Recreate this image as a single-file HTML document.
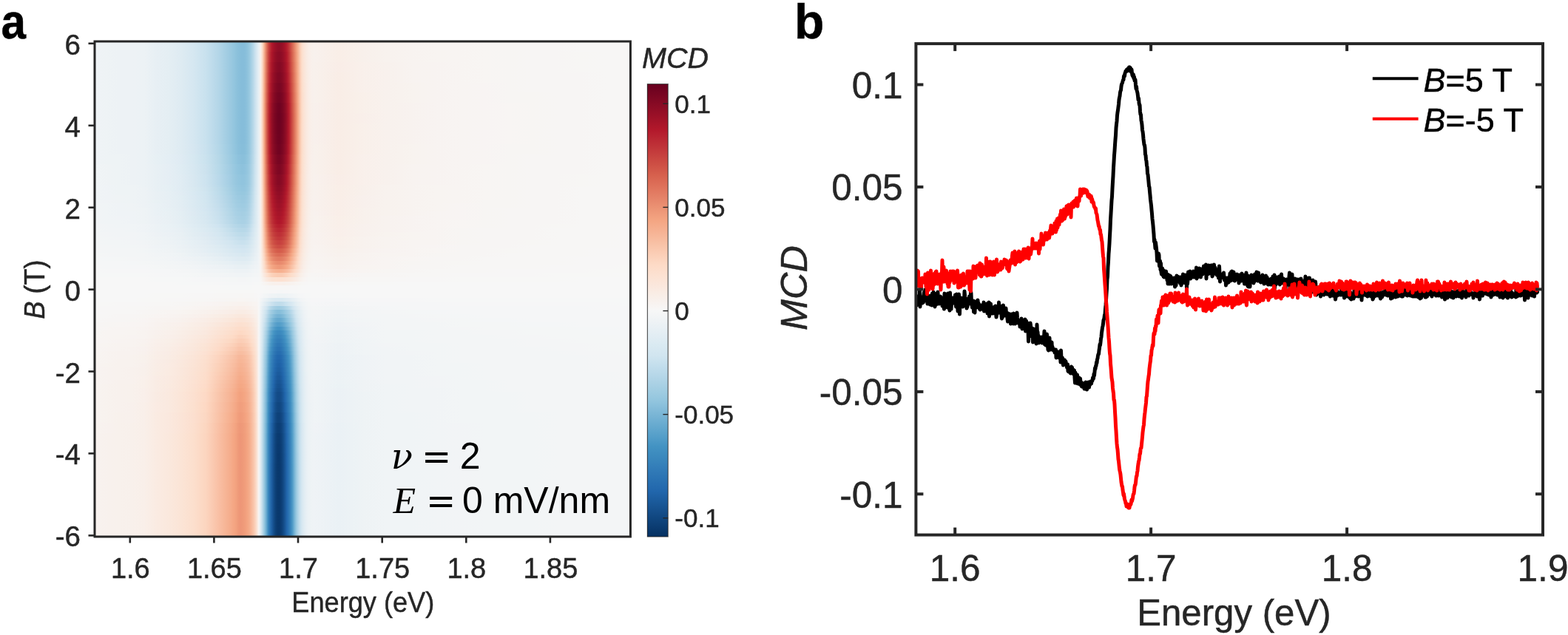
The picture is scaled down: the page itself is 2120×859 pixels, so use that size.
<!DOCTYPE html>
<html><head><meta charset="utf-8"><title>MCD figure</title>
<style>
html,body{margin:0;padding:0;background:#fff;}
#fig{position:relative;width:2120px;height:859px;overflow:hidden;background:#fff;font-family:"Liberation Sans",Arial,Helvetica,sans-serif;}
#heat{position:absolute;left:128.0px;top:56.0px;width:724.4px;height:670.0px;overflow:hidden;background:#f7f7f7;}
#heat div{position:absolute;left:0;width:100%;}
#cbar{position:absolute;left:875.4px;top:113.6px;width:27.8px;height:612.4px;background:linear-gradient(180deg,#67001f 0.0%,#7a0622 2.5%,#8c0c25 5.0%,#9f1228 7.5%,#b2182b 10.0%,#bb2a34 12.5%,#c43c3c 15.0%,#cd4e44 17.5%,#d6604d 20.0%,#de715a 22.5%,#e58268 25.0%,#ec9475 27.5%,#f4a582 30.0%,#f6b293 32.5%,#f8c0a4 35.0%,#fbceb6 37.5%,#fddbc7 40.0%,#fce2d3 42.5%,#fae9df 45.0%,#f8f0eb 47.5%,#f7f7f7 50.0%,#eef2f5 52.5%,#e4eef4 55.0%,#daeaf2 57.5%,#d1e5f0 60.0%,#c1ddec 62.5%,#b2d5e7 65.0%,#a2cde2 67.5%,#92c5de 70.0%,#7eb8d7 72.5%,#6aacd0 75.0%,#57a0ca 77.5%,#4393c3 80.0%,#3a88bd 82.5%,#327cb8 85.0%,#2971b2 87.5%,#2166ac 90.0%,#1a5999 92.5%,#134b86 95.0%,#0c3e74 97.5%,#053061 100.0%);}
svg{position:absolute;left:0;top:0;}
svg text{font-family:"Liberation Sans",Arial,Helvetica,sans-serif;}
</style></head><body>
<div id="fig">
<div id="heat">
<div style="top:0.07px;height:14.47px;background:linear-gradient(90deg,#eff3f6 0.00%,#eef3f5 2.31%,#edf2f5 4.62%,#edf2f5 6.93%,#ecf2f5 9.24%,#e7eff4 11.55%,#e4eef3 13.87%,#deebf2 16.18%,#d5e7f1 18.49%,#c8e1ee 20.80%,#b4d6e8 23.11%,#9ac9e0 25.42%,#96c7df 25.77%,#92c5de 26.12%,#8dc2dc 26.47%,#8ac0db 26.81%,#87beda 27.16%,#86bdda 27.51%,#86bdda 27.86%,#89bfdb 28.21%,#8fc3dd 28.56%,#99c9e0 28.91%,#a7d0e4 29.25%,#b7d8e9 29.60%,#cae1ee 29.95%,#dae9f2 30.30%,#e9f0f4 30.65%,#f9f0eb 31.00%,#fddac5 31.35%,#f6af8f 31.69%,#e37e64 32.04%,#ce5046 32.39%,#bd2f36 32.74%,#b2182b 33.09%,#a31329 33.44%,#991027 33.79%,#910e26 34.13%,#8f0d25 34.48%,#930e26 34.83%,#9b1127 35.18%,#a71529 35.53%,#b51d2e 35.88%,#bf3237 36.23%,#cc4b43 36.57%,#d96652 36.92%,#e48065 37.27%,#ef9b7a 37.62%,#f6b394 37.97%,#faccb3 38.32%,#fcddcb 38.67%,#fbe4d6 39.01%,#fae8de 39.36%,#f9ece4 39.71%,#f9efe9 40.06%,#f8f0eb 40.41%,#f8f1ec 40.76%,#f8f1ed 41.10%,#f9eee7 45.63%,#f8f0eb 50.16%,#f8f2ee 54.69%,#f8f3f0 59.22%,#f8f4f1 63.75%,#f8f4f2 68.28%,#f8f5f3 72.81%,#f7f5f3 77.34%,#f7f5f4 81.87%,#f7f5f4 86.40%,#f7f6f5 90.93%,#f7f6f5 95.46%,#f7f6f5 99.99%)"></div>
<div style="top:13.93px;height:14.47px;background:linear-gradient(90deg,#eff3f6 0.00%,#eef3f5 2.31%,#edf2f5 4.62%,#edf2f5 6.93%,#ecf2f5 9.24%,#e7eff4 11.55%,#e4eef3 13.87%,#deebf2 16.18%,#d5e7f1 18.49%,#c8e1ee 20.80%,#b4d6e8 23.11%,#9ac9e0 25.42%,#96c7df 25.77%,#92c5de 26.12%,#8dc2dc 26.47%,#8ac0db 26.81%,#87beda 27.16%,#86bdda 27.51%,#86bdda 27.86%,#89bfdb 28.21%,#8fc3dd 28.56%,#99c9e0 28.91%,#a7d0e4 29.25%,#b7d8e9 29.60%,#cae1ee 29.95%,#dae9f2 30.30%,#e9f0f4 30.65%,#f9f0eb 31.00%,#fdd9c4 31.35%,#f5ad8d 31.69%,#e27b62 32.04%,#cc4d44 32.39%,#bb2a34 32.74%,#ad162a 33.09%,#9e1228 33.44%,#930e26 33.79%,#8c0c25 34.13%,#8a0b25 34.48%,#8e0c25 34.83%,#960f27 35.18%,#a21328 35.53%,#b2192b 35.88%,#bd2e35 36.23%,#ca4741 36.57%,#d7634f 36.92%,#e37d63 37.27%,#ee9878 37.62%,#f6b292 37.97%,#facbb2 38.32%,#fdddca 38.67%,#fbe4d6 39.01%,#fae8de 39.36%,#f9ece4 39.71%,#f9eee8 40.06%,#f9f0eb 40.41%,#f8f1ec 40.76%,#f8f1ed 41.10%,#f9eee7 45.63%,#f8f0eb 50.16%,#f8f2ee 54.69%,#f8f3f0 59.22%,#f8f4f1 63.75%,#f8f4f2 68.28%,#f8f5f3 72.81%,#f7f5f3 77.34%,#f7f5f4 81.87%,#f7f5f4 86.40%,#f7f6f4 90.93%,#f7f6f5 95.46%,#f7f6f5 99.99%)"></div>
<div style="top:27.80px;height:14.47px;background:linear-gradient(90deg,#eff3f6 0.00%,#eef3f5 2.31%,#edf2f5 4.62%,#edf2f5 6.93%,#ecf2f5 9.24%,#e7eff4 11.55%,#e4eef3 13.87%,#deebf2 16.18%,#d5e7f1 18.49%,#c8e1ee 20.80%,#b4d6e8 23.11%,#9ac9e0 25.42%,#96c7df 25.77%,#92c5de 26.12%,#8dc2dc 26.47%,#8ac0db 26.81%,#87beda 27.16%,#86bdda 27.51%,#86bdda 27.86%,#89bfdb 28.21%,#8fc3dd 28.56%,#99c9e0 28.91%,#a7d0e4 29.25%,#b7d8e9 29.60%,#cae1ee 29.95%,#dae9f2 30.30%,#e8f0f4 30.65%,#f9f0eb 31.00%,#fcd8c3 31.35%,#f5ac8b 31.69%,#e0785f 32.04%,#ca4942 32.39%,#b92632 32.74%,#a81529 33.09%,#991027 33.44%,#8e0c25 33.79%,#870a24 34.13%,#840924 34.48%,#880b24 34.83%,#910d26 35.18%,#9d1128 35.53%,#ae172a 35.88%,#bb2933 36.23%,#c84440 36.57%,#d65f4d 36.92%,#e17a61 37.27%,#ed9676 37.62%,#f6b090 37.97%,#fac9b1 38.32%,#fdddca 38.67%,#fbe3d5 39.01%,#fae8dd 39.36%,#f9ece4 39.71%,#f9eee8 40.06%,#f9f0eb 40.41%,#f8f1ec 40.76%,#f8f1ec 41.10%,#f9ede7 45.63%,#f9f0eb 50.16%,#f8f1ed 54.69%,#f8f3f0 59.22%,#f8f3f1 63.75%,#f8f4f2 68.28%,#f8f5f3 72.81%,#f7f5f3 77.34%,#f7f5f4 81.87%,#f7f5f4 86.40%,#f7f6f4 90.93%,#f7f6f5 95.46%,#f7f6f5 99.99%)"></div>
<div style="top:41.66px;height:14.47px;background:linear-gradient(90deg,#eff3f6 0.00%,#eef3f5 2.31%,#edf2f5 4.62%,#edf2f5 6.93%,#ecf2f5 9.24%,#e7eff4 11.55%,#e4eef3 13.87%,#deebf2 16.18%,#d5e7f1 18.49%,#c8e1ee 20.80%,#b4d6e8 23.11%,#9ac9e0 25.42%,#96c7df 25.77%,#92c5de 26.12%,#8dc2dc 26.47%,#8ac0db 26.81%,#87beda 27.16%,#86bdda 27.51%,#86bdda 27.86%,#89bfdb 28.21%,#8fc3dd 28.56%,#99c9e0 28.91%,#a7d0e4 29.25%,#b7d8e9 29.60%,#cae1ee 29.95%,#dae9f2 30.30%,#e8f0f4 30.65%,#f9f0ea 31.00%,#fcd7c2 31.35%,#f5aa89 31.69%,#df755d 32.04%,#c94540 32.39%,#b72230 32.74%,#a31329 33.09%,#930e26 33.44%,#890b24 33.79%,#810823 34.13%,#7f0823 34.48%,#830923 34.83%,#8c0c25 35.18%,#981027 35.53%,#a9152a 35.88%,#b92531 36.23%,#c6403e 36.57%,#d45c4b 36.92%,#e0775f 37.27%,#ec9374 37.62%,#f6af8e 37.97%,#fac8af 38.32%,#fddcc9 38.67%,#fbe3d5 39.01%,#fae8dd 39.36%,#f9ece3 39.71%,#f9eee8 40.06%,#f9f0eb 40.41%,#f8f1ec 40.76%,#f8f1ec 41.10%,#f9ede6 45.63%,#f9f0eb 50.16%,#f8f1ed 54.69%,#f8f3f0 59.22%,#f8f3f1 63.75%,#f8f4f2 68.28%,#f8f5f3 72.81%,#f7f5f3 77.34%,#f7f5f4 81.87%,#f7f5f4 86.40%,#f7f5f4 90.93%,#f7f6f5 95.46%,#f7f6f5 99.99%)"></div>
<div style="top:55.53px;height:14.47px;background:linear-gradient(90deg,#eff3f6 0.00%,#eef3f5 2.31%,#edf2f5 4.62%,#edf2f5 6.93%,#ecf2f5 9.24%,#e7eff4 11.55%,#e4eef3 13.87%,#deebf2 16.18%,#d5e7f1 18.49%,#c8e1ee 20.80%,#b4d6e8 23.11%,#9ac9e0 25.42%,#96c7df 25.77%,#92c5de 26.12%,#8dc2dc 26.47%,#8ac0db 26.81%,#87beda 27.16%,#86bdda 27.51%,#86bdda 27.86%,#89bfdb 28.21%,#8fc3dd 28.56%,#99c9e0 28.91%,#a7d0e4 29.25%,#b7d8e9 29.60%,#cae1ee 29.95%,#d9e9f2 30.30%,#e8f0f4 30.65%,#f9f0ea 31.00%,#fcd6c1 31.35%,#f5a987 31.69%,#de725b 32.04%,#c7413e 32.39%,#b51d2e 32.74%,#9f1228 33.09%,#8e0d25 33.44%,#830924 33.79%,#7c0722 34.13%,#790622 34.48%,#7d0723 34.83%,#870a24 35.18%,#930e26 35.53%,#a41429 35.88%,#b6212f 36.23%,#c43c3c 36.57%,#d25849 36.92%,#df745d 37.27%,#eb9173 37.62%,#f5ad8d 37.97%,#fac7ae 38.32%,#fddcc8 38.67%,#fbe3d4 39.01%,#fae7dc 39.36%,#faebe3 39.71%,#f9eee8 40.06%,#f9f0ea 40.41%,#f8f0ec 40.76%,#f8f1ec 41.10%,#f9ede6 45.63%,#f9f0eb 50.16%,#f8f1ed 54.69%,#f8f3ef 59.22%,#f8f3f1 63.75%,#f8f4f2 68.28%,#f8f4f3 72.81%,#f7f5f3 77.34%,#f7f5f4 81.87%,#f7f5f4 86.40%,#f7f5f4 90.93%,#f7f6f5 95.46%,#f7f6f5 99.99%)"></div>
<div style="top:69.39px;height:14.46px;background:linear-gradient(90deg,#eff3f6 0.00%,#eef3f5 2.31%,#edf2f5 4.62%,#edf2f5 6.93%,#ecf2f5 9.24%,#e7eff4 11.55%,#e4eef3 13.87%,#deebf2 16.18%,#d5e7f1 18.49%,#c8e1ee 20.80%,#b4d6e8 23.11%,#9ac9e0 25.42%,#96c7df 25.77%,#92c5de 26.12%,#8dc2dc 26.47%,#8ac0db 26.81%,#87beda 27.16%,#86bdda 27.51%,#86bdda 27.86%,#89bfdb 28.21%,#8fc3dd 28.56%,#99c9e0 28.91%,#a7d0e4 29.25%,#b7d8e9 29.60%,#cae1ee 29.95%,#d9e9f2 30.30%,#e8f0f4 30.65%,#f9efea 31.00%,#fcd5c0 31.35%,#f4a785 31.69%,#dd6f59 32.04%,#c53e3d 32.39%,#b2192b 32.74%,#9a1027 33.09%,#890b24 33.44%,#7e0723 33.79%,#760521 34.13%,#740421 34.48%,#780522 34.83%,#810823 35.18%,#8e0c25 35.53%,#a01228 35.88%,#b41d2d 36.23%,#c2383a 36.57%,#d15548 36.92%,#de725a 37.27%,#ea8e71 37.62%,#f5ac8b 37.97%,#fac6ac 38.32%,#fddbc8 38.67%,#fbe2d3 39.01%,#fae7dc 39.36%,#faebe3 39.71%,#f9eee7 40.06%,#f9f0ea 40.41%,#f8f0ec 40.76%,#f8f1ec 41.10%,#f9ede6 45.63%,#f9f0ea 50.16%,#f8f1ed 54.69%,#f8f3ef 59.22%,#f8f3f1 63.75%,#f8f4f2 68.28%,#f8f4f3 72.81%,#f7f5f3 77.34%,#f7f5f3 81.87%,#f7f5f4 86.40%,#f7f5f4 90.93%,#f7f6f5 95.46%,#f7f6f5 99.99%)"></div>
<div style="top:83.26px;height:14.47px;background:linear-gradient(90deg,#eff3f6 0.00%,#eef3f5 2.31%,#edf2f5 4.62%,#edf2f5 6.93%,#ecf2f5 9.24%,#e7eff4 11.55%,#e4eef3 13.87%,#deebf2 16.18%,#d5e7f1 18.49%,#c8e1ee 20.80%,#b4d6e8 23.11%,#9ac9e0 25.42%,#96c7df 25.77%,#92c5de 26.12%,#8dc2dc 26.47%,#8ac0db 26.81%,#87beda 27.16%,#86bdda 27.51%,#86bdda 27.86%,#89bfdb 28.21%,#8fc3dd 28.56%,#99c9e0 28.91%,#a7d0e4 29.25%,#b7d8e9 29.60%,#cae1ee 29.95%,#d9e9f1 30.30%,#e8f0f4 30.65%,#f9efea 31.00%,#fcd4be 31.35%,#f4a583 31.69%,#db6c56 32.04%,#c33a3b 32.39%,#af172a 32.74%,#950f26 33.09%,#840924 33.44%,#790622 33.79%,#710321 34.13%,#6e0220 34.48%,#730421 34.83%,#7c0722 35.18%,#890b24 35.53%,#9b1127 35.88%,#b2182b 36.23%,#c03438 36.57%,#cf5246 36.92%,#dc6f58 37.27%,#e98c6f 37.62%,#f5aa89 37.97%,#f9c5ab 38.32%,#fddbc7 38.67%,#fce2d3 39.01%,#fae7dc 39.36%,#faebe2 39.71%,#f9eee7 40.06%,#f9efea 40.41%,#f8f0eb 40.76%,#f8f0ec 41.10%,#f9ede6 45.63%,#f9f0ea 50.16%,#f8f1ed 54.69%,#f8f2ef 59.22%,#f8f3f1 63.75%,#f8f4f2 68.28%,#f8f4f3 72.81%,#f8f5f3 77.34%,#f7f5f3 81.87%,#f7f5f4 86.40%,#f7f5f4 90.93%,#f7f6f5 95.46%,#f7f6f5 99.99%)"></div>
<div style="top:97.12px;height:14.46px;background:linear-gradient(90deg,#eff3f6 0.00%,#eef3f5 2.31%,#edf2f5 4.62%,#edf2f5 6.93%,#ecf2f5 9.24%,#e7eff4 11.55%,#e4eef3 13.87%,#deebf2 16.18%,#d5e7f1 18.49%,#c8e1ee 20.80%,#b4d6e8 23.11%,#9ac9e0 25.42%,#96c7df 25.77%,#92c5de 26.12%,#8dc2dc 26.47%,#8ac0db 26.81%,#87beda 27.16%,#86bdda 27.51%,#86bdda 27.86%,#89bfdb 28.21%,#8fc3dd 28.56%,#99c9e0 28.91%,#a7d0e4 29.25%,#b7d8e9 29.60%,#cae1ee 29.95%,#d9e9f1 30.30%,#e8f0f4 30.65%,#f9efea 31.00%,#fcd4be 31.35%,#f4a582 31.69%,#db6b56 32.04%,#c2383a 32.39%,#ad162a 32.74%,#930e26 33.09%,#820923 33.44%,#770522 33.79%,#6f0320 34.13%,#6c0220 34.48%,#710321 34.83%,#7a0622 35.18%,#870a24 35.53%,#991027 35.88%,#b1182b 36.23%,#bf3338 36.57%,#ce5046 36.92%,#dc6e57 37.27%,#e98b6e 37.62%,#f5aa88 37.97%,#f9c5aa 38.32%,#fddac6 38.67%,#fce2d3 39.01%,#fae7db 39.36%,#faebe2 39.71%,#f9eee7 40.06%,#f9efea 40.41%,#f8f0eb 40.76%,#f8f0ec 41.10%,#f9ede6 45.63%,#f9efea 50.16%,#f8f1ed 54.69%,#f8f2ef 59.22%,#f8f3f1 63.75%,#f8f4f2 68.28%,#f8f4f3 72.81%,#f8f5f3 77.34%,#f7f5f3 81.87%,#f7f5f4 86.40%,#f7f5f4 90.93%,#f7f6f5 95.46%,#f7f6f5 99.99%)"></div>
<div style="top:110.99px;height:14.47px;background:linear-gradient(90deg,#eff3f6 0.00%,#eef3f5 2.31%,#edf2f5 4.62%,#edf2f5 6.93%,#ecf2f5 9.24%,#e7eff4 11.55%,#e4eef3 13.87%,#deebf2 16.18%,#d5e7f1 18.49%,#c8e1ee 20.80%,#b4d6e8 23.11%,#9ac9e0 25.42%,#96c7df 25.77%,#92c5de 26.12%,#8dc2dc 26.47%,#8ac0db 26.81%,#87beda 27.16%,#86bdda 27.51%,#86bdda 27.86%,#89bfdb 28.21%,#8fc3dd 28.56%,#99c9e0 28.91%,#a7d0e4 29.25%,#b7d8e9 29.60%,#cae1ee 29.95%,#d9e9f1 30.30%,#e8f0f4 30.65%,#f9efea 31.00%,#fcd4be 31.35%,#f4a582 31.69%,#db6c56 32.04%,#c3393b 32.39%,#ae172a 32.74%,#940e26 33.09%,#830924 33.44%,#780522 33.79%,#700320 34.13%,#6d0220 34.48%,#720321 34.83%,#7b0622 35.18%,#880b24 35.53%,#9a1027 35.88%,#b2182b 36.23%,#c03338 36.57%,#cf5146 36.92%,#dc6e58 37.27%,#e98c6f 37.62%,#f5aa88 37.97%,#f9c5ab 38.32%,#fddbc7 38.67%,#fce2d3 39.01%,#fae7dc 39.36%,#faebe2 39.71%,#f9eee7 40.06%,#f9efea 40.41%,#f8f0eb 40.76%,#f8f0ec 41.10%,#f9ede6 45.63%,#f9f0ea 50.16%,#f8f1ed 54.69%,#f8f2ef 59.22%,#f8f3f1 63.75%,#f8f4f2 68.28%,#f8f4f3 72.81%,#f8f5f3 77.34%,#f7f5f3 81.87%,#f7f5f4 86.40%,#f7f5f4 90.93%,#f7f6f5 95.46%,#f7f6f5 99.99%)"></div>
<div style="top:124.85px;height:14.47px;background:linear-gradient(90deg,#eff3f6 0.00%,#eef3f5 2.31%,#edf2f5 4.62%,#edf2f5 6.93%,#ecf2f5 9.24%,#e7eff4 11.55%,#e4eef3 13.87%,#deebf2 16.18%,#d5e7f1 18.49%,#c8e1ee 20.80%,#b4d6e8 23.11%,#9ac9e0 25.42%,#96c7df 25.77%,#92c5de 26.12%,#8dc2dc 26.47%,#8ac0db 26.81%,#87beda 27.16%,#86bdda 27.51%,#86bdda 27.86%,#89bfdb 28.21%,#8fc3dd 28.56%,#99c9e0 28.91%,#a7d0e4 29.25%,#b7d8e9 29.60%,#cae1ee 29.95%,#d9e9f2 30.30%,#e8f0f4 30.65%,#f9efea 31.00%,#fcd4be 31.35%,#f4a683 31.69%,#db6c56 32.04%,#c33a3b 32.39%,#af172a 32.74%,#950f26 33.09%,#840924 33.44%,#790622 33.79%,#710321 34.13%,#6f0220 34.48%,#730421 34.83%,#7c0722 35.18%,#890b24 35.53%,#9b1127 35.88%,#b2182b 36.23%,#c03438 36.57%,#cf5246 36.92%,#dc6f58 37.27%,#e98c6f 37.62%,#f5aa89 37.97%,#f9c5ab 38.32%,#fddbc7 38.67%,#fce2d3 39.01%,#fae7dc 39.36%,#faebe2 39.71%,#f9eee7 40.06%,#f9efea 40.41%,#f8f0eb 40.76%,#f8f0ec 41.10%,#f9ede6 45.63%,#f9f0ea 50.16%,#f8f1ed 54.69%,#f8f2ef 59.22%,#f8f3f1 63.75%,#f8f4f2 68.28%,#f8f4f3 72.81%,#f8f5f3 77.34%,#f7f5f3 81.87%,#f7f5f4 86.40%,#f7f5f4 90.93%,#f7f6f5 95.46%,#f7f6f5 99.99%)"></div>
<div style="top:138.72px;height:14.46px;background:linear-gradient(90deg,#eff3f6 0.00%,#eef3f5 2.31%,#edf2f5 4.62%,#edf2f5 6.93%,#ecf2f5 9.24%,#e7eff4 11.55%,#e4eef3 13.87%,#deebf2 16.18%,#d6e7f1 18.49%,#c9e1ee 20.80%,#b5d7e8 23.11%,#9bcae1 25.42%,#97c7df 25.77%,#93c5de 26.12%,#8ec3dd 26.47%,#8bc0db 26.81%,#88bfdb 27.16%,#87beda 27.51%,#87beda 27.86%,#8ac0db 28.21%,#90c4dd 28.56%,#9ac9e0 28.91%,#a8d0e4 29.25%,#b8d8e9 29.60%,#cae1ee 29.95%,#d9e9f2 30.30%,#e8f0f4 30.65%,#f9efea 31.00%,#fcd5bf 31.35%,#f4a684 31.69%,#dc6e58 32.04%,#c43c3c 32.39%,#b1182b 32.74%,#970f27 33.09%,#870a24 33.44%,#7c0722 33.79%,#740421 34.13%,#710321 34.48%,#760521 34.83%,#7f0823 35.18%,#8c0c25 35.53%,#9d1128 35.88%,#b31b2c 36.23%,#c13639 36.57%,#d05347 36.92%,#dd7059 37.27%,#ea8d70 37.62%,#f5ab8a 37.97%,#f9c6ac 38.32%,#fddbc7 38.67%,#fbe2d3 39.01%,#fae7dc 39.36%,#faebe3 39.71%,#f9eee7 40.06%,#f9efea 40.41%,#f8f0eb 40.76%,#f8f1ec 41.10%,#f9ede6 45.63%,#f9f0ea 50.16%,#f8f1ed 54.69%,#f8f3ef 59.22%,#f8f3f1 63.75%,#f8f4f2 68.28%,#f8f4f3 72.81%,#f7f5f3 77.34%,#f7f5f3 81.87%,#f7f5f4 86.40%,#f7f5f4 90.93%,#f7f6f5 95.46%,#f7f6f5 99.99%)"></div>
<div style="top:152.58px;height:14.47px;background:linear-gradient(90deg,#eff3f6 0.00%,#eef3f5 2.31%,#eef3f5 4.62%,#edf2f5 6.93%,#ecf2f5 9.24%,#e7f0f4 11.55%,#e4eef4 13.87%,#dfebf3 16.18%,#d6e8f1 18.49%,#cae2ee 20.80%,#b7d8e8 23.11%,#9dcbe1 25.42%,#99c9e0 25.77%,#95c7df 26.12%,#91c5de 26.47%,#8ec2dd 26.81%,#8cc1dc 27.16%,#8ac0db 27.51%,#8ac0db 27.86%,#8dc2dc 28.21%,#93c6de 28.56%,#9ccae1 28.91%,#aad1e5 29.25%,#b9d9e9 29.60%,#cbe2ee 29.95%,#dae9f2 30.30%,#e8f0f4 30.65%,#f9efea 31.00%,#fcd6c0 31.35%,#f5a886 31.69%,#de715a 32.04%,#c6403e 32.39%,#b41c2d 32.74%,#9d1128 33.09%,#8d0c25 33.44%,#820923 33.79%,#7a0622 34.13%,#780522 34.48%,#7c0722 34.83%,#850a24 35.18%,#920e26 35.53%,#a31329 35.88%,#b6202f 36.23%,#c33b3b 36.57%,#d25849 36.92%,#df745c 37.27%,#eb9072 37.62%,#f5ad8c 37.97%,#fac7ad 38.32%,#fddcc8 38.67%,#fbe3d4 39.01%,#fae7dc 39.36%,#faebe3 39.71%,#f9eee8 40.06%,#f9f0ea 40.41%,#f8f0ec 40.76%,#f8f1ec 41.10%,#f9ede6 45.63%,#f9f0eb 50.16%,#f8f1ed 54.69%,#f8f3ef 59.22%,#f8f3f1 63.75%,#f8f4f2 68.28%,#f8f4f3 72.81%,#f7f5f3 77.34%,#f7f5f4 81.87%,#f7f5f4 86.40%,#f7f5f4 90.93%,#f7f6f5 95.46%,#f7f6f5 99.99%)"></div>
<div style="top:166.45px;height:14.47px;background:linear-gradient(90deg,#f0f4f6 0.00%,#eff3f5 2.31%,#eef3f5 4.62%,#edf2f5 6.93%,#ecf2f5 9.24%,#e8f0f4 11.55%,#e5eef4 13.87%,#dfecf3 16.18%,#d7e8f1 18.49%,#cce2ee 20.80%,#b8d9e9 23.11%,#a0cce2 25.42%,#9ccae1 25.77%,#98c8e0 26.12%,#94c6df 26.47%,#91c5de 26.81%,#8fc3dd 27.16%,#8dc2dc 27.51%,#8ec2dd 27.86%,#91c4de 28.21%,#96c7df 28.56%,#9fcce2 28.91%,#acd2e5 29.25%,#bbdaea 29.60%,#cde3ef 29.95%,#dae9f2 30.30%,#e8f0f4 30.65%,#f9f0ea 31.00%,#fcd7c2 31.35%,#f5aa89 31.69%,#df755d 32.04%,#c84540 32.39%,#b7212f 32.74%,#a31329 33.09%,#930e26 33.44%,#880b24 33.79%,#810823 34.13%,#7e0723 34.48%,#820923 34.83%,#8b0c25 35.18%,#981027 35.53%,#a9152a 35.88%,#b82531 36.23%,#c63f3e 36.57%,#d45c4b 36.92%,#e0775f 37.27%,#ec9374 37.62%,#f6af8e 37.97%,#fac8af 38.32%,#fddcc9 38.67%,#fbe3d4 39.01%,#fae8dd 39.36%,#f9ebe3 39.71%,#f9eee8 40.06%,#f9f0eb 40.41%,#f8f1ec 40.76%,#f8f1ec 41.10%,#f9ede6 45.63%,#f9f0eb 50.16%,#f8f1ed 54.69%,#f8f3f0 59.22%,#f8f3f1 63.75%,#f8f4f2 68.28%,#f8f5f3 72.81%,#f7f5f3 77.34%,#f7f5f4 81.87%,#f7f5f4 86.40%,#f7f5f4 90.93%,#f7f6f5 95.46%,#f7f6f5 99.99%)"></div>
<div style="top:180.31px;height:14.46px;background:linear-gradient(90deg,#f0f4f6 0.00%,#eff3f5 2.31%,#eef3f5 4.62%,#edf2f5 6.93%,#ecf2f5 9.24%,#e8f0f4 11.55%,#e5eef4 13.87%,#e0ecf3 16.18%,#d8e8f1 18.49%,#cde3ef 20.80%,#bad9ea 23.11%,#a2cde3 25.42%,#9ecbe1 25.77%,#9ac9e0 26.12%,#97c7df 26.47%,#94c6df 26.81%,#92c5de 27.16%,#91c4de 27.51%,#91c4de 27.86%,#94c6de 28.21%,#98c8e0 28.56%,#a1cde2 28.91%,#aed3e6 29.25%,#bddbea 29.60%,#cee4ef 29.95%,#dbeaf2 30.30%,#e9f0f4 30.65%,#f9f0eb 31.00%,#fcd8c3 31.35%,#f5ac8b 31.69%,#e07860 32.04%,#cb4942 32.39%,#b92632 32.74%,#a9152a 33.09%,#991027 33.44%,#8f0d25 33.79%,#870a24 34.13%,#850a24 34.48%,#890b24 34.83%,#920e26 35.18%,#9e1128 35.53%,#af172a 35.88%,#bb2a33 36.23%,#c84440 36.57%,#d6604d 36.92%,#e17a61 37.27%,#ed9676 37.62%,#f6b091 37.97%,#facab1 38.32%,#fdddca 38.67%,#fbe3d5 39.01%,#fae8dd 39.36%,#f9ece4 39.71%,#f9eee8 40.06%,#f9f0eb 40.41%,#f8f1ec 40.76%,#f8f1ed 41.10%,#f9ede7 45.63%,#f9f0eb 50.16%,#f8f1ed 54.69%,#f8f3f0 59.22%,#f8f3f1 63.75%,#f8f4f2 68.28%,#f8f5f3 72.81%,#f7f5f3 77.34%,#f7f5f4 81.87%,#f7f5f4 86.40%,#f7f6f4 90.93%,#f7f6f5 95.46%,#f7f6f5 99.99%)"></div>
<div style="top:194.18px;height:3.37px;background:linear-gradient(90deg,#f0f4f6 0.00%,#eff3f6 2.31%,#eef3f5 4.62%,#eef3f5 6.93%,#ecf2f5 9.24%,#e8f0f4 11.55%,#e5eff4 13.87%,#e0ecf3 16.18%,#d8e8f1 18.49%,#cee3ef 20.80%,#bbdaea 23.11%,#a3cee3 25.42%,#a0cce2 25.77%,#9ccae1 26.12%,#98c8e0 26.47%,#96c7df 26.81%,#94c6df 27.16%,#93c5de 27.51%,#93c5de 27.86%,#95c7df 28.21%,#9ac9e0 28.56%,#a3cde3 28.91%,#afd4e6 29.25%,#bedbeb 29.60%,#cfe4ef 29.95%,#dbeaf2 30.30%,#e9f0f4 30.65%,#f9f0eb 31.00%,#fdd9c4 31.35%,#f5ad8c 31.69%,#e17a61 32.04%,#cc4c44 32.39%,#bb2933 32.74%,#ac162a 33.09%,#9d1128 33.44%,#920e26 33.79%,#8b0c25 34.13%,#890b24 34.48%,#8d0c25 34.83%,#950f26 35.18%,#a11328 35.53%,#b2182b 35.88%,#bc2d35 36.23%,#c94741 36.57%,#d7624f 36.92%,#e27c63 37.27%,#ee9878 37.62%,#f6b292 37.97%,#facab2 38.32%,#fdddca 38.67%,#fbe3d6 39.01%,#fae8de 39.36%,#f9ece4 39.71%,#f9eee8 40.06%,#f9f0eb 40.41%,#f8f1ec 40.76%,#f8f1ed 41.10%,#f9eee7 45.63%,#f8f0eb 50.16%,#f8f2ee 54.69%,#f8f3f0 59.22%,#f8f4f1 63.75%,#f8f4f2 68.28%,#f8f5f3 72.81%,#f7f5f3 77.34%,#f7f5f4 81.87%,#f7f5f4 86.40%,#f7f6f4 90.93%,#f7f6f5 95.46%,#f7f6f5 99.99%)"></div>
<div style="top:196.95px;height:6.15px;background:linear-gradient(90deg,#f0f4f6 0.00%,#eff3f6 2.31%,#eef3f5 4.62%,#eef3f5 6.93%,#edf2f5 9.24%,#e8f0f4 11.55%,#e5eff4 13.87%,#e0ecf3 16.18%,#d9e9f1 18.49%,#cfe4ef 20.80%,#bddbea 23.11%,#a5cfe3 25.42%,#a1cde2 25.77%,#9dcbe1 26.12%,#9ac9e0 26.47%,#97c8df 26.81%,#95c7df 27.16%,#94c6df 27.51%,#94c6df 27.86%,#97c7df 28.21%,#9bcae1 28.56%,#a4cee3 28.91%,#b1d5e7 29.25%,#bfdceb 29.60%,#d0e4f0 29.95%,#dceaf2 30.30%,#e9f0f4 30.65%,#f9f0eb 31.00%,#fdd9c5 31.35%,#f5ae8d 31.69%,#e27c62 32.04%,#cd4e44 32.39%,#bc2c34 32.74%,#af172a 33.09%,#9f1228 33.44%,#950f26 33.79%,#8e0c25 34.13%,#8c0c25 34.48%,#8f0d25 34.83%,#981027 35.18%,#a41329 35.53%,#b31a2c 35.88%,#be2f36 36.23%,#ca4942 36.57%,#d86450 36.92%,#e37e64 37.27%,#ef9979 37.62%,#f6b293 37.97%,#facbb3 38.32%,#fdddcb 38.67%,#fbe4d6 39.01%,#fae8de 39.36%,#f9ece4 39.71%,#f9eee8 40.06%,#f8f0eb 40.41%,#f8f1ec 40.76%,#f8f1ed 41.10%,#f9eee7 45.63%,#f8f0eb 50.16%,#f8f2ee 54.69%,#f8f3f0 59.22%,#f8f4f1 63.75%,#f8f4f2 68.28%,#f8f5f3 72.81%,#f7f5f3 77.34%,#f7f5f4 81.87%,#f7f5f4 86.40%,#f7f6f5 90.93%,#f7f6f5 95.46%,#f7f6f5 99.99%)"></div>
<div style="top:202.50px;height:6.15px;background:linear-gradient(90deg,#f0f4f6 0.00%,#eff3f6 2.31%,#eef3f5 4.62%,#eef3f5 6.93%,#edf2f5 9.24%,#e9f0f4 11.55%,#e6eff4 13.87%,#e1ecf3 16.18%,#d9e9f2 18.49%,#d0e5f0 20.80%,#bedceb 23.11%,#a7d0e4 25.42%,#a3cee3 25.77%,#a0cce2 26.12%,#9ccae1 26.47%,#9ac9e0 26.81%,#98c8e0 27.16%,#97c8df 27.51%,#97c8df 27.86%,#99c9e0 28.21%,#9ecbe1 28.56%,#a6cfe4 28.91%,#b3d6e7 29.25%,#c1ddeb 29.60%,#d1e5f0 29.95%,#dceaf2 30.30%,#e9f0f4 30.65%,#f9f0eb 31.00%,#fddac5 31.35%,#f6af8f 31.69%,#e37e64 32.04%,#ce5146 32.39%,#be2f36 32.74%,#b2192b 33.09%,#a41329 33.44%,#991027 33.79%,#920e26 34.13%,#900d26 34.48%,#940e26 34.83%,#9c1128 35.18%,#a81529 35.53%,#b51e2e 35.88%,#bf3338 36.23%,#cc4c43 36.57%,#d96652 36.92%,#e48066 37.27%,#f09b7a 37.62%,#f6b495 37.97%,#faccb4 38.32%,#fcddcb 38.67%,#fbe4d6 39.01%,#fae8de 39.36%,#f9ece4 39.71%,#f9efe9 40.06%,#f8f0eb 40.41%,#f8f1ec 40.76%,#f8f1ed 41.10%,#f9eee7 45.63%,#f8f0eb 50.16%,#f8f2ee 54.69%,#f8f3f0 59.22%,#f8f4f1 63.75%,#f8f4f2 68.28%,#f8f5f3 72.81%,#f7f5f3 77.34%,#f7f5f4 81.87%,#f7f5f4 86.40%,#f7f6f5 90.93%,#f7f6f5 95.46%,#f7f6f5 99.99%)"></div>
<div style="top:208.04px;height:6.15px;background:linear-gradient(90deg,#f0f4f6 0.00%,#eff3f6 2.31%,#eff3f5 4.62%,#eef3f5 6.93%,#edf2f5 9.24%,#e9f0f4 11.55%,#e6eff4 13.87%,#e1edf3 16.18%,#dae9f2 18.49%,#d1e5f0 20.80%,#c0dceb 23.11%,#aad1e5 25.42%,#a6cfe4 25.77%,#a2cde3 26.12%,#9fcce2 26.47%,#9dcae1 26.81%,#9bcae1 27.16%,#9ac9e0 27.51%,#9ac9e0 27.86%,#9ccae1 28.21%,#a1cce2 28.56%,#a9d1e5 28.91%,#b5d7e8 29.25%,#c3deec 29.60%,#d2e5f0 29.95%,#ddebf2 30.30%,#e9f1f4 30.65%,#f8f0eb 31.00%,#fddbc6 31.35%,#f6b191 31.69%,#e48066 32.04%,#d05447 32.39%,#bf3338 32.74%,#b41c2d 33.09%,#a81529 33.44%,#9e1128 33.79%,#970f27 34.13%,#940e26 34.48%,#981027 34.83%,#a01228 35.18%,#ac162a 35.53%,#b72230 35.88%,#c13639 36.23%,#cd4f45 36.57%,#da6954 36.92%,#e58267 37.27%,#f09d7c 37.62%,#f7b596 37.97%,#fbcdb5 38.32%,#fcdecc 38.67%,#fbe4d7 39.01%,#fae9de 39.36%,#f9ece4 39.71%,#f9efe9 40.06%,#f8f0eb 40.41%,#f8f1ed 40.76%,#f8f1ed 41.10%,#f9eee7 45.63%,#f8f0ec 50.16%,#f8f2ee 54.69%,#f8f3f0 59.22%,#f8f4f1 63.75%,#f8f4f2 68.28%,#f8f5f3 72.81%,#f7f5f3 77.34%,#f7f5f4 81.87%,#f7f5f4 86.40%,#f7f6f5 90.93%,#f7f6f5 95.46%,#f7f6f5 99.99%)"></div>
<div style="top:213.59px;height:6.15px;background:linear-gradient(90deg,#f0f4f6 0.00%,#f0f3f6 2.31%,#eff3f5 4.62%,#eef3f5 6.93%,#edf2f5 9.24%,#e9f1f4 11.55%,#e7eff4 13.87%,#e2edf3 16.18%,#dbeaf2 18.49%,#d2e6f0 20.80%,#c2ddec 23.11%,#acd2e5 25.42%,#a8d0e4 25.77%,#a5cfe3 26.12%,#a2cde2 26.47%,#9fcce2 26.81%,#9ecbe1 27.16%,#9ccae1 27.51%,#9dcae1 27.86%,#9fcbe2 28.21%,#a3cee3 28.56%,#abd2e5 28.91%,#b7d8e9 29.25%,#c4dfec 29.60%,#d3e6f0 29.95%,#ddebf2 30.30%,#eaf1f5 30.65%,#f8f0eb 31.00%,#fddbc7 31.35%,#f6b292 31.69%,#e58368 32.04%,#d15749 32.39%,#c13639 32.74%,#b6202f 33.09%,#ac162a 33.44%,#a21328 33.79%,#9b1127 34.13%,#991027 34.48%,#9c1128 34.83%,#a51429 35.18%,#b0172b 35.53%,#b92531 35.88%,#c3393b 36.23%,#cf5246 36.57%,#db6c56 36.92%,#e68569 37.27%,#f19f7d 37.62%,#f7b698 37.97%,#fbceb6 38.32%,#fcdecc 38.67%,#fbe4d7 39.01%,#fae9df 39.36%,#f9ece5 39.71%,#f9efe9 40.06%,#f8f0eb 40.41%,#f8f1ed 40.76%,#f8f1ed 41.10%,#f9eee8 45.63%,#f8f0ec 50.16%,#f8f2ee 54.69%,#f8f3f0 59.22%,#f8f4f1 63.75%,#f8f4f2 68.28%,#f7f5f3 72.81%,#f7f5f3 77.34%,#f7f5f4 81.87%,#f7f5f4 86.40%,#f7f6f5 90.93%,#f7f6f5 95.46%,#f7f6f5 99.99%)"></div>
<div style="top:219.13px;height:6.15px;background:linear-gradient(90deg,#f1f4f6 0.00%,#f0f4f6 2.31%,#eff3f6 4.62%,#eff3f5 6.93%,#edf2f5 9.24%,#eaf1f5 11.55%,#e7eff4 13.87%,#e2edf3 16.18%,#dbeaf2 18.49%,#d3e6f0 20.80%,#c4deec 23.11%,#aed3e6 25.42%,#abd2e5 25.77%,#a7d0e4 26.12%,#a4cee3 26.47%,#a2cde3 26.81%,#a0cce2 27.16%,#9fcce2 27.51%,#9fcce2 27.86%,#a1cde2 28.21%,#a6cfe4 28.56%,#aed3e6 28.91%,#b9d9e9 29.25%,#c6e0ed 29.60%,#d4e6f1 29.95%,#deebf2 30.30%,#eaf1f5 30.65%,#f8f0eb 31.00%,#fddbc8 31.35%,#f6b394 31.69%,#e68569 32.04%,#d35a4a 32.39%,#c33a3b 32.74%,#b82431 33.09%,#b0172b 33.44%,#a61429 33.79%,#9f1228 34.13%,#9d1128 34.48%,#a11228 34.83%,#a9152a 35.18%,#b31a2c 35.53%,#bb2933 35.88%,#c43d3c 36.23%,#d05548 36.57%,#dc6e58 36.92%,#e7876b 37.27%,#f2a17f 37.62%,#f7b799 37.97%,#fbcfb7 38.32%,#fcdecd 38.67%,#fbe5d7 39.01%,#fae9df 39.36%,#f9ece5 39.71%,#f9efe9 40.06%,#f8f0ec 40.41%,#f8f1ed 40.76%,#f8f1ed 41.10%,#f9eee8 45.63%,#f8f0ec 50.16%,#f8f2ee 54.69%,#f8f3f0 59.22%,#f8f4f1 63.75%,#f8f4f3 68.28%,#f7f5f3 72.81%,#f7f5f3 77.34%,#f7f5f4 81.87%,#f7f5f4 86.40%,#f7f6f5 90.93%,#f7f6f5 95.46%,#f7f6f5 99.99%)"></div>
<div style="top:224.68px;height:6.15px;background:linear-gradient(90deg,#f1f4f6 0.00%,#f0f4f6 2.31%,#eff3f6 4.62%,#eff3f5 6.93%,#eef3f5 9.24%,#eaf1f5 11.55%,#e7f0f4 13.87%,#e3edf3 16.18%,#dceaf2 18.49%,#d4e6f1 20.80%,#c6dfed 23.11%,#b1d5e7 25.42%,#add3e6 25.77%,#aad1e5 26.12%,#a7d0e4 26.47%,#a5cee3 26.81%,#a3cee3 27.16%,#a2cde3 27.51%,#a2cde3 27.86%,#a4cee3 28.21%,#a8d0e4 28.56%,#b0d4e7 28.91%,#bbdaea 29.25%,#c8e0ed 29.60%,#d5e7f1 29.95%,#deebf2 30.30%,#eaf1f5 30.65%,#f8f0ec 31.00%,#fddcc8 31.35%,#f7b496 31.69%,#e7876b 32.04%,#d45d4c 32.39%,#c43d3c 32.74%,#ba2832 33.09%,#b31a2c 33.44%,#aa162a 33.79%,#a41329 34.13%,#a11328 34.48%,#a51429 34.83%,#ad162a 35.18%,#b51e2e 35.53%,#bc2d35 35.88%,#c6403e 36.23%,#d25849 36.57%,#dd715a 36.92%,#e8896d 37.27%,#f3a380 37.62%,#f7b89b 37.97%,#fbcfb8 38.32%,#fcdfcd 38.67%,#fbe5d8 39.01%,#fae9df 39.36%,#f9ede5 39.71%,#f9efe9 40.06%,#f8f0ec 40.41%,#f8f1ed 40.76%,#f8f1ed 41.10%,#f9eee8 45.63%,#f8f1ec 50.16%,#f8f2ee 54.69%,#f8f3f0 59.22%,#f8f4f1 63.75%,#f8f4f3 68.28%,#f7f5f3 72.81%,#f7f5f4 77.34%,#f7f5f4 81.87%,#f7f5f4 86.40%,#f7f6f5 90.93%,#f7f6f5 95.46%,#f7f6f5 99.99%)"></div>
<div style="top:230.23px;height:6.15px;background:linear-gradient(90deg,#f1f4f6 0.00%,#f0f4f6 2.31%,#eff3f6 4.62%,#eff3f6 6.93%,#eef3f5 9.24%,#eaf1f5 11.55%,#e8f0f4 13.87%,#e3eef3 16.18%,#ddeaf2 18.49%,#d5e7f1 20.80%,#c8e0ed 23.11%,#b3d6e7 25.42%,#b0d4e6 25.77%,#acd2e6 26.12%,#a9d1e5 26.47%,#a7d0e4 26.81%,#a6cfe4 27.16%,#a5cee3 27.51%,#a5cfe3 27.86%,#a7d0e4 28.21%,#abd2e5 28.56%,#b2d5e7 28.91%,#bddbea 29.25%,#cae1ee 29.60%,#d5e7f1 29.95%,#dfecf3 30.30%,#eaf1f5 30.65%,#f8f0ec 31.00%,#fddcc9 31.35%,#f7b697 31.69%,#e88a6d 32.04%,#d6604d 32.39%,#c6403e 32.74%,#bc2b34 33.09%,#b51e2e 33.44%,#ae172a 33.79%,#a81529 34.13%,#a61429 34.48%,#a9152a 34.83%,#b1182b 35.18%,#b72230 35.53%,#be3037 35.88%,#c84440 36.23%,#d45b4b 36.57%,#de735c 36.92%,#e98c6e 37.27%,#f4a582 37.62%,#f7ba9c 37.97%,#fbd0b9 38.32%,#fcdfce 38.67%,#fbe5d8 39.01%,#fae9e0 39.36%,#f9ede5 39.71%,#f9efe9 40.06%,#f8f1ec 40.41%,#f8f1ed 40.76%,#f8f1ee 41.10%,#f9eee8 45.63%,#f8f1ec 50.16%,#f8f2ee 54.69%,#f8f3f0 59.22%,#f8f4f2 63.75%,#f8f4f3 68.28%,#f7f5f3 72.81%,#f7f5f4 77.34%,#f7f5f4 81.87%,#f7f5f4 86.40%,#f7f6f5 90.93%,#f7f6f5 95.46%,#f7f6f5 99.99%)"></div>
<div style="top:235.77px;height:6.15px;background:linear-gradient(90deg,#f1f4f6 0.00%,#f0f4f6 2.31%,#f0f3f6 4.62%,#eff3f6 6.93%,#eef3f5 9.24%,#ebf1f5 11.55%,#e8f0f4 13.87%,#e4eef3 16.18%,#ddebf2 18.49%,#d6e7f1 20.80%,#c9e1ee 23.11%,#b5d7e8 25.42%,#b2d5e7 25.77%,#afd4e6 26.12%,#acd2e5 26.47%,#aad1e5 26.81%,#a8d0e4 27.16%,#a7d0e4 27.51%,#a7d0e4 27.86%,#a9d1e5 28.21%,#add3e6 28.56%,#b5d7e8 28.91%,#bfdceb 29.25%,#cce2ee 29.60%,#d6e8f1 29.95%,#dfecf3 30.30%,#eaf1f5 30.65%,#f8f1ec 31.00%,#fdddca 31.35%,#f7b799 31.69%,#e98c6f 32.04%,#d7634f 32.39%,#c84440 32.74%,#be2f36 33.09%,#b72230 33.44%,#b2192b 33.79%,#ac162a 34.13%,#aa152a 34.48%,#ae172a 34.83%,#b41b2d 35.18%,#b92631 35.53%,#c03438 35.88%,#c94741 36.23%,#d55e4c 36.57%,#e0765e 36.92%,#ea8e70 37.27%,#f4a683 37.62%,#f8bb9e 37.97%,#fbd1bb 38.32%,#fcdfcf 38.67%,#fbe5d9 39.01%,#faeae0 39.36%,#f9ede6 39.71%,#f9efea 40.06%,#f8f1ec 40.41%,#f8f1ed 40.76%,#f8f2ee 41.10%,#f9efe8 45.63%,#f8f1ec 50.16%,#f8f2ef 54.69%,#f8f3f1 59.22%,#f8f4f2 63.75%,#f8f4f3 68.28%,#f7f5f3 72.81%,#f7f5f4 77.34%,#f7f5f4 81.87%,#f7f5f4 86.40%,#f7f6f5 90.93%,#f7f6f5 95.46%,#f7f6f5 99.99%)"></div>
<div style="top:241.32px;height:6.15px;background:linear-gradient(90deg,#f1f4f6 0.00%,#f0f4f6 2.31%,#f0f4f6 4.62%,#eff3f6 6.93%,#eef3f5 9.24%,#ebf1f5 11.55%,#e9f0f4 13.87%,#e4eef4 16.18%,#deebf2 18.49%,#d7e8f1 20.80%,#cbe2ee 23.11%,#b8d8e9 25.42%,#b5d7e8 25.77%,#b1d5e7 26.12%,#afd4e6 26.47%,#acd2e6 26.81%,#abd2e5 27.16%,#aad1e5 27.51%,#aad1e5 27.86%,#acd2e5 28.21%,#b0d4e7 28.56%,#b7d8e9 28.91%,#c1ddec 29.25%,#cde3ef 29.60%,#d7e8f1 29.95%,#e0ecf3 30.30%,#ebf1f5 30.65%,#f8f1ec 31.00%,#fdddca 31.35%,#f7b89b 31.69%,#ea8e70 32.04%,#d86651 32.39%,#ca4741 32.74%,#bf3338 33.09%,#b92631 33.44%,#b41d2d 33.79%,#b0182b 34.13%,#ae172a 34.48%,#b2182b 34.83%,#b61f2e 35.18%,#bb2933 35.53%,#c2383a 35.88%,#cb4a43 36.23%,#d7614e 36.57%,#e17960 36.92%,#eb9072 37.27%,#f4a885 37.62%,#f8bc9f 37.97%,#fcd2bc 38.32%,#fce0cf 38.67%,#fbe6d9 39.01%,#faeae0 39.36%,#f9ede6 39.71%,#f9efea 40.06%,#f8f1ec 40.41%,#f8f1ed 40.76%,#f8f2ee 41.10%,#f9efe9 45.63%,#f8f1ec 50.16%,#f8f2ef 54.69%,#f8f3f1 59.22%,#f8f4f2 63.75%,#f8f5f3 68.28%,#f7f5f3 72.81%,#f7f5f4 77.34%,#f7f5f4 81.87%,#f7f5f4 86.40%,#f7f6f5 90.93%,#f7f6f5 95.46%,#f7f6f5 99.99%)"></div>
<div style="top:246.86px;height:6.15px;background:linear-gradient(90deg,#f2f4f6 0.00%,#f1f4f6 2.31%,#f0f4f6 4.62%,#f0f4f6 6.93%,#eff3f6 9.24%,#ecf2f5 11.55%,#e9f1f5 13.87%,#e5eff4 16.18%,#dfecf3 18.49%,#d9e9f1 20.80%,#cfe4f0 23.11%,#bddbea 25.42%,#bad9e9 25.77%,#b7d8e9 26.12%,#b5d7e8 26.47%,#b3d6e7 26.81%,#b1d5e7 27.16%,#b0d4e7 27.51%,#b0d4e7 27.86%,#b2d5e7 28.21%,#b6d7e8 28.56%,#bcdbea 28.91%,#c6e0ed 29.25%,#d1e5f0 29.60%,#d9e9f1 29.95%,#e1edf3 30.30%,#ebf1f5 30.65%,#f8f1ec 31.00%,#fcdecc 31.35%,#f8bb9e 31.69%,#ec9374 32.04%,#db6c56 32.39%,#cd4f45 32.74%,#c33b3b 33.09%,#bd2e35 33.44%,#b92531 33.79%,#b61f2e 34.13%,#b51d2d 34.48%,#b6212f 34.83%,#ba2832 35.18%,#bf3237 35.53%,#c63f3e 35.88%,#cf5146 36.23%,#d96753 36.57%,#e37e64 36.92%,#ed9576 37.27%,#f5ab89 37.62%,#f8bfa3 37.97%,#fcd4be 38.32%,#fce0d0 38.67%,#fbe6da 39.01%,#faeae1 39.36%,#f9ede6 39.71%,#f9f0ea 40.06%,#f8f1ed 40.41%,#f8f2ee 40.76%,#f8f2ee 41.10%,#f9efe9 45.63%,#f8f1ed 50.16%,#f8f2ef 54.69%,#f8f3f1 59.22%,#f8f4f2 63.75%,#f8f5f3 68.28%,#f7f5f3 72.81%,#f7f5f4 77.34%,#f7f5f4 81.87%,#f7f6f4 86.40%,#f7f6f5 90.93%,#f7f6f5 95.46%,#f7f6f6 99.99%)"></div>
<div style="top:252.41px;height:6.15px;background:linear-gradient(90deg,#f2f5f6 0.00%,#f1f4f6 2.31%,#f1f4f6 4.62%,#f0f4f6 6.93%,#eff3f6 9.24%,#ecf2f5 11.55%,#eaf1f5 13.87%,#e7eff4 16.18%,#e1edf3 18.49%,#dbeaf2 20.80%,#d3e6f0 23.11%,#c3deec 25.42%,#c0dceb 25.77%,#bddbea 26.12%,#bbdaea 26.47%,#b9d9e9 26.81%,#b7d8e9 27.16%,#b7d8e8 27.51%,#b7d8e8 27.86%,#b8d8e9 28.21%,#bcdaea 28.56%,#c2ddec 28.91%,#cbe2ee 29.25%,#d4e6f1 29.60%,#dbeaf2 29.95%,#e2edf3 30.30%,#ecf2f5 30.65%,#f8f1ed 31.00%,#fcdfcd 31.35%,#f8bea1 31.69%,#ee9878 32.04%,#de725b 32.39%,#d15648 32.74%,#c7433f 33.09%,#c13639 33.44%,#bd2e35 33.79%,#ba2833 34.13%,#b92632 34.48%,#bb2933 34.83%,#be3036 35.18%,#c33a3b 35.53%,#ca4741 35.88%,#d2594a 36.23%,#dc6e57 36.57%,#e58468 36.92%,#ef9a79 37.27%,#f5ae8d 37.62%,#f9c1a6 37.97%,#fcd6c1 38.32%,#fce1d2 38.67%,#fbe7db 39.01%,#faebe2 39.36%,#f9eee7 39.71%,#f9f0eb 40.06%,#f8f1ed 40.41%,#f8f2ee 40.76%,#f8f2ee 41.10%,#f9efea 45.63%,#f8f1ed 50.16%,#f8f2ef 54.69%,#f8f3f1 59.22%,#f8f4f2 63.75%,#f7f5f3 68.28%,#f7f5f4 72.81%,#f7f5f4 77.34%,#f7f5f4 81.87%,#f7f6f5 86.40%,#f7f6f5 90.93%,#f7f6f5 95.46%,#f7f6f6 99.99%)"></div>
<div style="top:257.96px;height:6.15px;background:linear-gradient(90deg,#f2f5f6 0.00%,#f2f4f6 2.31%,#f1f4f6 4.62%,#f1f4f6 6.93%,#f0f4f6 9.24%,#edf2f5 11.55%,#ebf1f5 13.87%,#e8f0f4 16.18%,#e2edf3 18.49%,#ddeaf2 20.80%,#d5e7f1 23.11%,#c8e0ed 25.42%,#c5dfed 25.77%,#c3deec 26.12%,#c1ddeb 26.47%,#bfdceb 26.81%,#bedbea 27.16%,#bddbea 27.51%,#bddbea 27.86%,#bfdceb 28.21%,#c2ddec 28.56%,#c7e0ed 28.91%,#d0e4f0 29.25%,#d6e7f1 29.60%,#ddebf2 29.95%,#e3eef3 30.30%,#ecf2f5 30.65%,#f8f1ed 31.00%,#fcdfce 31.35%,#f9c0a5 31.69%,#f09d7c 32.04%,#e0785f 32.39%,#d45d4c 32.74%,#cb4a43 33.09%,#c53e3d 33.44%,#c13639 33.79%,#be3137 34.13%,#bd2f36 34.48%,#bf3237 34.83%,#c2393a 35.18%,#c7423f 35.53%,#cd4f45 35.88%,#d6604d 36.23%,#df745c 36.57%,#e8896d 36.92%,#f19e7d 37.27%,#f6b191 37.62%,#f9c4a9 37.97%,#fcd8c3 38.32%,#fce2d3 38.67%,#fae7dc 39.01%,#faebe2 39.36%,#f9eee7 39.71%,#f8f0eb 40.06%,#f8f1ed 40.41%,#f8f2ee 40.76%,#f8f2ef 41.10%,#f9efea 45.63%,#f8f1ed 50.16%,#f8f3ef 54.69%,#f8f4f1 59.22%,#f8f4f2 63.75%,#f7f5f3 68.28%,#f7f5f4 72.81%,#f7f5f4 77.34%,#f7f5f4 81.87%,#f7f6f5 86.40%,#f7f6f5 90.93%,#f7f6f5 95.46%,#f7f6f6 99.99%)"></div>
<div style="top:263.50px;height:6.15px;background:linear-gradient(90deg,#f3f5f6 0.00%,#f2f5f6 2.31%,#f2f4f6 4.62%,#f1f4f6 6.93%,#f0f4f6 9.24%,#eef3f5 11.55%,#ecf2f5 13.87%,#e9f0f4 16.18%,#e4eef4 18.49%,#dfebf2 20.80%,#d8e8f1 23.11%,#cde3ef 25.42%,#cbe2ee 25.77%,#c9e1ee 26.12%,#c7e0ed 26.47%,#c5dfed 26.81%,#c4deec 27.16%,#c3deec 27.51%,#c3deec 27.86%,#c5dfec 28.21%,#c8e0ed 28.56%,#cde3ef 28.91%,#d3e6f0 29.25%,#d9e9f1 29.60%,#dfecf3 29.95%,#e4eef4 30.30%,#edf2f5 30.65%,#f8f1ed 31.00%,#fce0d0 31.35%,#f9c3a8 31.69%,#f2a17f 32.04%,#e37e64 32.39%,#d86450 32.74%,#cf5246 33.09%,#c94741 33.44%,#c53f3d 33.79%,#c3393b 34.13%,#c2373a 34.48%,#c33a3b 34.83%,#c6413e 35.18%,#cb4a43 35.53%,#d15648 35.88%,#d96752 36.23%,#e17a61 36.57%,#ea8f71 36.92%,#f3a381 37.27%,#f7b496 37.62%,#fac6ac 37.97%,#fddac5 38.32%,#fbe3d4 38.67%,#fae8dd 39.01%,#f9ebe3 39.36%,#f9eee8 39.71%,#f8f0eb 40.06%,#f8f1ee 40.41%,#f8f2ef 40.76%,#f8f2ef 41.10%,#f9f0ea 45.63%,#f8f2ee 50.16%,#f8f3f0 54.69%,#f8f4f1 59.22%,#f8f4f2 63.75%,#f7f5f3 68.28%,#f7f5f4 72.81%,#f7f5f4 77.34%,#f7f5f4 81.87%,#f7f6f5 86.40%,#f7f6f5 90.93%,#f7f6f5 95.46%,#f7f6f6 99.99%)"></div>
<div style="top:269.05px;height:6.15px;background:linear-gradient(90deg,#f3f5f6 0.00%,#f2f5f6 2.31%,#f2f5f6 4.62%,#f2f4f6 6.93%,#f1f4f6 9.24%,#eff3f5 11.55%,#edf2f5 13.87%,#eaf1f5 16.18%,#e6eff4 18.49%,#e1ecf3 20.80%,#dae9f2 23.11%,#d2e6f0 25.42%,#d1e5f0 25.77%,#cee4ef 26.12%,#cde3ef 26.47%,#cbe2ee 26.81%,#cae1ee 27.16%,#c9e1ee 27.51%,#c9e1ee 27.86%,#cbe2ee 28.21%,#cde3ef 28.56%,#d2e5f0 28.91%,#d6e7f1 29.25%,#dbeaf2 29.60%,#e1edf3 29.95%,#e6eff4 30.30%,#edf2f5 30.65%,#f8f2ee 31.00%,#fce1d1 31.35%,#f9c5ac 31.69%,#f4a683 32.04%,#e68469 32.39%,#db6b55 32.74%,#d35a4a 33.09%,#cd4f45 33.44%,#ca4741 33.79%,#c7423f 34.13%,#c6403e 34.48%,#c8433f 34.83%,#cb4942 35.18%,#cf5246 35.53%,#d55e4c 35.88%,#dc6d57 36.23%,#e48066 36.57%,#ed9475 36.92%,#f4a785 37.27%,#f7b79a 37.62%,#fac9b0 37.97%,#fddbc8 38.32%,#fbe3d5 38.67%,#fae8de 39.01%,#f9ece4 39.36%,#f9efe9 39.71%,#f8f0ec 40.06%,#f8f2ee 40.41%,#f8f2ef 40.76%,#f8f2ef 41.10%,#f9f0eb 45.63%,#f8f2ee 50.16%,#f8f3f0 54.69%,#f8f4f2 59.22%,#f8f4f2 63.75%,#f7f5f3 68.28%,#f7f5f4 72.81%,#f7f5f4 77.34%,#f7f6f4 81.87%,#f7f6f5 86.40%,#f7f6f5 90.93%,#f7f6f5 95.46%,#f7f6f6 99.99%)"></div>
<div style="top:274.59px;height:6.15px;background:linear-gradient(90deg,#f3f5f6 0.00%,#f3f5f6 2.31%,#f2f5f6 4.62%,#f2f5f6 6.93%,#f2f4f6 9.24%,#eff3f6 11.55%,#eef3f5 13.87%,#ebf1f5 16.18%,#e7eff4 18.49%,#e3edf3 20.80%,#ddebf2 23.11%,#d5e7f1 25.42%,#d4e6f1 25.77%,#d3e6f0 26.12%,#d2e5f0 26.47%,#d1e5f0 26.81%,#d0e5f0 27.16%,#d0e4f0 27.51%,#d0e4f0 27.86%,#d1e5f0 28.21%,#d2e6f0 28.56%,#d5e7f1 28.91%,#d9e9f1 29.25%,#deebf2 29.60%,#e3edf3 29.95%,#e7eff4 30.30%,#eef3f5 30.65%,#f8f2ee 31.00%,#fce2d3 31.35%,#fac9b0 31.69%,#f5ab89 32.04%,#e98b6e 32.39%,#de745c 32.74%,#d86450 33.09%,#d3594a 33.44%,#cf5246 33.79%,#cc4d44 34.13%,#cc4b43 34.48%,#cd4e44 34.83%,#d05447 35.18%,#d45c4b 35.53%,#d96753 35.88%,#e0765e 36.23%,#e7886c 36.57%,#f09b7a 36.92%,#f5ac8b 37.27%,#f8bb9f 37.62%,#faccb4 37.97%,#fdddca 38.32%,#fbe4d7 38.67%,#fae9df 39.01%,#f9ece5 39.36%,#f9efe9 39.71%,#f8f1ec 40.06%,#f8f2ee 40.41%,#f8f2ef 40.76%,#f8f3f0 41.10%,#f8f0eb 45.63%,#f8f2ee 50.16%,#f8f3f0 54.69%,#f8f4f2 59.22%,#f8f4f3 63.75%,#f7f5f4 68.28%,#f7f5f4 72.81%,#f7f5f4 77.34%,#f7f6f5 81.87%,#f7f6f5 86.40%,#f7f6f5 90.93%,#f7f6f5 95.46%,#f7f6f6 99.99%)"></div>
<div style="top:280.14px;height:6.15px;background:linear-gradient(90deg,#f4f5f6 0.00%,#f3f5f6 2.31%,#f3f5f6 4.62%,#f3f5f6 6.93%,#f2f5f6 9.24%,#f0f4f6 11.55%,#eff3f5 13.87%,#ecf2f5 16.18%,#e9f0f4 18.49%,#e4eef4 20.80%,#dfecf3 23.11%,#d9e9f1 25.42%,#d8e8f1 25.77%,#d6e8f1 26.12%,#d6e7f1 26.47%,#d5e7f1 26.81%,#d4e7f1 27.16%,#d4e6f1 27.51%,#d4e6f1 27.86%,#d5e7f1 28.21%,#d6e7f1 28.56%,#d8e9f1 28.91%,#dceaf2 29.25%,#e0ecf3 29.60%,#e5eef4 29.95%,#e8f0f4 30.30%,#eef3f5 30.65%,#f8f2ef 31.00%,#fbe3d5 31.35%,#fbceb6 31.69%,#f6b292 32.04%,#ee9677 32.39%,#e48066 32.74%,#de715a 33.09%,#d96853 33.44%,#d7614e 33.79%,#d45d4b 34.13%,#d45b4b 34.48%,#d55e4c 34.83%,#d7634f 35.18%,#db6a55 35.53%,#df755d 35.88%,#e58267 36.23%,#ec9374 36.57%,#f4a582 36.92%,#f6b394 37.27%,#f9c1a6 37.62%,#fbd1ba 37.97%,#fcdecd 38.32%,#fbe5d9 38.67%,#faeae0 39.01%,#f9ede6 39.36%,#f9efea 39.71%,#f8f1ed 40.06%,#f8f2ef 40.41%,#f8f3f0 40.76%,#f8f3f0 41.10%,#f8f1ec 45.63%,#f8f2ef 50.16%,#f8f3f1 54.69%,#f8f4f2 59.22%,#f8f5f3 63.75%,#f7f5f4 68.28%,#f7f5f4 72.81%,#f7f6f4 77.34%,#f7f6f5 81.87%,#f7f6f5 86.40%,#f7f6f5 90.93%,#f7f6f6 95.46%,#f7f6f6 99.99%)"></div>
<div style="top:285.69px;height:6.15px;background:linear-gradient(90deg,#f4f6f6 0.00%,#f4f5f6 2.31%,#f3f5f6 4.62%,#f3f5f6 6.93%,#f3f5f6 9.24%,#f1f4f6 11.55%,#f0f4f6 13.87%,#eef3f5 16.18%,#eaf1f5 18.49%,#e7eff4 20.80%,#e2edf3 23.11%,#dceaf2 25.42%,#dbeaf2 25.77%,#dbeaf2 26.12%,#dae9f2 26.47%,#d9e9f1 26.81%,#d9e9f1 27.16%,#d8e8f1 27.51%,#d8e8f1 27.86%,#d9e9f1 28.21%,#dae9f2 28.56%,#dceaf2 28.91%,#dfecf3 29.25%,#e3edf3 29.60%,#e7eff4 29.95%,#eaf1f5 30.30%,#eff3f6 30.65%,#f8f3ef 31.00%,#fbe5d8 31.35%,#fcd3bc 31.69%,#f7b89b 32.04%,#f2a17f 32.39%,#e98d6f 32.74%,#e37f65 33.09%,#e0765e 33.44%,#dd7059 33.79%,#db6c56 34.13%,#db6a55 34.48%,#dc6d57 34.83%,#de725b 35.18%,#e17960 35.53%,#e58267 35.88%,#ea8f71 36.23%,#f19e7d 36.57%,#f5ad8c 36.92%,#f7ba9c 37.27%,#fac7ad 37.62%,#fcd5c0 37.97%,#fce0d0 38.32%,#fbe7db 38.67%,#faebe2 39.01%,#f9eee7 39.36%,#f8f0eb 39.71%,#f8f2ee 40.06%,#f8f3ef 40.41%,#f8f3f0 40.76%,#f8f3f1 41.10%,#f8f1ed 45.63%,#f8f3f0 50.16%,#f8f4f1 54.69%,#f8f4f2 59.22%,#f7f5f3 63.75%,#f7f5f4 68.28%,#f7f5f4 72.81%,#f7f6f5 77.34%,#f7f6f5 81.87%,#f7f6f5 86.40%,#f7f6f5 90.93%,#f7f6f6 95.46%,#f7f6f6 99.99%)"></div>
<div style="top:291.23px;height:6.15px;background:linear-gradient(90deg,#f5f6f7 0.00%,#f4f6f7 2.31%,#f4f6f6 4.62%,#f4f5f6 6.93%,#f3f5f6 9.24%,#f2f5f6 11.55%,#f1f4f6 13.87%,#eff3f6 16.18%,#edf2f5 18.49%,#eaf1f5 20.80%,#e6eff4 23.11%,#e1edf3 25.42%,#e0ecf3 25.77%,#dfecf3 26.12%,#dfebf3 26.47%,#deebf2 26.81%,#deebf2 27.16%,#deebf2 27.51%,#deebf2 27.86%,#deebf2 28.21%,#dfecf3 28.56%,#e1ecf3 28.91%,#e3eef3 29.25%,#e6eff4 29.60%,#eaf1f5 29.95%,#ebf1f5 30.30%,#f0f4f6 30.65%,#f8f3f0 31.00%,#fbe6da 31.35%,#fcd7c2 31.69%,#f8bfa4 32.04%,#f5ab89 32.39%,#ef9979 32.74%,#e98d6f 33.09%,#e68469 33.44%,#e37f65 33.79%,#e27b62 34.13%,#e17a61 34.48%,#e27c62 34.83%,#e48066 35.18%,#e7876b 35.53%,#eb9072 35.88%,#f09b7a 36.23%,#f5a987 36.57%,#f7b496 36.92%,#f9c0a5 37.27%,#fbcdb5 37.62%,#fddac6 37.97%,#fce2d3 38.32%,#fae8dd 38.67%,#f9ece4 39.01%,#f9eee8 39.36%,#f8f1ec 39.71%,#f8f2ee 40.06%,#f8f3f0 40.41%,#f8f3f1 40.76%,#f8f4f1 41.10%,#f8f2ee 45.63%,#f8f3f0 50.16%,#f8f4f2 54.69%,#f8f5f3 59.22%,#f7f5f4 63.75%,#f7f5f4 68.28%,#f7f6f5 72.81%,#f7f6f5 77.34%,#f7f6f5 81.87%,#f7f6f5 86.40%,#f7f6f6 90.93%,#f7f6f6 95.46%,#f7f6f6 99.99%)"></div>
<div style="top:296.78px;height:6.15px;background:linear-gradient(90deg,#f5f6f7 0.00%,#f5f6f7 2.31%,#f5f6f7 4.62%,#f4f6f7 6.93%,#f4f6f6 9.24%,#f3f5f6 11.55%,#f2f5f6 13.87%,#f1f4f6 16.18%,#eff3f5 18.49%,#ecf2f5 20.80%,#e9f1f4 23.11%,#e6eff4 25.42%,#e5eef4 25.77%,#e4eef4 26.12%,#e4eef3 26.47%,#e3eef3 26.81%,#e3eef3 27.16%,#e3edf3 27.51%,#e3edf3 27.86%,#e3eef3 28.21%,#e4eef3 28.56%,#e5eff4 28.91%,#e7f0f4 29.25%,#eaf1f5 29.60%,#edf2f5 29.95%,#edf2f5 30.30%,#f1f4f6 30.65%,#f8f3f1 31.00%,#fae8dc 31.35%,#fddcc8 31.69%,#fac6ac 32.04%,#f6b394 32.39%,#f4a683 32.74%,#ef9a7a 33.09%,#ec9374 33.44%,#ea8e70 33.79%,#e88a6d 34.13%,#e8896d 34.48%,#e98b6e 34.83%,#eb8f71 35.18%,#ed9576 35.53%,#f19d7c 35.88%,#f4a785 36.23%,#f6b192 36.57%,#f8bca0 36.92%,#fac7ae 37.27%,#fcd2bc 37.62%,#fdddca 37.97%,#fbe4d6 38.32%,#fae9df 38.67%,#f9ede5 39.01%,#f9efea 39.36%,#f8f1ed 39.71%,#f8f2ef 40.06%,#f8f3f1 40.41%,#f8f4f1 40.76%,#f8f4f2 41.10%,#f8f2ee 45.63%,#f8f3f1 50.16%,#f8f4f2 54.69%,#f7f5f3 59.22%,#f7f5f4 63.75%,#f7f6f4 68.28%,#f7f6f5 72.81%,#f7f6f5 77.34%,#f7f6f5 81.87%,#f7f6f5 86.40%,#f7f6f6 90.93%,#f7f6f6 95.46%,#f7f6f6 99.99%)"></div>
<div style="top:302.32px;height:6.15px;background:linear-gradient(90deg,#f6f6f7 0.00%,#f5f6f7 2.31%,#f5f6f7 4.62%,#f5f6f7 6.93%,#f5f6f7 9.24%,#f4f6f6 11.55%,#f3f5f6 13.87%,#f2f5f6 16.18%,#f1f4f6 18.49%,#eff3f6 20.80%,#edf2f5 23.11%,#eaf1f5 25.42%,#eaf1f5 25.77%,#e9f0f4 26.12%,#e9f0f4 26.47%,#e8f0f4 26.81%,#e8f0f4 27.16%,#e8f0f4 27.51%,#e8f0f4 27.86%,#e8f0f4 28.21%,#e9f0f4 28.56%,#eaf1f5 28.91%,#ecf2f5 29.25%,#edf2f5 29.60%,#eff3f6 29.95%,#eff3f5 30.30%,#f1f4f6 30.65%,#f8f4f1 31.00%,#fae9df 31.35%,#fcdecc 31.69%,#fbcdb5 32.04%,#f8bc9f 32.39%,#f6b090 32.74%,#f4a785 33.09%,#f2a17f 33.44%,#f09d7c 33.79%,#ef9979 34.13%,#ee9878 34.48%,#ef9a7a 34.83%,#f19e7d 35.18%,#f3a381 35.53%,#f5a988 35.88%,#f6b191 36.23%,#f8ba9d 36.57%,#f9c4aa 36.92%,#fbceb6 37.27%,#fdd8c3 37.62%,#fcdfce 37.97%,#fbe5d9 38.32%,#faeae2 38.67%,#f9eee7 39.01%,#f9f0eb 39.36%,#f8f2ee 39.71%,#f8f3f0 40.06%,#f8f4f1 40.41%,#f8f4f2 40.76%,#f8f4f2 41.10%,#f8f2ef 45.63%,#f8f4f1 50.16%,#f8f4f2 54.69%,#f7f5f4 59.22%,#f7f5f4 63.75%,#f7f6f5 68.28%,#f7f6f5 72.81%,#f7f6f5 77.34%,#f7f6f5 81.87%,#f7f6f6 86.40%,#f7f6f6 90.93%,#f7f6f6 95.46%,#f7f7f6 99.99%)"></div>
<div style="top:307.87px;height:6.15px;background:linear-gradient(90deg,#f6f7f7 0.00%,#f6f6f7 2.31%,#f6f6f7 4.62%,#f6f6f7 6.93%,#f6f6f7 9.24%,#f5f6f7 11.55%,#f5f6f7 13.87%,#f4f5f6 16.18%,#f3f5f6 18.49%,#f1f4f6 20.80%,#f0f4f6 23.11%,#eef3f5 25.42%,#eef3f5 25.77%,#edf2f5 26.12%,#edf2f5 26.47%,#edf2f5 26.81%,#edf2f5 27.16%,#edf2f5 27.51%,#edf2f5 27.86%,#edf2f5 28.21%,#edf2f5 28.56%,#eef3f5 28.91%,#eff3f6 29.25%,#f0f4f6 29.60%,#f2f4f6 29.95%,#f1f4f6 30.30%,#f2f5f6 30.65%,#f8f4f2 31.00%,#faebe3 31.35%,#fbe2d4 31.69%,#fdd9c4 32.04%,#facab2 32.39%,#f9c0a5 32.74%,#f7b99c 33.09%,#f7b596 33.44%,#f6b292 33.79%,#f6b090 34.13%,#f6af8f 34.48%,#f6b090 34.83%,#f6b393 35.18%,#f7b698 35.53%,#f8bb9e 35.88%,#f9c1a6 36.23%,#fac9b0 36.57%,#fbd1ba 36.92%,#fdd9c5 37.27%,#fcdecd 37.62%,#fbe3d5 37.97%,#fae8de 38.32%,#f9ede5 38.67%,#f9efea 39.01%,#f8f1ed 39.36%,#f8f3ef 39.71%,#f8f4f1 40.06%,#f8f4f2 40.41%,#f8f4f3 40.76%,#f8f5f3 41.10%,#f8f3f1 45.63%,#f8f4f2 50.16%,#f7f5f3 54.69%,#f7f5f4 59.22%,#f7f6f5 63.75%,#f7f6f5 68.28%,#f7f6f5 72.81%,#f7f6f6 77.34%,#f7f6f6 81.87%,#f7f6f6 86.40%,#f7f6f6 90.93%,#f7f7f6 95.46%,#f7f7f6 99.99%)"></div>
<div style="top:313.42px;height:6.15px;background:linear-gradient(90deg,#f6f7f7 0.00%,#f6f7f7 2.31%,#f6f7f7 4.62%,#f6f7f7 6.93%,#f6f7f7 9.24%,#f6f6f7 11.55%,#f5f6f7 13.87%,#f5f6f7 16.18%,#f4f6f6 18.49%,#f3f5f6 20.80%,#f2f5f6 23.11%,#f1f4f6 25.42%,#f1f4f6 25.77%,#f1f4f6 26.12%,#f0f4f6 26.47%,#f0f4f6 26.81%,#f0f4f6 27.16%,#f0f4f6 27.51%,#f0f4f6 27.86%,#f0f4f6 28.21%,#f1f4f6 28.56%,#f1f4f6 28.91%,#f2f4f6 29.25%,#f2f5f6 29.60%,#f3f5f6 29.95%,#f3f5f6 30.30%,#f4f5f6 30.65%,#f7f5f3 31.00%,#f9efe9 31.35%,#fae8de 31.69%,#fce2d3 32.04%,#fdddca 32.39%,#fcd7c2 32.74%,#fbd2bb 33.09%,#fbcfb7 33.44%,#fbcdb5 33.79%,#facbb3 34.13%,#facbb2 34.48%,#facbb3 34.83%,#fbcdb5 35.18%,#fbd0b9 35.53%,#fcd3bd 35.88%,#fcd8c3 36.23%,#fddcc9 36.57%,#fcdfce 36.92%,#fbe2d3 37.27%,#fbe5d9 37.62%,#fae9df 37.97%,#f9ede5 38.32%,#f9f0ea 38.67%,#f8f1ed 39.01%,#f8f3f0 39.36%,#f8f4f2 39.71%,#f8f5f3 40.06%,#f7f5f4 40.41%,#f7f5f4 40.76%,#f7f5f4 41.10%,#f8f4f2 45.63%,#f7f5f4 50.16%,#f7f5f4 54.69%,#f7f6f5 59.22%,#f7f6f5 63.75%,#f7f6f6 68.28%,#f7f6f6 72.81%,#f7f6f6 77.34%,#f7f6f6 81.87%,#f7f7f6 86.40%,#f7f7f6 90.93%,#f7f7f6 95.46%,#f7f7f7 99.99%)"></div>
<div style="top:318.96px;height:6.15px;background:linear-gradient(90deg,#f7f7f7 0.00%,#f7f7f7 2.31%,#f7f7f7 4.62%,#f7f7f7 6.93%,#f7f7f7 9.24%,#f6f7f7 11.55%,#f6f7f7 13.87%,#f6f7f7 16.18%,#f6f6f7 18.49%,#f5f6f7 20.80%,#f5f6f7 23.11%,#f4f6f6 25.42%,#f4f6f6 25.77%,#f4f6f6 26.12%,#f4f6f6 26.47%,#f4f5f6 26.81%,#f4f5f6 27.16%,#f4f5f6 27.51%,#f4f5f6 27.86%,#f4f5f6 28.21%,#f4f6f6 28.56%,#f4f6f6 28.91%,#f4f6f7 29.25%,#f5f6f7 29.60%,#f5f6f7 29.95%,#f5f6f7 30.30%,#f5f6f7 30.65%,#f7f6f5 31.00%,#f8f2ee 31.35%,#f9eee8 31.69%,#faeae1 32.04%,#fae7dc 32.39%,#fbe5d8 32.74%,#fbe3d5 33.09%,#fbe2d3 33.44%,#fce2d2 33.79%,#fce1d1 34.13%,#fce1d1 34.48%,#fce1d2 34.83%,#fce2d2 35.18%,#fbe2d4 35.53%,#fbe4d6 35.88%,#fbe5d8 36.23%,#fae7db 36.57%,#fae9de 36.92%,#faeae1 37.27%,#f9ece5 37.62%,#f9eee8 37.97%,#f8f1ec 38.32%,#f8f2ef 38.67%,#f8f4f1 39.01%,#f8f4f3 39.36%,#f7f5f4 39.71%,#f7f6f4 40.06%,#f7f6f5 40.41%,#f7f6f5 40.76%,#f7f6f5 41.10%,#f7f5f4 45.63%,#f7f6f5 50.16%,#f7f6f5 54.69%,#f7f6f6 59.22%,#f7f6f6 63.75%,#f7f7f6 68.28%,#f7f7f6 72.81%,#f7f7f6 77.34%,#f7f7f6 81.87%,#f7f7f6 86.40%,#f7f7f7 90.93%,#f7f7f7 95.46%,#f7f7f7 99.99%)"></div>
<div style="top:324.51px;height:6.15px;background:linear-gradient(90deg,#f7f7f7 0.00%,#f7f7f7 2.31%,#f7f7f7 4.62%,#f7f7f7 6.93%,#f7f7f7 9.24%,#f7f7f7 11.55%,#f7f7f7 13.87%,#f6f7f7 16.18%,#f6f7f7 18.49%,#f6f7f7 20.80%,#f6f6f7 23.11%,#f5f6f7 25.42%,#f5f6f7 25.77%,#f5f6f7 26.12%,#f5f6f7 26.47%,#f5f6f7 26.81%,#f5f6f7 27.16%,#f5f6f7 27.51%,#f5f6f7 27.86%,#f5f6f7 28.21%,#f5f6f7 28.56%,#f5f6f7 28.91%,#f5f6f7 29.25%,#f6f6f7 29.60%,#f6f7f7 29.95%,#f6f7f7 30.30%,#f6f7f7 30.65%,#f7f7f6 31.00%,#f7f5f4 31.35%,#f8f4f2 31.69%,#f8f3f0 32.04%,#f8f2ee 32.39%,#f8f1ed 32.74%,#f8f1ec 33.09%,#f8f0eb 33.44%,#f9f0eb 33.79%,#f9f0eb 34.13%,#f9f0eb 34.48%,#f9f0eb 34.83%,#f8f0eb 35.18%,#f8f0eb 35.53%,#f8f1ec 35.88%,#f8f1ed 36.23%,#f8f2ee 36.57%,#f8f2ef 36.92%,#f8f3f0 37.27%,#f8f4f1 37.62%,#f8f4f2 37.97%,#f7f5f3 38.32%,#f7f6f4 38.67%,#f7f6f5 39.01%,#f7f6f6 39.36%,#f7f6f6 39.71%,#f7f7f6 40.06%,#f7f7f6 40.41%,#f7f7f6 40.76%,#f7f7f6 41.10%,#f7f6f6 45.63%,#f7f7f6 50.16%,#f7f7f6 54.69%,#f7f7f7 59.22%,#f7f7f7 63.75%,#f7f7f7 68.28%,#f7f7f7 72.81%,#f7f7f7 77.34%,#f7f7f7 81.87%,#f7f7f7 86.40%,#f7f7f7 90.93%,#f7f7f7 95.46%,#f7f7f7 99.99%)"></div>
<div style="top:330.05px;height:6.15px;background:linear-gradient(90deg,#f7f7f7 0.00%,#f7f7f7 2.31%,#f7f7f7 4.62%,#f7f7f7 6.93%,#f7f7f7 9.24%,#f7f7f7 11.55%,#f7f7f7 13.87%,#f7f7f7 16.18%,#f7f7f7 18.49%,#f7f7f7 20.80%,#f7f7f7 23.11%,#f6f7f7 25.42%,#f6f7f7 25.77%,#f6f7f7 26.12%,#f6f7f7 26.47%,#f6f7f7 26.81%,#f6f7f7 27.16%,#f6f7f7 27.51%,#f6f7f7 27.86%,#f6f7f7 28.21%,#f6f7f7 28.56%,#f6f7f7 28.91%,#f6f7f7 29.25%,#f7f7f7 29.60%,#f7f7f7 29.95%,#f7f7f7 30.30%,#f7f7f7 30.65%,#f7f7f7 31.00%,#f7f7f7 31.35%,#f7f7f6 31.69%,#f7f6f6 32.04%,#f7f6f6 32.39%,#f7f6f5 32.74%,#f7f6f5 33.09%,#f7f6f5 33.44%,#f7f6f5 33.79%,#f7f6f5 34.13%,#f7f6f5 34.48%,#f7f6f5 34.83%,#f7f6f5 35.18%,#f7f6f5 35.53%,#f7f6f5 35.88%,#f7f6f5 36.23%,#f7f6f6 36.57%,#f7f6f6 36.92%,#f7f6f6 37.27%,#f7f6f6 37.62%,#f7f7f6 37.97%,#f7f7f6 38.32%,#f7f7f7 38.67%,#f7f7f7 39.01%,#f7f7f7 39.36%,#f7f7f7 39.71%,#f7f7f7 40.06%,#f7f7f7 40.41%,#f7f7f7 40.76%,#f7f7f7 41.10%,#f7f7f7 45.63%,#f7f7f7 50.16%,#f7f7f7 54.69%,#f7f7f7 59.22%,#f7f7f7 63.75%,#f7f7f7 68.28%,#f7f7f7 72.81%,#f7f7f7 77.34%,#f7f7f7 81.87%,#f7f7f7 86.40%,#f7f7f7 90.93%,#f7f7f7 95.46%,#f7f7f7 99.99%)"></div>
<div style="top:335.60px;height:6.15px;background:linear-gradient(90deg,#f7f7f7 0.00%,#f7f7f7 2.31%,#f7f7f7 4.62%,#f7f7f7 6.93%,#f7f7f7 9.24%,#f7f7f7 11.55%,#f7f7f7 13.87%,#f7f7f7 16.18%,#f7f7f7 18.49%,#f7f7f7 20.80%,#f7f7f6 23.11%,#f7f7f6 25.42%,#f7f7f6 25.77%,#f7f7f6 26.12%,#f7f7f6 26.47%,#f7f7f6 26.81%,#f7f7f6 27.16%,#f7f7f6 27.51%,#f7f7f6 27.86%,#f7f7f6 28.21%,#f7f7f6 28.56%,#f7f7f6 28.91%,#f7f7f6 29.25%,#f7f7f6 29.60%,#f7f7f7 29.95%,#f7f7f7 30.30%,#f7f7f7 30.65%,#f7f7f7 31.00%,#f7f7f7 31.35%,#f6f7f7 31.69%,#f6f7f7 32.04%,#f6f7f7 32.39%,#f6f6f7 32.74%,#f6f6f7 33.09%,#f6f6f7 33.44%,#f6f6f7 33.79%,#f5f6f7 34.13%,#f5f6f7 34.48%,#f5f6f7 34.83%,#f6f6f7 35.18%,#f6f6f7 35.53%,#f6f6f7 35.88%,#f6f6f7 36.23%,#f6f7f7 36.57%,#f6f7f7 36.92%,#f6f7f7 37.27%,#f6f7f7 37.62%,#f7f7f7 37.97%,#f7f7f7 38.32%,#f7f7f7 38.67%,#f7f7f7 39.01%,#f7f7f7 39.36%,#f7f7f7 39.71%,#f7f7f7 40.06%,#f7f7f7 40.41%,#f7f7f7 40.76%,#f7f7f7 41.10%,#f7f7f7 45.63%,#f7f7f7 50.16%,#f7f7f7 54.69%,#f7f7f7 59.22%,#f7f7f7 63.75%,#f7f7f7 68.28%,#f7f7f7 72.81%,#f7f7f7 77.34%,#f7f7f7 81.87%,#f7f7f7 86.40%,#f7f7f7 90.93%,#f7f7f7 95.46%,#f7f7f7 99.99%)"></div>
<div style="top:341.15px;height:6.15px;background:linear-gradient(90deg,#f7f7f7 0.00%,#f7f7f7 2.31%,#f7f7f7 4.62%,#f7f7f7 6.93%,#f7f7f7 9.24%,#f7f7f6 11.55%,#f7f7f6 13.87%,#f7f7f6 16.18%,#f7f6f6 18.49%,#f7f6f6 20.80%,#f7f6f5 23.11%,#f7f6f5 25.42%,#f7f6f5 25.77%,#f7f6f5 26.12%,#f7f6f5 26.47%,#f7f6f5 26.81%,#f7f6f4 27.16%,#f7f6f4 27.51%,#f7f6f5 27.86%,#f7f6f5 28.21%,#f7f6f5 28.56%,#f7f6f5 28.91%,#f7f6f5 29.25%,#f7f6f5 29.60%,#f7f6f6 29.95%,#f7f6f6 30.30%,#f7f7f7 30.65%,#f6f6f7 31.00%,#f4f6f7 31.35%,#f3f5f6 31.69%,#f2f5f6 32.04%,#f1f4f6 32.39%,#f0f3f6 32.74%,#eff3f5 33.09%,#eef3f5 33.44%,#eef3f5 33.79%,#edf2f5 34.13%,#edf2f5 34.48%,#eef3f5 34.83%,#eef3f5 35.18%,#eef3f5 35.53%,#eff3f6 35.88%,#f0f4f6 36.23%,#f0f4f6 36.57%,#f1f4f6 36.92%,#f2f5f6 37.27%,#f3f5f6 37.62%,#f4f6f6 37.97%,#f5f6f7 38.32%,#f5f6f7 38.67%,#f6f6f7 39.01%,#f6f7f7 39.36%,#f6f7f7 39.71%,#f6f7f7 40.06%,#f7f7f7 40.41%,#f7f7f7 40.76%,#f7f7f7 41.10%,#f6f7f7 45.63%,#f7f7f7 50.16%,#f7f7f7 54.69%,#f7f7f7 59.22%,#f7f7f7 63.75%,#f7f7f7 68.28%,#f7f7f7 72.81%,#f7f7f7 77.34%,#f7f7f7 81.87%,#f7f7f7 86.40%,#f7f7f7 90.93%,#f7f7f7 95.46%,#f7f7f7 99.99%)"></div>
<div style="top:346.69px;height:6.15px;background:linear-gradient(90deg,#f7f7f7 0.00%,#f7f7f7 2.31%,#f7f7f7 4.62%,#f7f7f7 6.93%,#f7f7f6 9.24%,#f7f7f6 11.55%,#f7f6f6 13.87%,#f7f6f6 16.18%,#f7f6f5 18.49%,#f7f6f5 20.80%,#f7f5f4 23.11%,#f7f5f3 25.42%,#f7f5f3 25.77%,#f7f5f3 26.12%,#f7f5f3 26.47%,#f8f5f3 26.81%,#f8f5f3 27.16%,#f8f5f3 27.51%,#f8f5f3 27.86%,#f7f5f3 28.21%,#f7f5f3 28.56%,#f7f5f3 28.91%,#f7f5f4 29.25%,#f7f5f4 29.60%,#f7f6f5 29.95%,#f7f5f4 30.30%,#f7f7f7 30.65%,#f3f5f6 31.00%,#eff3f6 31.35%,#ebf1f5 31.69%,#e8f0f4 32.04%,#e4eef3 32.39%,#e0ecf3 32.74%,#deebf2 33.09%,#dceaf2 33.44%,#dae9f2 33.79%,#dae9f2 34.13%,#d9e9f2 34.48%,#dae9f2 34.83%,#dbeaf2 35.18%,#ddebf2 35.53%,#dfebf3 35.88%,#e1ecf3 36.23%,#e3edf3 36.57%,#e6eff4 36.92%,#e8f0f4 37.27%,#ebf1f5 37.62%,#eef3f5 37.97%,#f0f4f6 38.32%,#f2f4f6 38.67%,#f3f5f6 39.01%,#f4f6f6 39.36%,#f5f6f7 39.71%,#f5f6f7 40.06%,#f6f6f7 40.41%,#f6f6f7 40.76%,#f6f6f7 41.10%,#f5f6f7 45.63%,#f6f6f7 50.16%,#f6f6f7 54.69%,#f6f6f7 59.22%,#f6f7f7 63.75%,#f6f7f7 68.28%,#f6f7f7 72.81%,#f6f7f7 77.34%,#f6f7f7 81.87%,#f6f7f7 86.40%,#f6f7f7 90.93%,#f6f7f7 95.46%,#f6f7f7 99.99%)"></div>
<div style="top:352.24px;height:6.15px;background:linear-gradient(90deg,#f7f7f6 0.00%,#f7f7f6 2.31%,#f7f6f6 4.62%,#f7f6f6 6.93%,#f7f6f6 9.24%,#f7f6f5 11.55%,#f7f6f5 13.87%,#f7f5f4 16.18%,#f7f5f3 18.49%,#f8f4f3 20.80%,#f8f3f1 23.11%,#f8f3ef 25.42%,#f8f2ef 25.77%,#f8f2ef 26.12%,#f8f2ef 26.47%,#f8f2ee 26.81%,#f8f2ee 27.16%,#f8f2ee 27.51%,#f8f2ee 27.86%,#f8f2ef 28.21%,#f8f2ef 28.56%,#f8f3f0 28.91%,#f8f3f0 29.25%,#f8f4f1 29.60%,#f8f4f2 29.95%,#f8f4f2 30.30%,#f7f7f7 30.65%,#f0f4f6 31.00%,#eaf1f5 31.35%,#e4eef3 31.69%,#deebf2 32.04%,#d7e8f1 32.39%,#d1e5f0 32.74%,#cbe2ee 33.09%,#c6dfed 33.44%,#c2ddec 33.79%,#c0dceb 34.13%,#bfdceb 34.48%,#c1ddeb 34.83%,#c4deec 35.18%,#c8e1ee 35.53%,#cde3ef 35.88%,#d2e6f0 36.23%,#d6e7f1 36.57%,#dae9f2 36.92%,#dfecf3 37.27%,#e4eef3 37.62%,#e8f0f4 37.97%,#ebf1f5 38.32%,#eef3f5 38.67%,#f0f4f6 39.01%,#f2f5f6 39.36%,#f3f5f6 39.71%,#f4f6f6 40.06%,#f5f6f7 40.41%,#f5f6f7 40.76%,#f5f6f7 41.10%,#f4f5f6 45.63%,#f5f6f7 50.16%,#f5f6f7 54.69%,#f5f6f7 59.22%,#f5f6f7 63.75%,#f6f6f7 68.28%,#f6f6f7 72.81%,#f6f6f7 77.34%,#f6f6f7 81.87%,#f6f6f7 86.40%,#f6f6f7 90.93%,#f6f6f7 95.46%,#f6f7f7 99.99%)"></div>
<div style="top:357.78px;height:6.15px;background:linear-gradient(90deg,#f7f6f6 0.00%,#f7f6f6 2.31%,#f7f6f6 4.62%,#f7f6f5 6.93%,#f7f6f5 9.24%,#f7f5f4 11.55%,#f7f5f4 13.87%,#f8f5f3 16.18%,#f8f4f2 18.49%,#f8f3f0 20.80%,#f8f2ee 23.11%,#f8f0eb 25.42%,#f8f0eb 25.77%,#f9f0eb 26.12%,#f9f0ea 26.47%,#f9efea 26.81%,#f9efe9 27.16%,#f9efea 27.51%,#f9efea 27.86%,#f9f0ea 28.21%,#f9f0eb 28.56%,#f8f0ec 28.91%,#f8f1ed 29.25%,#f8f2ee 29.60%,#f8f3f0 29.95%,#f8f3f0 30.30%,#f7f7f7 30.65%,#eef3f5 31.00%,#e4eef4 31.35%,#dceaf2 31.69%,#d4e7f1 32.04%,#c7e0ed 32.39%,#b9d9e9 32.74%,#b0d4e7 33.09%,#a9d0e4 33.44%,#a3cee3 33.79%,#a0cce2 34.13%,#9fcce2 34.48%,#a2cde2 34.83%,#a6cfe4 35.18%,#acd2e5 35.53%,#b3d6e7 35.88%,#bbdaea 36.23%,#c3deec 36.57%,#cde3ef 36.92%,#d6e7f1 37.27%,#dceaf2 37.62%,#e2edf3 37.97%,#e7eff4 38.32%,#ebf1f5 38.67%,#eef3f5 39.01%,#f0f4f6 39.36%,#f2f5f6 39.71%,#f3f5f6 40.06%,#f4f5f6 40.41%,#f4f6f6 40.76%,#f4f6f6 41.10%,#f2f5f6 45.63%,#f4f5f6 50.16%,#f4f6f7 54.69%,#f5f6f7 59.22%,#f5f6f7 63.75%,#f5f6f7 68.28%,#f5f6f7 72.81%,#f5f6f7 77.34%,#f5f6f7 81.87%,#f5f6f7 86.40%,#f5f6f7 90.93%,#f6f6f7 95.46%,#f6f6f7 99.99%)"></div>
<div style="top:363.33px;height:6.15px;background:linear-gradient(90deg,#f7f6f6 0.00%,#f7f6f5 2.31%,#f7f6f5 4.62%,#f7f6f5 6.93%,#f7f5f4 9.24%,#f7f5f3 11.55%,#f8f4f2 13.87%,#f8f4f1 16.18%,#f8f3ef 18.49%,#f8f1ed 20.80%,#f9efea 23.11%,#f9ede7 25.42%,#f9ede6 25.77%,#f9ede6 26.12%,#f9ece5 26.47%,#f9ece4 26.81%,#f9ece4 27.16%,#f9ece4 27.51%,#f9ece4 27.86%,#f9ece5 28.21%,#f9ede6 28.56%,#f9eee7 28.91%,#f9eee8 29.25%,#f9f0ea 29.60%,#f8f1ed 29.95%,#f8f1ed 30.30%,#f7f7f6 30.65%,#ecf2f5 31.00%,#e1ecf3 31.35%,#d6e8f1 31.69%,#cbe2ee 32.04%,#b8d8e9 32.39%,#a7d0e4 32.74%,#9dcae1 33.09%,#94c6de 33.44%,#8cc1dc 33.79%,#87beda 34.13%,#86beda 34.48%,#8ac0db 34.83%,#90c4dd 35.18%,#98c8e0 35.53%,#a0cce2 35.88%,#a9d1e5 36.23%,#b4d6e8 36.57%,#c0dceb 36.92%,#cde3ef 37.27%,#d7e8f1 37.62%,#ddebf2 37.97%,#e3eef3 38.32%,#e8f0f4 38.67%,#ecf2f5 39.01%,#eff3f6 39.36%,#f1f4f6 39.71%,#f2f5f6 40.06%,#f3f5f6 40.41%,#f3f5f6 40.76%,#f4f5f6 41.10%,#f1f4f6 45.63%,#f3f5f6 50.16%,#f4f5f6 54.69%,#f4f6f6 59.22%,#f4f6f7 63.75%,#f5f6f7 68.28%,#f5f6f7 72.81%,#f5f6f7 77.34%,#f5f6f7 81.87%,#f5f6f7 86.40%,#f5f6f7 90.93%,#f5f6f7 95.46%,#f5f6f7 99.99%)"></div>
<div style="top:368.88px;height:6.15px;background:linear-gradient(90deg,#f7f6f5 0.00%,#f7f6f5 2.31%,#f7f5f4 4.62%,#f7f5f4 6.93%,#f7f5f3 9.24%,#f8f4f2 11.55%,#f8f3f1 13.87%,#f8f2ef 16.18%,#f8f1ed 18.49%,#f9efea 20.80%,#f9ede5 23.11%,#faeae1 25.42%,#faeae0 25.77%,#fae9df 26.12%,#fae9de 26.47%,#fae8dd 26.81%,#fae8dd 27.16%,#fae8dd 27.51%,#fae8de 27.86%,#fae9de 28.21%,#fae9e0 28.56%,#faeae1 28.91%,#f9ebe3 29.25%,#f9ede6 29.60%,#f9efe9 29.95%,#f8f0eb 30.30%,#f7f7f6 30.65%,#ebf1f5 31.00%,#deebf2 31.35%,#d3e6f0 31.69%,#c4deec 32.04%,#afd4e6 32.39%,#9dcbe1 32.74%,#90c4dd 33.09%,#84bcd9 33.44%,#7bb6d6 33.79%,#76b3d4 34.13%,#75b3d4 34.48%,#79b5d5 34.83%,#80bad8 35.18%,#8ac0db 35.53%,#95c7df 35.88%,#9fcce2 36.23%,#aad1e5 36.57%,#b8d8e9 36.92%,#c7e0ed 37.27%,#d3e6f0 37.62%,#dbeaf2 37.97%,#e1edf3 38.32%,#e7eff4 38.67%,#ebf1f5 39.01%,#eef3f5 39.36%,#f1f4f6 39.71%,#f2f5f6 40.06%,#f3f5f6 40.41%,#f3f5f6 40.76%,#f3f5f6 41.10%,#f1f4f6 45.63%,#f3f5f6 50.16%,#f3f5f6 54.69%,#f4f5f6 59.22%,#f4f6f6 63.75%,#f4f6f7 68.28%,#f5f6f7 72.81%,#f5f6f7 77.34%,#f5f6f7 81.87%,#f5f6f7 86.40%,#f5f6f7 90.93%,#f5f6f7 95.46%,#f5f6f7 99.99%)"></div>
<div style="top:374.42px;height:6.15px;background:linear-gradient(90deg,#f7f6f5 0.00%,#f7f5f4 2.31%,#f7f5f4 4.62%,#f7f5f3 6.93%,#f8f4f3 9.24%,#f8f3f0 11.55%,#f8f2ef 13.87%,#f8f1ed 16.18%,#f9efea 18.49%,#f9ede6 20.80%,#faeae1 23.11%,#fae7db 25.42%,#fbe6da 25.77%,#fbe6d9 26.12%,#fbe5d8 26.47%,#fbe4d7 26.81%,#fbe4d6 27.16%,#fbe4d6 27.51%,#fbe4d7 27.86%,#fbe5d8 28.21%,#fbe6d9 28.56%,#fae7db 28.91%,#fae8de 29.25%,#faeae1 29.60%,#f9ede5 29.95%,#f9efe9 30.30%,#f7f7f6 30.65%,#eaf1f5 31.00%,#dceaf2 31.35%,#cfe4ef 31.69%,#bddbea 32.04%,#a6cfe4 32.39%,#92c5de 32.74%,#82bbd8 33.09%,#74b2d4 33.44%,#6aacd0 33.79%,#65a8ce 34.13%,#64a8ce 34.48%,#68aad0 34.83%,#70b0d2 35.18%,#7bb7d6 35.53%,#88bfdb 35.88%,#95c6df 36.23%,#a1cde2 36.57%,#b0d4e6 36.92%,#c0dceb 37.27%,#cfe4f0 37.62%,#d8e8f1 37.97%,#dfecf3 38.32%,#e5eef4 38.67%,#eaf1f5 39.01%,#edf2f5 39.36%,#f0f4f6 39.71%,#f1f4f6 40.06%,#f2f5f6 40.41%,#f3f5f6 40.76%,#f3f5f6 41.10%,#f0f4f6 45.63%,#f2f5f6 50.16%,#f3f5f6 54.69%,#f3f5f6 59.22%,#f4f5f6 63.75%,#f4f6f6 68.28%,#f4f6f7 72.81%,#f4f6f7 77.34%,#f5f6f7 81.87%,#f5f6f7 86.40%,#f5f6f7 90.93%,#f5f6f7 95.46%,#f5f6f7 99.99%)"></div>
<div style="top:379.97px;height:6.15px;background:linear-gradient(90deg,#f7f5f4 0.00%,#f7f5f3 2.31%,#f8f5f3 4.62%,#f8f4f3 6.93%,#f8f4f2 9.24%,#f8f2ef 11.55%,#f8f1ed 13.87%,#f9f0eb 16.18%,#f9eee7 18.49%,#f9ebe3 20.80%,#fae7dc 23.11%,#fbe3d5 25.42%,#fbe3d4 25.77%,#fbe2d3 26.12%,#fce1d2 26.47%,#fce0d0 26.81%,#fce0cf 27.16%,#fce0d0 27.51%,#fce1d0 27.86%,#fce1d2 28.21%,#fbe2d3 28.56%,#fbe4d6 28.91%,#fbe5d9 29.25%,#fae8dd 29.60%,#faebe2 29.95%,#f9eee7 30.30%,#f7f7f6 30.65%,#e8f0f4 31.00%,#dae9f2 31.35%,#c9e1ee 31.69%,#b6d7e8 32.04%,#9dcbe1 32.39%,#85bdda 32.74%,#73b1d3 33.09%,#65a8ce 33.44%,#5aa1cb 33.79%,#539dc9 34.13%,#539dc8 34.48%,#57a0ca 34.83%,#60a5cd 35.18%,#6cadd1 35.53%,#7ab6d6 35.88%,#88bfdb 36.23%,#97c8e0 36.57%,#a8d0e4 36.92%,#b9d9e9 37.27%,#cae1ee 37.62%,#d6e7f1 37.97%,#ddebf2 38.32%,#e4eef3 38.67%,#e9f0f4 39.01%,#edf2f5 39.36%,#eff3f6 39.71%,#f1f4f6 40.06%,#f2f5f6 40.41%,#f2f5f6 40.76%,#f3f5f6 41.10%,#f0f3f6 45.63%,#f2f4f6 50.16%,#f3f5f6 54.69%,#f3f5f6 59.22%,#f3f5f6 63.75%,#f4f6f6 68.28%,#f4f6f6 72.81%,#f4f6f6 77.34%,#f4f6f7 81.87%,#f4f6f7 86.40%,#f5f6f7 90.93%,#f5f6f7 95.46%,#f5f6f7 99.99%)"></div>
<div style="top:385.51px;height:6.15px;background:linear-gradient(90deg,#f7f5f4 0.00%,#f8f5f3 2.31%,#f8f4f2 4.62%,#f8f4f2 6.93%,#f8f3f1 9.24%,#f8f2ee 11.55%,#f8f1ec 13.87%,#f9efe9 16.18%,#f9ede5 18.49%,#faeae0 20.80%,#fbe5d8 23.11%,#fce1d0 25.42%,#fce0cf 25.77%,#fcdfce 26.12%,#fcdecc 26.47%,#fdddcb 26.81%,#fdddca 27.16%,#fdddca 27.51%,#fdddcb 27.86%,#fcdecc 28.21%,#fcdfce 28.56%,#fce1d1 28.91%,#fbe3d5 29.25%,#fbe6d9 29.60%,#fae9df 29.95%,#f9ede6 30.30%,#f7f6f6 30.65%,#e7f0f4 31.00%,#d7e8f1 31.35%,#c4deec 31.69%,#afd4e6 32.04%,#94c6df 32.39%,#78b4d5 32.74%,#64a8ce 33.09%,#559ec9 33.44%,#4997c5 33.79%,#4393c3 34.13%,#4292c3 34.48%,#4695c4 34.83%,#509bc7 35.18%,#5da3cc 35.53%,#6badd1 35.88%,#7bb7d6 36.23%,#8dc2dc 36.57%,#a0cce2 36.92%,#b2d5e7 37.27%,#c4dfec 37.62%,#d3e6f0 37.97%,#dbeaf2 38.32%,#e2edf3 38.67%,#e7f0f4 39.01%,#ecf2f5 39.36%,#eff3f5 39.71%,#f0f4f6 40.06%,#f1f4f6 40.41%,#f2f5f6 40.76%,#f2f5f6 41.10%,#eff3f6 45.63%,#f1f4f6 50.16%,#f3f5f6 54.69%,#f3f5f6 59.22%,#f3f5f6 63.75%,#f4f5f6 68.28%,#f4f6f6 72.81%,#f4f6f6 77.34%,#f4f6f6 81.87%,#f4f6f6 86.40%,#f4f6f7 90.93%,#f4f6f7 95.46%,#f5f6f7 99.99%)"></div>
<div style="top:391.06px;height:6.15px;background:linear-gradient(90deg,#f7f5f3 0.00%,#f8f4f2 2.31%,#f8f4f2 4.62%,#f8f4f1 6.93%,#f8f3f0 9.24%,#f8f1ed 11.55%,#f9f0eb 13.87%,#f9eee7 16.18%,#f9ebe3 18.49%,#fae8de 20.80%,#fbe3d5 23.11%,#fcdecc 25.42%,#fdddcb 25.77%,#fddcc9 26.12%,#fddbc8 26.47%,#fddac5 26.81%,#fdd8c4 27.16%,#fdd9c4 27.51%,#fddac6 27.86%,#fddbc8 28.21%,#fdddca 28.56%,#fcdecd 28.91%,#fce1d1 29.25%,#fbe4d6 29.60%,#fae7dc 29.95%,#f9ece4 30.30%,#f7f6f6 30.65%,#e6eff4 31.00%,#d5e7f1 31.35%,#bfdceb 31.69%,#a8d0e4 32.04%,#89bfdb 32.39%,#6bacd1 32.74%,#569fc9 33.09%,#4594c4 33.44%,#3e8dc0 33.79%,#3b89be 34.13%,#3b88be 34.48%,#3d8bbf 34.83%,#4291c2 35.18%,#4d9ac7 35.53%,#5da4cc 35.88%,#6eaed2 36.23%,#81bad8 36.57%,#97c8e0 36.92%,#acd2e5 37.27%,#bfdceb 37.62%,#d0e5f0 37.97%,#d9e9f2 38.32%,#e0ecf3 38.67%,#e6eff4 39.01%,#ebf1f5 39.36%,#eef3f5 39.71%,#f0f4f6 40.06%,#f1f4f6 40.41%,#f2f4f6 40.76%,#f2f5f6 41.10%,#eef3f5 45.63%,#f1f4f6 50.16%,#f2f5f6 54.69%,#f2f5f6 59.22%,#f3f5f6 63.75%,#f3f5f6 68.28%,#f4f5f6 72.81%,#f4f5f6 77.34%,#f4f6f6 81.87%,#f4f6f6 86.40%,#f4f6f6 90.93%,#f4f6f7 95.46%,#f4f6f7 99.99%)"></div>
<div style="top:396.61px;height:6.15px;background:linear-gradient(90deg,#f8f5f3 0.00%,#f8f4f2 2.31%,#f8f4f1 4.62%,#f8f3f1 6.93%,#f8f3f0 9.24%,#f8f1ec 11.55%,#f9efea 13.87%,#f9ede6 16.18%,#faeae1 18.49%,#fae7db 20.80%,#fce1d2 23.11%,#fddcc8 25.42%,#fddbc7 25.77%,#fdd9c4 26.12%,#fcd7c2 26.47%,#fcd4be 26.81%,#fcd3bd 27.16%,#fcd3bd 27.51%,#fcd5bf 27.86%,#fcd7c1 28.21%,#fdd9c5 28.56%,#fddcc9 28.91%,#fcdfcd 29.25%,#fce2d3 29.60%,#fbe6d9 29.95%,#faebe3 30.30%,#f7f6f6 30.65%,#e5eff4 31.00%,#d4e6f0 31.35%,#bbdaea 31.69%,#a3cee3 32.04%,#82bbd8 32.39%,#61a6cd 32.74%,#4c99c6 33.09%,#3f8ec0 33.44%,#3a86bd 33.79%,#3682ba 34.13%,#3682ba 34.48%,#3885bc 34.83%,#3d8bbf 35.18%,#4393c3 35.53%,#549ec9 35.88%,#65a9cf 36.23%,#79b5d6 36.57%,#92c5de 36.92%,#a7d0e4 37.27%,#bbdaea 37.62%,#cde3ef 37.97%,#d8e8f1 38.32%,#dfecf3 38.67%,#e6eff4 39.01%,#eaf1f5 39.36%,#eef3f5 39.71%,#f0f3f6 40.06%,#f1f4f6 40.41%,#f1f4f6 40.76%,#f2f4f6 41.10%,#eef3f5 45.63%,#f1f4f6 50.16%,#f2f5f6 54.69%,#f2f5f6 59.22%,#f3f5f6 63.75%,#f3f5f6 68.28%,#f3f5f6 72.81%,#f4f5f6 77.34%,#f4f5f6 81.87%,#f4f6f6 86.40%,#f4f6f6 90.93%,#f4f6f6 95.46%,#f4f6f7 99.99%)"></div>
<div style="top:402.15px;height:6.15px;background:linear-gradient(90deg,#f8f4f3 0.00%,#f8f4f2 2.31%,#f8f3f1 4.62%,#f8f3f0 6.93%,#f8f2ef 9.24%,#f9f0eb 11.55%,#f9efe8 13.87%,#f9ece4 16.18%,#fae9df 18.49%,#fbe5d9 20.80%,#fcdfce 23.11%,#fcd8c3 25.42%,#fcd6c0 25.77%,#fcd4be 26.12%,#fbd2bb 26.47%,#fbcfb8 26.81%,#fbcdb6 27.16%,#fbceb6 27.51%,#fbcfb8 27.86%,#fbd2bb 28.21%,#fcd4be 28.56%,#fdd8c4 28.91%,#fdddca 29.25%,#fce0d0 29.60%,#fbe4d7 29.95%,#faeae1 30.30%,#f7f6f6 30.65%,#e5eef4 31.00%,#d2e6f0 31.35%,#b8d8e9 31.69%,#a0cce2 32.04%,#7bb7d6 32.39%,#5aa2cb 32.74%,#4493c3 33.09%,#3b89be 33.44%,#3681ba 33.79%,#327db8 34.13%,#327cb7 34.48%,#347fb9 34.83%,#3986bc 35.18%,#3f8ec1 35.53%,#4c99c6 35.88%,#5ea4cc 36.23%,#73b1d3 36.57%,#8cc1dc 36.92%,#a3cee3 37.27%,#b8d8e9 37.62%,#cbe2ee 37.97%,#d7e8f1 38.32%,#dfebf3 38.67%,#e5eef4 39.01%,#eaf1f5 39.36%,#edf2f5 39.71%,#eff3f6 40.06%,#f0f4f6 40.41%,#f1f4f6 40.76%,#f2f4f6 41.10%,#eef3f5 45.63%,#f0f4f6 50.16%,#f2f5f6 54.69%,#f2f5f6 59.22%,#f3f5f6 63.75%,#f3f5f6 68.28%,#f3f5f6 72.81%,#f3f5f6 77.34%,#f4f5f6 81.87%,#f4f5f6 86.40%,#f4f6f6 90.93%,#f4f6f6 95.46%,#f4f6f6 99.99%)"></div>
<div style="top:407.70px;height:6.15px;background:linear-gradient(90deg,#f8f4f2 0.00%,#f8f4f1 2.31%,#f8f3f0 4.62%,#f8f3f0 6.93%,#f8f2ee 9.24%,#f9efea 11.55%,#f9eee7 13.87%,#faebe3 16.18%,#fae8dd 18.49%,#fbe4d6 20.80%,#fcddcb 23.11%,#fcd3bd 25.42%,#fbd1ba 25.77%,#fbcfb7 26.12%,#fbccb4 26.47%,#fac9b1 26.81%,#fac8af 27.16%,#fac9af 27.51%,#facab1 27.86%,#fbccb4 28.21%,#fbcfb8 28.56%,#fcd4be 28.91%,#fddac5 29.25%,#fcdecd 29.60%,#fbe3d4 29.95%,#faeae0 30.30%,#f7f6f6 30.65%,#e4eef4 31.00%,#d1e5f0 31.35%,#b5d7e8 31.69%,#9ccae1 32.04%,#75b3d4 32.39%,#539dc8 32.74%,#408fc1 33.09%,#3884bb 33.44%,#327cb7 33.79%,#2e77b5 34.13%,#2e77b5 34.48%,#307ab6 34.83%,#3581ba 35.18%,#3c89be 35.53%,#4494c3 35.88%,#57a0ca 36.23%,#6cadd1 36.57%,#87beda 36.92%,#a0cce2 37.27%,#b5d7e8 37.62%,#c8e1ee 37.97%,#d6e7f1 38.32%,#deebf2 38.67%,#e4eef4 39.01%,#eaf1f5 39.36%,#edf2f5 39.71%,#eff3f6 40.06%,#f0f4f6 40.41%,#f1f4f6 40.76%,#f1f4f6 41.10%,#edf2f5 45.63%,#f0f4f6 50.16%,#f2f4f6 54.69%,#f2f5f6 59.22%,#f2f5f6 63.75%,#f3f5f6 68.28%,#f3f5f6 72.81%,#f3f5f6 77.34%,#f4f5f6 81.87%,#f4f5f6 86.40%,#f4f5f6 90.93%,#f4f6f6 95.46%,#f4f6f6 99.99%)"></div>
<div style="top:413.24px;height:6.15px;background:linear-gradient(90deg,#f8f4f2 0.00%,#f8f3f1 2.31%,#f8f3f0 4.62%,#f8f2ef 6.93%,#f8f1ee 9.24%,#f9efe9 11.55%,#f9ede6 13.87%,#faeae1 16.18%,#fae7dc 18.49%,#fbe3d4 20.80%,#fddbc8 23.11%,#fbceb7 25.42%,#fbccb4 25.77%,#facab1 26.12%,#fac7ae 26.47%,#f9c4aa 26.81%,#f9c2a8 27.16%,#f9c3a8 27.51%,#f9c5ab 27.86%,#fac7ae 28.21%,#facab2 28.56%,#fbcfb8 28.91%,#fcd6c0 29.25%,#fddcc9 29.60%,#fce1d1 29.95%,#fae9df 30.30%,#f7f6f6 30.65%,#e4eef3 31.00%,#cfe4ef 31.35%,#b2d5e7 31.69%,#98c8e0 32.04%,#6fafd2 32.39%,#4c98c6 32.74%,#3c8abf 33.09%,#347fb9 33.44%,#2e77b5 33.79%,#2a72b2 34.13%,#2a71b2 34.48%,#2c75b4 34.83%,#317cb7 35.18%,#3885bc 35.53%,#408fc1 35.88%,#509bc7 36.23%,#66a9cf 36.57%,#81bad8 36.92%,#9ccae1 37.27%,#b2d5e7 37.62%,#c6dfed 37.97%,#d5e7f1 38.32%,#ddebf2 38.67%,#e4eef3 39.01%,#e9f0f4 39.36%,#edf2f5 39.71%,#eff3f5 40.06%,#f0f4f6 40.41%,#f1f4f6 40.76%,#f1f4f6 41.10%,#edf2f5 45.63%,#f0f4f6 50.16%,#f1f4f6 54.69%,#f2f5f6 59.22%,#f2f5f6 63.75%,#f3f5f6 68.28%,#f3f5f6 72.81%,#f3f5f6 77.34%,#f3f5f6 81.87%,#f4f5f6 86.40%,#f4f5f6 90.93%,#f4f6f6 95.46%,#f4f6f6 99.99%)"></div>
<div style="top:418.79px;height:6.15px;background:linear-gradient(90deg,#f8f4f2 0.00%,#f8f3f0 2.31%,#f8f2ef 4.62%,#f8f2ef 6.93%,#f8f1ed 9.24%,#f9eee8 11.55%,#f9ece5 13.87%,#faeae0 16.18%,#fbe6da 18.49%,#fce1d2 20.80%,#fdd8c3 23.11%,#facab1 25.42%,#fac7ae 25.77%,#f9c5ab 26.12%,#f9c2a7 26.47%,#f8bfa3 26.81%,#f8bda1 27.16%,#f8bea1 27.51%,#f8bfa4 27.86%,#f9c2a7 28.21%,#f9c6ac 28.56%,#facab2 28.91%,#fbd1bb 29.25%,#fddac6 29.60%,#fce0cf 29.95%,#fae8dd 30.30%,#f7f6f6 30.65%,#e3edf3 31.00%,#cde3ef 31.35%,#afd4e6 31.69%,#94c6df 32.04%,#69abd0 32.39%,#4494c3 32.74%,#3986bc 33.09%,#307ab6 33.44%,#2a72b2 33.79%,#266daf 34.13%,#266caf 34.48%,#2870b1 34.83%,#2e77b4 35.18%,#3580b9 35.53%,#3d8bbf 35.88%,#4997c5 36.23%,#60a5cd 36.57%,#7cb7d6 36.92%,#98c8e0 37.27%,#afd4e6 37.62%,#c4deec 37.97%,#d4e6f0 38.32%,#dceaf2 38.67%,#e3eef3 39.01%,#e9f0f4 39.36%,#ecf2f5 39.71%,#eff3f5 40.06%,#f0f4f6 40.41%,#f1f4f6 40.76%,#f1f4f6 41.10%,#edf2f5 45.63%,#f0f4f6 50.16%,#f1f4f6 54.69%,#f2f4f6 59.22%,#f2f5f6 63.75%,#f3f5f6 68.28%,#f3f5f6 72.81%,#f3f5f6 77.34%,#f3f5f6 81.87%,#f3f5f6 86.40%,#f4f5f6 90.93%,#f4f5f6 95.46%,#f4f6f6 99.99%)"></div>
<div style="top:424.34px;height:6.15px;background:linear-gradient(90deg,#f8f4f1 0.00%,#f8f3f0 2.31%,#f8f2ef 4.62%,#f8f2ee 6.93%,#f8f1ec 9.24%,#f9eee7 11.55%,#f9ece4 13.87%,#fae9de 16.18%,#fbe5d8 18.49%,#fce0cf 20.80%,#fcd4bf 23.11%,#f9c5ab 25.42%,#f9c3a8 25.77%,#f8c0a4 26.12%,#f8bda1 26.47%,#f7b99c 26.81%,#f7b79a 27.16%,#f7b89a 27.51%,#f8ba9d 27.86%,#f8bda0 28.21%,#f9c1a5 28.56%,#f9c6ac 28.91%,#fbcdb5 29.25%,#fcd6c1 29.60%,#fcdecc 29.95%,#fae7dc 30.30%,#f7f6f6 30.65%,#e2edf3 31.00%,#cbe2ee 31.35%,#acd2e5 31.69%,#90c4dd 32.04%,#63a7ce 32.39%,#4090c1 32.74%,#3581ba 33.09%,#2d75b4 33.44%,#266daf 33.79%,#2267ad 34.13%,#2267ac 34.48%,#246aae 34.83%,#2a72b2 35.18%,#317bb7 35.53%,#3986bd 35.88%,#4292c3 36.23%,#59a1cb 36.57%,#76b3d4 36.92%,#95c6df 37.27%,#acd2e5 37.62%,#c1ddec 37.97%,#d2e6f0 38.32%,#dbeaf2 38.67%,#e2edf3 39.01%,#e8f0f4 39.36%,#ecf2f5 39.71%,#eef3f5 40.06%,#f0f3f6 40.41%,#f0f4f6 40.76%,#f1f4f6 41.10%,#ecf2f5 45.63%,#eff3f6 50.16%,#f1f4f6 54.69%,#f1f4f6 59.22%,#f2f5f6 63.75%,#f3f5f6 68.28%,#f3f5f6 72.81%,#f3f5f6 77.34%,#f3f5f6 81.87%,#f3f5f6 86.40%,#f3f5f6 90.93%,#f4f5f6 95.46%,#f4f5f6 99.99%)"></div>
<div style="top:429.88px;height:6.15px;background:linear-gradient(90deg,#f8f4f1 0.00%,#f8f3f0 2.31%,#f8f2ee 4.62%,#f8f2ee 6.93%,#f8f1ec 9.24%,#f9ede7 11.55%,#f9ebe3 13.87%,#fae8de 16.18%,#fbe4d7 18.49%,#fcdfce 20.80%,#fcd3bd 23.11%,#f9c3a8 25.42%,#f9c0a5 25.77%,#f8bea2 26.12%,#f8bb9e 26.47%,#f7b799 26.81%,#f7b596 27.16%,#f7b697 27.51%,#f7b89a 27.86%,#f8bb9e 28.21%,#f8bea3 28.56%,#f9c4a9 28.91%,#facbb3 29.25%,#fcd5bf 29.60%,#fcddcb 29.95%,#fae7db 30.30%,#f7f6f6 30.65%,#e2edf3 31.00%,#cae2ee 31.35%,#aad1e5 31.69%,#8dc2dc 32.04%,#60a5cd 32.39%,#3f8ec0 32.74%,#347fb9 33.09%,#2b73b3 33.44%,#246aae 33.79%,#2065aa 34.13%,#2064a9 34.48%,#2268ad 34.83%,#286fb1 35.18%,#2f79b6 35.53%,#3884bb 35.88%,#4190c2 36.23%,#569fc9 36.57%,#73b2d4 36.92%,#93c5de 37.27%,#abd2e5 37.62%,#c0dceb 37.97%,#d2e5f0 38.32%,#dbeaf2 38.67%,#e2edf3 39.01%,#e8f0f4 39.36%,#ecf2f5 39.71%,#eef3f5 40.06%,#eff3f6 40.41%,#f0f4f6 40.76%,#f1f4f6 41.10%,#ecf2f5 45.63%,#eff3f6 50.16%,#f1f4f6 54.69%,#f1f4f6 59.22%,#f2f5f6 63.75%,#f3f5f6 68.28%,#f3f5f6 72.81%,#f3f5f6 77.34%,#f3f5f6 81.87%,#f3f5f6 86.40%,#f3f5f6 90.93%,#f4f5f6 95.46%,#f4f5f6 99.99%)"></div>
<div style="top:435.43px;height:6.15px;background:linear-gradient(90deg,#f8f3f1 0.00%,#f8f3ef 2.31%,#f8f2ee 4.62%,#f8f2ee 6.93%,#f8f0ec 9.24%,#f9ede6 11.55%,#faebe3 13.87%,#fae8dd 16.18%,#fbe4d6 18.49%,#fcdecd 20.80%,#fbd1ba 23.11%,#f9c1a6 25.42%,#f8bea2 25.77%,#f8bc9f 26.12%,#f7b89b 26.47%,#f7b596 26.81%,#f6b393 27.16%,#f6b394 27.51%,#f7b597 27.86%,#f7b89b 28.21%,#f8bca0 28.56%,#f9c2a7 28.91%,#facab1 29.25%,#fcd3bd 29.60%,#fdddca 29.95%,#fbe6db 30.30%,#f7f6f6 30.65%,#e2edf3 31.00%,#c9e1ee 31.35%,#a9d1e5 31.69%,#8bc1dc 32.04%,#5da3cc 32.39%,#3d8cbf 32.74%,#327db8 33.09%,#2971b1 33.44%,#2268ad 33.79%,#1f62a6 34.13%,#1e61a5 34.48%,#2165ab 34.83%,#266daf 35.18%,#2e77b5 35.53%,#3682ba 35.88%,#3f8ec1 36.23%,#539dc8 36.57%,#71b0d3 36.92%,#91c4de 37.27%,#a9d1e5 37.62%,#bfdceb 37.97%,#d1e5f0 38.32%,#dbeaf2 38.67%,#e2edf3 39.01%,#e8f0f4 39.36%,#ecf2f5 39.71%,#eef3f5 40.06%,#eff3f6 40.41%,#f0f4f6 40.76%,#f1f4f6 41.10%,#ecf2f5 45.63%,#eff3f6 50.16%,#f1f4f6 54.69%,#f1f4f6 59.22%,#f2f5f6 63.75%,#f2f5f6 68.28%,#f3f5f6 72.81%,#f3f5f6 77.34%,#f3f5f6 81.87%,#f3f5f6 86.40%,#f3f5f6 90.93%,#f4f5f6 95.46%,#f4f5f6 99.99%)"></div>
<div style="top:440.97px;height:6.15px;background:linear-gradient(90deg,#f8f3f1 0.00%,#f8f2ef 2.31%,#f8f2ee 4.62%,#f8f1ed 6.93%,#f8f0eb 9.24%,#f9ede6 11.55%,#faebe2 13.87%,#fae7dc 16.18%,#fbe3d5 18.49%,#fcdecc 20.80%,#fbd0b8 23.11%,#f8bfa3 25.42%,#f8bca0 25.77%,#f7b99c 26.12%,#f7b698 26.47%,#f6b293 26.81%,#f6b090 27.16%,#f6b191 27.51%,#f6b394 27.86%,#f7b698 28.21%,#f8ba9d 28.56%,#f8c0a4 28.91%,#fac8af 29.25%,#fbd2bb 29.60%,#fddcc9 29.95%,#fbe6da 30.30%,#f7f6f6 30.65%,#e1edf3 31.00%,#c8e0ed 31.35%,#a7d0e4 31.69%,#89bfdb 32.04%,#5aa2cb 32.39%,#3c8abe 32.74%,#307bb6 33.09%,#276eb0 33.44%,#2065aa 33.79%,#1d5fa2 34.13%,#1d5ea0 34.48%,#1f62a7 34.83%,#246aae 35.18%,#2c74b3 35.53%,#3580b9 35.88%,#3e8cc0 36.23%,#509bc7 36.57%,#6eaed2 36.92%,#8fc3dd 37.27%,#a8d0e4 37.62%,#bedbeb 37.97%,#d1e5f0 38.32%,#dae9f2 38.67%,#e2edf3 39.01%,#e8f0f4 39.36%,#ecf2f5 39.71%,#eef3f5 40.06%,#eff3f6 40.41%,#f0f4f6 40.76%,#f1f4f6 41.10%,#ecf2f5 45.63%,#eff3f6 50.16%,#f1f4f6 54.69%,#f1f4f6 59.22%,#f2f5f6 63.75%,#f2f5f6 68.28%,#f3f5f6 72.81%,#f3f5f6 77.34%,#f3f5f6 81.87%,#f3f5f6 86.40%,#f3f5f6 90.93%,#f4f5f6 95.46%,#f4f5f6 99.99%)"></div>
<div style="top:446.52px;height:6.15px;background:linear-gradient(90deg,#f8f3f1 0.00%,#f8f2ef 2.31%,#f8f2ee 4.62%,#f8f1ed 6.93%,#f8f0eb 9.24%,#f9ede5 11.55%,#faebe2 13.87%,#fae7dc 16.18%,#fbe3d4 18.49%,#fdddcb 20.80%,#fbceb6 23.11%,#f8bda1 25.42%,#f8ba9d 25.77%,#f7b799 26.12%,#f6b495 26.47%,#f6b090 26.81%,#f5ae8d 27.16%,#f6af8e 27.51%,#f6b191 27.86%,#f6b495 28.21%,#f7b89a 28.56%,#f8bea2 28.91%,#fac6ac 29.25%,#fbd0b9 29.60%,#fddbc8 29.95%,#fbe6d9 30.30%,#f7f6f6 30.65%,#e1edf3 31.00%,#c7e0ed 31.35%,#a6cfe4 31.69%,#87beda 32.04%,#57a0ca 32.39%,#3a88bd 32.74%,#2f78b5 33.09%,#256caf 33.44%,#1f62a6 33.79%,#1c5b9d 34.13%,#1b5b9c 34.48%,#1d5fa3 34.83%,#2268ad 35.18%,#2a72b2 35.53%,#337eb8 35.88%,#3c8abf 36.23%,#4d99c6 36.57%,#6badd1 36.92%,#8cc1dc 37.27%,#a7cfe4 37.62%,#bddbea 37.97%,#d0e4f0 38.32%,#dae9f2 38.67%,#e1edf3 39.01%,#e7f0f4 39.36%,#ebf2f5 39.71%,#eef3f5 40.06%,#eff3f6 40.41%,#f0f4f6 40.76%,#f0f4f6 41.10%,#ecf2f5 45.63%,#eff3f6 50.16%,#f1f4f6 54.69%,#f1f4f6 59.22%,#f2f5f6 63.75%,#f2f5f6 68.28%,#f3f5f6 72.81%,#f3f5f6 77.34%,#f3f5f6 81.87%,#f3f5f6 86.40%,#f3f5f6 90.93%,#f3f5f6 95.46%,#f4f5f6 99.99%)"></div>
<div style="top:452.07px;height:6.15px;background:linear-gradient(90deg,#f8f3f0 0.00%,#f8f2ef 2.31%,#f8f2ee 4.62%,#f8f1ed 6.93%,#f9f0eb 9.24%,#f9ece5 11.55%,#faeae1 13.87%,#fae7db 16.18%,#fbe2d4 18.49%,#fdddca 20.80%,#fbccb4 23.11%,#f8bb9e 25.42%,#f7b89a 25.77%,#f7b597 26.12%,#f6b292 26.47%,#f5ae8d 26.81%,#f5ab8a 27.16%,#f5ac8b 27.51%,#f6af8e 27.86%,#f6b292 28.21%,#f7b698 28.56%,#f8bc9f 28.91%,#f9c4aa 29.25%,#fbcfb7 29.60%,#fddac6 29.95%,#fbe5d9 30.30%,#f7f6f6 30.65%,#e1ecf3 31.00%,#c6dfed 31.35%,#a5cee3 31.69%,#84bcd9 32.04%,#549ec9 32.39%,#3986bc 32.74%,#2d76b4 33.09%,#246aae 33.44%,#1d5fa2 33.79%,#1a5899 34.13%,#195798 34.48%,#1c5c9e 34.83%,#2165ab 35.18%,#2870b1 35.53%,#317cb7 35.88%,#3b88be 36.23%,#4a97c5 36.57%,#69abd0 36.92%,#8ac0db 37.27%,#a5cfe3 37.62%,#bcdaea 37.97%,#cfe4ef 38.32%,#d9e9f2 38.67%,#e1edf3 39.01%,#e7eff4 39.36%,#ebf1f5 39.71%,#eef3f5 40.06%,#eff3f6 40.41%,#f0f4f6 40.76%,#f0f4f6 41.10%,#ecf2f5 45.63%,#eff3f6 50.16%,#f1f4f6 54.69%,#f1f4f6 59.22%,#f2f4f6 63.75%,#f2f5f6 68.28%,#f3f5f6 72.81%,#f3f5f6 77.34%,#f3f5f6 81.87%,#f3f5f6 86.40%,#f3f5f6 90.93%,#f3f5f6 95.46%,#f4f5f6 99.99%)"></div>
<div style="top:457.61px;height:6.15px;background:linear-gradient(90deg,#f8f3f0 0.00%,#f8f2ef 2.31%,#f8f1ed 4.62%,#f8f1ed 6.93%,#f9f0ea 9.24%,#f9ece4 11.55%,#faeae1 13.87%,#fbe6da 16.18%,#fce2d3 18.49%,#fddcc9 20.80%,#facbb2 23.11%,#f7b99b 25.42%,#f7b698 25.77%,#f6b394 26.12%,#f6af8f 26.47%,#f5ab8a 26.81%,#f5a987 27.16%,#f5aa88 27.51%,#f5ac8b 27.86%,#f6af8f 28.21%,#f6b495 28.56%,#f7ba9d 28.91%,#f9c2a8 29.25%,#fbcdb5 29.60%,#fdd9c5 29.95%,#fbe5d8 30.30%,#f7f6f6 30.65%,#e0ecf3 31.00%,#c5dfed 31.35%,#a3cee3 31.69%,#82bbd9 32.04%,#519cc8 32.39%,#3784bb 32.74%,#2c74b3 33.09%,#2267ad 33.44%,#1c5c9e 33.79%,#185595 34.13%,#185494 34.48%,#1a599a 34.83%,#1f62a7 35.18%,#276eb0 35.53%,#307ab6 35.88%,#3a86bd 36.23%,#4795c4 36.57%,#66a9cf 36.92%,#88bfdb 37.27%,#a4cee3 37.62%,#bbdaea 37.97%,#cee4ef 38.32%,#d9e9f1 38.67%,#e1ecf3 39.01%,#e7eff4 39.36%,#ebf1f5 39.71%,#eef3f5 40.06%,#eff3f6 40.41%,#f0f4f6 40.76%,#f0f4f6 41.10%,#ecf2f5 45.63%,#eff3f5 50.16%,#f1f4f6 54.69%,#f1f4f6 59.22%,#f2f4f6 63.75%,#f2f5f6 68.28%,#f2f5f6 72.81%,#f3f5f6 77.34%,#f3f5f6 81.87%,#f3f5f6 86.40%,#f3f5f6 90.93%,#f3f5f6 95.46%,#f4f5f6 99.99%)"></div>
<div style="top:463.16px;height:6.15px;background:linear-gradient(90deg,#f8f3f0 0.00%,#f8f2ee 2.31%,#f8f1ed 4.62%,#f8f1ec 6.93%,#f9f0ea 9.24%,#f9ece4 11.55%,#faeae0 13.87%,#fbe6da 16.18%,#fce1d2 18.49%,#fddbc8 20.80%,#fac9b0 23.11%,#f7b799 25.42%,#f6b495 25.77%,#f6b191 26.12%,#f5ad8c 26.47%,#f5a987 26.81%,#f4a784 27.16%,#f4a885 27.51%,#f5aa88 27.86%,#f5ad8c 28.21%,#f6b292 28.56%,#f7b89a 28.91%,#f9c1a5 29.25%,#facbb3 29.60%,#fcd8c3 29.95%,#fbe5d8 30.30%,#f7f6f6 30.65%,#e0ecf3 31.00%,#c4deec 31.35%,#a2cde2 31.69%,#80b9d8 32.04%,#4e9ac7 32.39%,#3682ba 32.74%,#2a72b2 33.09%,#2065aa 33.44%,#1a599a 33.79%,#175291 34.13%,#16518f 34.48%,#195696 34.83%,#1e60a3 35.18%,#256baf 35.53%,#2e78b5 35.88%,#3884bc 36.23%,#4393c3 36.57%,#63a7ce 36.92%,#86bdda 37.27%,#a2cde3 37.62%,#b9d9e9 37.97%,#cde3ef 38.32%,#d9e9f1 38.67%,#e0ecf3 39.01%,#e7eff4 39.36%,#ebf1f5 39.71%,#edf2f5 40.06%,#eff3f5 40.41%,#f0f4f6 40.76%,#f0f4f6 41.10%,#ebf2f5 45.63%,#eff3f5 50.16%,#f0f4f6 54.69%,#f1f4f6 59.22%,#f2f4f6 63.75%,#f2f5f6 68.28%,#f2f5f6 72.81%,#f3f5f6 77.34%,#f3f5f6 81.87%,#f3f5f6 86.40%,#f3f5f6 90.93%,#f3f5f6 95.46%,#f4f5f6 99.99%)"></div>
<div style="top:468.70px;height:6.15px;background:linear-gradient(90deg,#f8f3f0 0.00%,#f8f2ee 2.31%,#f8f1ed 4.62%,#f8f1ec 6.93%,#f9efea 9.24%,#f9ece4 11.55%,#fae9e0 13.87%,#fbe6d9 16.18%,#fce1d1 18.49%,#fddbc6 20.80%,#fac8ae 23.11%,#f7b596 25.42%,#f6b292 25.77%,#f6af8e 26.12%,#f5ab8a 26.47%,#f4a784 26.81%,#f4a481 27.16%,#f4a582 27.51%,#f4a885 27.86%,#f5ab8a 28.21%,#f6af8f 28.56%,#f7b697 28.91%,#f8bfa3 29.25%,#facab1 29.60%,#fcd7c1 29.95%,#fbe4d7 30.30%,#f7f6f6 30.65%,#e0ecf3 31.00%,#c3deec 31.35%,#a0cce2 31.69%,#7db8d7 32.04%,#4b98c6 32.39%,#3480b9 32.74%,#2870b1 33.09%,#1f62a6 33.44%,#195696 33.79%,#154f8c 34.13%,#154e8b 34.48%,#175392 34.83%,#1c5d9f 35.18%,#2369ae 35.53%,#2d75b4 35.88%,#3783bb 36.23%,#4292c2 36.57%,#61a6cd 36.92%,#84bcd9 37.27%,#a1cde2 37.62%,#b8d8e9 37.97%,#cce3ef 38.32%,#d8e8f1 38.67%,#e0ecf3 39.01%,#e6eff4 39.36%,#ebf1f5 39.71%,#edf2f5 40.06%,#eff3f5 40.41%,#f0f3f6 40.76%,#f0f4f6 41.10%,#ebf1f5 45.63%,#eff3f5 50.16%,#f0f4f6 54.69%,#f1f4f6 59.22%,#f1f4f6 63.75%,#f2f5f6 68.28%,#f2f5f6 72.81%,#f3f5f6 77.34%,#f3f5f6 81.87%,#f3f5f6 86.40%,#f3f5f6 90.93%,#f3f5f6 95.46%,#f3f5f6 99.99%)"></div>
<div style="top:474.25px;height:14.47px;background:linear-gradient(90deg,#f8f3f0 0.00%,#f8f2ee 2.31%,#f8f1ed 4.62%,#f8f1ec 6.93%,#f9efea 9.24%,#f9ebe3 11.55%,#fae9df 13.87%,#fbe5d8 16.18%,#fce0d0 18.49%,#fdd9c5 20.80%,#f9c6ac 23.11%,#f6b394 25.42%,#f6b090 25.77%,#f5ac8c 26.12%,#f5a987 26.47%,#f4a481 26.81%,#f2a17f 27.16%,#f3a280 27.51%,#f4a582 27.86%,#f5a987 28.21%,#f5ad8d 28.56%,#f6b495 28.91%,#f8bda1 29.25%,#fac8af 29.60%,#fcd5c0 29.95%,#fbe4d6 30.30%,#f7f6f6 30.65%,#e0ecf3 31.00%,#c2ddec 31.35%,#9ecbe2 31.69%,#7ab6d6 32.04%,#4896c5 32.39%,#337db8 32.74%,#266daf 33.09%,#1d5ea1 33.44%,#175290 33.79%,#134b87 34.13%,#134a86 34.48%,#154f8c 34.83%,#1a599a 35.18%,#2166ac 35.53%,#2b73b3 35.88%,#3580b9 36.23%,#408fc1 36.57%,#5da4cc 36.92%,#81bad8 37.27%,#9fcce2 37.62%,#b7d8e9 37.97%,#cbe2ee 38.32%,#d8e8f1 38.67%,#e0ecf3 39.01%,#e6eff4 39.36%,#ebf1f5 39.71%,#edf2f5 40.06%,#eff3f5 40.41%,#eff3f6 40.76%,#f0f4f6 41.10%,#ebf1f5 45.63%,#eef3f5 50.16%,#f0f4f6 54.69%,#f1f4f6 59.22%,#f1f4f6 63.75%,#f2f5f6 68.28%,#f2f5f6 72.81%,#f2f5f6 77.34%,#f3f5f6 81.87%,#f3f5f6 86.40%,#f3f5f6 90.93%,#f3f5f6 95.46%,#f3f5f6 99.99%)"></div>
<div style="top:488.12px;height:14.47px;background:linear-gradient(90deg,#f8f3f0 0.00%,#f8f2ee 2.31%,#f8f1ed 4.62%,#f8f0ec 6.93%,#f9efe9 9.24%,#faebe3 11.55%,#fae9df 13.87%,#fbe5d8 16.18%,#fce0cf 18.49%,#fdd8c3 20.80%,#f9c4aa 23.11%,#f6b191 25.42%,#f5ae8d 25.77%,#f5aa89 26.12%,#f4a684 26.47%,#f2a17f 26.81%,#f19e7d 27.16%,#f19f7e 27.51%,#f3a280 27.86%,#f4a684 28.21%,#f5ab8a 28.56%,#f6b292 28.91%,#f8bb9e 29.25%,#fac7ad 29.60%,#fcd4be 29.95%,#fbe4d6 30.30%,#f7f6f6 30.65%,#dfecf3 31.00%,#c0ddeb 31.35%,#9ccae1 31.69%,#77b4d5 32.04%,#4393c3 32.39%,#307ab6 32.74%,#246aae 33.09%,#1b5a9b 33.44%,#144e8a 33.79%,#114781 34.13%,#10467f 34.48%,#134b86 34.83%,#185594 35.18%,#1f62a7 35.53%,#2870b1 35.88%,#337db8 36.23%,#3e8dc0 36.57%,#59a1cb 36.92%,#7eb8d7 37.27%,#9dcbe1 37.62%,#b5d7e8 37.97%,#cae1ee 38.32%,#d7e8f1 38.67%,#dfecf3 39.01%,#e6eff4 39.36%,#eaf1f5 39.71%,#edf2f5 40.06%,#eef3f5 40.41%,#eff3f6 40.76%,#f0f4f6 41.10%,#ebf1f5 45.63%,#eef3f5 50.16%,#f0f4f6 54.69%,#f1f4f6 59.22%,#f1f4f6 63.75%,#f2f5f6 68.28%,#f2f5f6 72.81%,#f2f5f6 77.34%,#f3f5f6 81.87%,#f3f5f6 86.40%,#f3f5f6 90.93%,#f3f5f6 95.46%,#f3f5f6 99.99%)"></div>
<div style="top:501.98px;height:14.47px;background:linear-gradient(90deg,#f8f3f0 0.00%,#f8f2ee 2.31%,#f8f1ec 4.62%,#f8f0ec 6.93%,#f9efe9 9.24%,#faebe2 11.55%,#fae8de 13.87%,#fbe4d7 16.18%,#fcdfcf 18.49%,#fcd7c2 20.80%,#f9c3a8 23.11%,#f6af8e 25.42%,#f5ac8a 25.77%,#f5a886 26.12%,#f4a481 26.47%,#f19e7d 26.81%,#f09b7a 27.16%,#f09c7b 27.51%,#f29f7e 27.86%,#f4a481 28.21%,#f5a987 28.56%,#f6b090 28.91%,#f7b99c 29.25%,#f9c5ab 29.60%,#fcd3bc 29.95%,#fbe3d5 30.30%,#f7f6f5 30.65%,#dfebf3 31.00%,#bfdceb 31.35%,#9ac9e0 31.69%,#74b2d4 32.04%,#4191c2 32.39%,#2e77b5 32.74%,#2166ac 33.09%,#195695 33.44%,#124984 33.79%,#0e427a 34.13%,#0e4179 34.48%,#114680 34.83%,#16508e 35.18%,#1d5ea1 35.53%,#266caf 35.88%,#307ab6 36.23%,#3c8abe 36.57%,#559fc9 36.92%,#7ab6d6 37.27%,#9bc9e0 37.62%,#b4d6e8 37.97%,#c9e1ee 38.32%,#d6e8f1 38.67%,#dfecf3 39.01%,#e6eff4 39.36%,#eaf1f5 39.71%,#edf2f5 40.06%,#eef3f5 40.41%,#eff3f6 40.76%,#f0f4f6 41.10%,#ebf1f5 45.63%,#eef3f5 50.16%,#f0f4f6 54.69%,#f0f4f6 59.22%,#f1f4f6 63.75%,#f2f5f6 68.28%,#f2f5f6 72.81%,#f2f5f6 77.34%,#f2f5f6 81.87%,#f3f5f6 86.40%,#f3f5f6 90.93%,#f3f5f6 95.46%,#f3f5f6 99.99%)"></div>
<div style="top:515.85px;height:14.47px;background:linear-gradient(90deg,#f8f3ef 0.00%,#f8f1ee 2.31%,#f8f1ec 4.62%,#f8f0eb 6.93%,#f9efe9 9.24%,#faebe2 11.55%,#fae8de 13.87%,#fbe4d7 16.18%,#fcdfce 18.49%,#fcd6c0 20.80%,#f9c1a6 23.11%,#f5ad8c 25.42%,#f5a988 25.77%,#f4a683 26.12%,#f2a17f 26.47%,#f09b7a 26.81%,#ee9878 27.16%,#ef9979 27.51%,#f09c7b 27.86%,#f2a17f 28.21%,#f4a784 28.56%,#f5ae8d 28.91%,#f7b89a 29.25%,#f9c4a9 29.60%,#fbd1bb 29.95%,#fbe3d4 30.30%,#f7f6f5 30.65%,#deebf2 31.00%,#bedbea 31.35%,#98c8e0 31.69%,#70b0d2 32.04%,#3f8ec1 32.39%,#2c74b3 32.74%,#1f62a7 33.09%,#165290 33.44%,#10457e 33.79%,#0c3e74 34.13%,#0c3d73 34.48%,#0e427a 34.83%,#144c88 35.18%,#1b5a9b 35.53%,#2469ae 35.88%,#2e77b5 36.23%,#3a88bd 36.57%,#519cc8 36.92%,#77b4d5 37.27%,#99c8e0 37.62%,#b2d5e7 37.97%,#c7e0ed 38.32%,#d6e7f1 38.67%,#deebf2 39.01%,#e5eff4 39.36%,#eaf1f5 39.71%,#edf2f5 40.06%,#eef3f5 40.41%,#eff3f6 40.76%,#f0f3f6 41.10%,#eaf1f5 45.63%,#eef3f5 50.16%,#f0f4f6 54.69%,#f0f4f6 59.22%,#f1f4f6 63.75%,#f2f4f6 68.28%,#f2f5f6 72.81%,#f2f5f6 77.34%,#f2f5f6 81.87%,#f3f5f6 86.40%,#f3f5f6 90.93%,#f3f5f6 95.46%,#f3f5f6 99.99%)"></div>
<div style="top:529.71px;height:14.47px;background:linear-gradient(90deg,#f8f2ef 0.00%,#f8f1ed 2.31%,#f8f1ec 4.62%,#f8f0eb 6.93%,#f9efe9 9.24%,#faebe2 11.55%,#fae8dd 13.87%,#fbe4d6 16.18%,#fcdfcd 18.49%,#fcd5bf 20.80%,#f9c0a5 23.11%,#f5ac8b 25.42%,#f5a886 25.77%,#f4a582 26.12%,#f2a07e 26.47%,#ef9a79 26.81%,#ee9677 27.16%,#ee9878 27.51%,#f09b7a 27.86%,#f2a07e 28.21%,#f4a683 28.56%,#f5ad8c 28.91%,#f7b799 29.25%,#f9c3a8 29.60%,#fbd1ba 29.95%,#fbe3d4 30.30%,#f7f6f5 30.65%,#deebf2 31.00%,#bddbea 31.35%,#97c7df 31.69%,#6eaed2 32.04%,#3e8dc0 32.39%,#2b73b2 32.74%,#1e60a4 33.09%,#154f8c 33.44%,#0e427a 33.79%,#0b3b70 34.13%,#0a3a6f 34.48%,#0d3f76 34.83%,#124a84 35.18%,#1a5898 35.53%,#2267ad 35.88%,#2d76b4 36.23%,#3986bc 36.57%,#4f9bc7 36.92%,#75b3d4 37.27%,#97c8e0 37.62%,#b1d5e7 37.97%,#c7e0ed 38.32%,#d6e7f1 38.67%,#deebf2 39.01%,#e5eff4 39.36%,#eaf1f5 39.71%,#ecf2f5 40.06%,#eef3f5 40.41%,#eff3f6 40.76%,#eff3f6 41.10%,#eaf1f5 45.63%,#eef3f5 50.16%,#f0f4f6 54.69%,#f0f4f6 59.22%,#f1f4f6 63.75%,#f2f4f6 68.28%,#f2f5f6 72.81%,#f2f5f6 77.34%,#f2f5f6 81.87%,#f3f5f6 86.40%,#f3f5f6 90.93%,#f3f5f6 95.46%,#f3f5f6 99.99%)"></div>
<div style="top:543.58px;height:14.47px;background:linear-gradient(90deg,#f8f2ef 0.00%,#f8f1ed 2.31%,#f8f1ec 4.62%,#f8f0eb 6.93%,#f9efe9 9.24%,#faebe2 11.55%,#fae8dd 13.87%,#fbe4d6 16.18%,#fcdfcd 18.49%,#fcd5bf 20.80%,#f9c0a5 23.11%,#f5ac8b 25.42%,#f5a886 25.77%,#f4a582 26.12%,#f2a07e 26.47%,#ef9a79 26.81%,#ee9677 27.16%,#ee9878 27.51%,#f09b7a 27.86%,#f2a07e 28.21%,#f4a683 28.56%,#f5ad8c 28.91%,#f7b799 29.25%,#f9c3a8 29.60%,#fbd1ba 29.95%,#fbe3d4 30.30%,#f7f6f5 30.65%,#deebf2 31.00%,#bcdbea 31.35%,#96c7df 31.69%,#6eaed2 32.04%,#3e8cc0 32.39%,#2a72b2 32.74%,#1e5fa3 33.09%,#154e8b 33.44%,#0e4179 33.79%,#0a3a6f 34.13%,#0a396e 34.48%,#0c3e75 34.83%,#124983 35.18%,#195797 35.53%,#2267ac 35.88%,#2c75b4 36.23%,#3985bc 36.57%,#4e9ac7 36.92%,#74b2d4 37.27%,#97c8df 37.62%,#b1d5e7 37.97%,#c7e0ed 38.32%,#d5e7f1 38.67%,#deebf2 39.01%,#e5eef4 39.36%,#eaf1f5 39.71%,#ecf2f5 40.06%,#eef3f5 40.41%,#eff3f6 40.76%,#eff3f6 41.10%,#eaf1f5 45.63%,#eef3f5 50.16%,#f0f4f6 54.69%,#f0f4f6 59.22%,#f1f4f6 63.75%,#f2f4f6 68.28%,#f2f5f6 72.81%,#f2f5f6 77.34%,#f2f5f6 81.87%,#f3f5f6 86.40%,#f3f5f6 90.93%,#f3f5f6 95.46%,#f3f5f6 99.99%)"></div>
<div style="top:557.44px;height:14.47px;background:linear-gradient(90deg,#f8f2ef 0.00%,#f8f1ed 2.31%,#f8f1ec 4.62%,#f8f0eb 6.93%,#f9efe9 9.24%,#faebe2 11.55%,#fae8dd 13.87%,#fbe4d6 16.18%,#fcdfcd 18.49%,#fcd5bf 20.80%,#f9c0a5 23.11%,#f5ac8b 25.42%,#f5a886 25.77%,#f4a582 26.12%,#f2a07e 26.47%,#ef9a79 26.81%,#ee9677 27.16%,#ee9878 27.51%,#f09b7a 27.86%,#f2a07e 28.21%,#f4a683 28.56%,#f5ad8c 28.91%,#f7b799 29.25%,#f9c3a8 29.60%,#fbd1ba 29.95%,#fbe3d4 30.30%,#f7f6f5 30.65%,#deebf2 31.00%,#bcdaea 31.35%,#96c7df 31.69%,#6daed1 32.04%,#3e8cbf 32.39%,#2a72b2 32.74%,#1d5fa2 33.09%,#144e8a 33.44%,#0e4178 33.79%,#0a396e 34.13%,#09386c 34.48%,#0c3e74 34.83%,#114882 35.18%,#195696 35.53%,#2166ac 35.88%,#2c75b4 36.23%,#3885bc 36.57%,#4e9ac7 36.92%,#74b2d4 37.27%,#97c7df 37.62%,#b0d4e7 37.97%,#c6e0ed 38.32%,#d5e7f1 38.67%,#deebf2 39.01%,#e5eef4 39.36%,#eaf1f5 39.71%,#ecf2f5 40.06%,#eef3f5 40.41%,#eff3f6 40.76%,#eff3f6 41.10%,#eaf1f5 45.63%,#eef3f5 50.16%,#f0f4f6 54.69%,#f0f4f6 59.22%,#f1f4f6 63.75%,#f2f4f6 68.28%,#f2f5f6 72.81%,#f2f5f6 77.34%,#f2f5f6 81.87%,#f3f5f6 86.40%,#f3f5f6 90.93%,#f3f5f6 95.46%,#f3f5f6 99.99%)"></div>
<div style="top:571.31px;height:14.47px;background:linear-gradient(90deg,#f8f2ef 0.00%,#f8f1ed 2.31%,#f8f1ec 4.62%,#f8f0eb 6.93%,#f9efe9 9.24%,#faebe2 11.55%,#fae8dd 13.87%,#fbe4d6 16.18%,#fcdfcd 18.49%,#fcd5bf 20.80%,#f9c0a5 23.11%,#f5ac8b 25.42%,#f5a886 25.77%,#f4a582 26.12%,#f2a07e 26.47%,#ef9a79 26.81%,#ee9677 27.16%,#ee9878 27.51%,#f09b7a 27.86%,#f2a07e 28.21%,#f4a683 28.56%,#f5ad8c 28.91%,#f7b799 29.25%,#f9c3a8 29.60%,#fbd1ba 29.95%,#fbe3d4 30.30%,#f7f6f5 30.65%,#deebf2 31.00%,#bcdaea 31.35%,#96c7df 31.69%,#6dadd1 32.04%,#3d8bbf 32.39%,#2a71b2 32.74%,#1d5ea1 33.09%,#144d89 33.44%,#0d4077 33.79%,#0a396d 34.13%,#09386c 34.48%,#0c3d73 34.83%,#114782 35.18%,#195695 35.53%,#2166ac 35.88%,#2c74b3 36.23%,#3885bc 36.57%,#4d99c6 36.92%,#73b2d4 37.27%,#96c7df 37.62%,#b0d4e7 37.97%,#c6dfed 38.32%,#d5e7f1 38.67%,#deebf2 39.01%,#e5eef4 39.36%,#eaf1f5 39.71%,#ecf2f5 40.06%,#eef3f5 40.41%,#eff3f6 40.76%,#eff3f6 41.10%,#eaf1f5 45.63%,#eef3f5 50.16%,#f0f4f6 54.69%,#f0f4f6 59.22%,#f1f4f6 63.75%,#f2f4f6 68.28%,#f2f5f6 72.81%,#f2f5f6 77.34%,#f2f5f6 81.87%,#f3f5f6 86.40%,#f3f5f6 90.93%,#f3f5f6 95.46%,#f3f5f6 99.99%)"></div>
<div style="top:585.17px;height:14.47px;background:linear-gradient(90deg,#f8f2ef 0.00%,#f8f1ed 2.31%,#f8f1ec 4.62%,#f8f0eb 6.93%,#f9efe9 9.24%,#faebe2 11.55%,#fae8dd 13.87%,#fbe4d6 16.18%,#fcdfcd 18.49%,#fcd5bf 20.80%,#f9c0a5 23.11%,#f5ac8b 25.42%,#f5a886 25.77%,#f4a582 26.12%,#f2a07e 26.47%,#ef9a79 26.81%,#ee9677 27.16%,#ee9878 27.51%,#f09b7a 27.86%,#f2a07e 28.21%,#f4a683 28.56%,#f5ad8c 28.91%,#f7b799 29.25%,#f9c3a8 29.60%,#fbd1ba 29.95%,#fbe3d4 30.30%,#f7f6f5 30.65%,#deebf2 31.00%,#bcdaea 31.35%,#96c7df 31.69%,#6dadd1 32.04%,#3d8bbf 32.39%,#2a71b2 32.74%,#1d5ea1 33.09%,#144d89 33.44%,#0d4077 33.79%,#0a396d 34.13%,#09386c 34.48%,#0c3d73 34.83%,#114782 35.18%,#195695 35.53%,#2166ac 35.88%,#2c74b3 36.23%,#3885bc 36.57%,#4d99c6 36.92%,#73b2d4 37.27%,#96c7df 37.62%,#b0d4e7 37.97%,#c6dfed 38.32%,#d5e7f1 38.67%,#deebf2 39.01%,#e5eef4 39.36%,#eaf1f5 39.71%,#ecf2f5 40.06%,#eef3f5 40.41%,#eff3f6 40.76%,#eff3f6 41.10%,#eaf1f5 45.63%,#eef3f5 50.16%,#f0f4f6 54.69%,#f0f4f6 59.22%,#f1f4f6 63.75%,#f2f4f6 68.28%,#f2f5f6 72.81%,#f2f5f6 77.34%,#f2f5f6 81.87%,#f3f5f6 86.40%,#f3f5f6 90.93%,#f3f5f6 95.46%,#f3f5f6 99.99%)"></div>
<div style="top:599.04px;height:14.47px;background:linear-gradient(90deg,#f8f2ef 0.00%,#f8f1ed 2.31%,#f8f1ec 4.62%,#f8f0eb 6.93%,#f9efe9 9.24%,#faebe2 11.55%,#fae8dd 13.87%,#fbe4d6 16.18%,#fcdfcd 18.49%,#fcd5bf 20.80%,#f9c0a5 23.11%,#f5ac8b 25.42%,#f5a886 25.77%,#f4a582 26.12%,#f2a07e 26.47%,#ef9a79 26.81%,#ee9677 27.16%,#ee9878 27.51%,#f09b7a 27.86%,#f2a07e 28.21%,#f4a683 28.56%,#f5ad8c 28.91%,#f7b799 29.25%,#f9c3a8 29.60%,#fbd1ba 29.95%,#fbe3d4 30.30%,#f7f6f5 30.65%,#deebf2 31.00%,#bcdaea 31.35%,#96c7df 31.69%,#6dadd1 32.04%,#3d8bbf 32.39%,#2a71b2 32.74%,#1d5ea1 33.09%,#144d89 33.44%,#0d4077 33.79%,#0a396d 34.13%,#09386c 34.48%,#0c3d73 34.83%,#114782 35.18%,#195695 35.53%,#2166ac 35.88%,#2c74b3 36.23%,#3885bc 36.57%,#4d99c6 36.92%,#73b2d4 37.27%,#96c7df 37.62%,#b0d4e7 37.97%,#c6dfed 38.32%,#d5e7f1 38.67%,#deebf2 39.01%,#e5eef4 39.36%,#eaf1f5 39.71%,#ecf2f5 40.06%,#eef3f5 40.41%,#eff3f6 40.76%,#eff3f6 41.10%,#eaf1f5 45.63%,#eef3f5 50.16%,#f0f4f6 54.69%,#f0f4f6 59.22%,#f1f4f6 63.75%,#f2f4f6 68.28%,#f2f5f6 72.81%,#f2f5f6 77.34%,#f2f5f6 81.87%,#f3f5f6 86.40%,#f3f5f6 90.93%,#f3f5f6 95.46%,#f3f5f6 99.99%)"></div>
<div style="top:612.90px;height:14.47px;background:linear-gradient(90deg,#f8f2ef 0.00%,#f8f1ed 2.31%,#f8f1ec 4.62%,#f8f0eb 6.93%,#f9efe9 9.24%,#faebe2 11.55%,#fae8dd 13.87%,#fbe4d6 16.18%,#fcdfcd 18.49%,#fcd5bf 20.80%,#f9c0a5 23.11%,#f5ac8b 25.42%,#f5a886 25.77%,#f4a582 26.12%,#f2a07e 26.47%,#ef9a79 26.81%,#ee9677 27.16%,#ee9878 27.51%,#f09b7a 27.86%,#f2a07e 28.21%,#f4a683 28.56%,#f5ad8c 28.91%,#f7b799 29.25%,#f9c3a8 29.60%,#fbd1ba 29.95%,#fbe3d4 30.30%,#f7f6f5 30.65%,#deebf2 31.00%,#bcdaea 31.35%,#96c7df 31.69%,#6dadd1 32.04%,#3d8bbf 32.39%,#2a71b2 32.74%,#1d5ea1 33.09%,#144d89 33.44%,#0d4077 33.79%,#0a396d 34.13%,#09386c 34.48%,#0c3d73 34.83%,#114782 35.18%,#195695 35.53%,#2166ac 35.88%,#2c74b3 36.23%,#3885bc 36.57%,#4d99c6 36.92%,#73b2d4 37.27%,#96c7df 37.62%,#b0d4e7 37.97%,#c6dfed 38.32%,#d5e7f1 38.67%,#deebf2 39.01%,#e5eef4 39.36%,#eaf1f5 39.71%,#ecf2f5 40.06%,#eef3f5 40.41%,#eff3f6 40.76%,#eff3f6 41.10%,#eaf1f5 45.63%,#eef3f5 50.16%,#f0f4f6 54.69%,#f0f4f6 59.22%,#f1f4f6 63.75%,#f2f4f6 68.28%,#f2f5f6 72.81%,#f2f5f6 77.34%,#f2f5f6 81.87%,#f3f5f6 86.40%,#f3f5f6 90.93%,#f3f5f6 95.46%,#f3f5f6 99.99%)"></div>
<div style="top:626.77px;height:14.47px;background:linear-gradient(90deg,#f8f2ef 0.00%,#f8f1ed 2.31%,#f8f1ec 4.62%,#f8f0eb 6.93%,#f9efe9 9.24%,#faebe2 11.55%,#fae8dd 13.87%,#fbe4d6 16.18%,#fcdfcd 18.49%,#fcd5bf 20.80%,#f9c0a5 23.11%,#f5ac8b 25.42%,#f5a886 25.77%,#f4a582 26.12%,#f2a07e 26.47%,#ef9a79 26.81%,#ee9677 27.16%,#ee9878 27.51%,#f09b7a 27.86%,#f2a07e 28.21%,#f4a683 28.56%,#f5ad8c 28.91%,#f7b799 29.25%,#f9c3a8 29.60%,#fbd1ba 29.95%,#fbe3d4 30.30%,#f7f6f5 30.65%,#deebf2 31.00%,#bcdaea 31.35%,#96c7df 31.69%,#6dadd1 32.04%,#3d8bbf 32.39%,#2a71b2 32.74%,#1d5ea1 33.09%,#144d89 33.44%,#0d4077 33.79%,#0a396d 34.13%,#09386c 34.48%,#0c3d73 34.83%,#114782 35.18%,#195695 35.53%,#2166ac 35.88%,#2c74b3 36.23%,#3885bc 36.57%,#4d99c6 36.92%,#73b2d4 37.27%,#96c7df 37.62%,#b0d4e7 37.97%,#c6dfed 38.32%,#d5e7f1 38.67%,#deebf2 39.01%,#e5eef4 39.36%,#eaf1f5 39.71%,#ecf2f5 40.06%,#eef3f5 40.41%,#eff3f6 40.76%,#eff3f6 41.10%,#eaf1f5 45.63%,#eef3f5 50.16%,#f0f4f6 54.69%,#f0f4f6 59.22%,#f1f4f6 63.75%,#f2f4f6 68.28%,#f2f5f6 72.81%,#f2f5f6 77.34%,#f2f5f6 81.87%,#f3f5f6 86.40%,#f3f5f6 90.93%,#f3f5f6 95.46%,#f3f5f6 99.99%)"></div>
<div style="top:640.63px;height:14.46px;background:linear-gradient(90deg,#f8f2ef 0.00%,#f8f1ed 2.31%,#f8f1ec 4.62%,#f8f0eb 6.93%,#f9efe9 9.24%,#faebe2 11.55%,#fae8dd 13.87%,#fbe4d6 16.18%,#fcdfcd 18.49%,#fcd5bf 20.80%,#f9c0a5 23.11%,#f5ac8b 25.42%,#f5a886 25.77%,#f4a582 26.12%,#f2a07e 26.47%,#ef9a79 26.81%,#ee9677 27.16%,#ee9878 27.51%,#f09b7a 27.86%,#f2a07e 28.21%,#f4a683 28.56%,#f5ad8c 28.91%,#f7b799 29.25%,#f9c3a8 29.60%,#fbd1ba 29.95%,#fbe3d4 30.30%,#f7f6f5 30.65%,#deebf2 31.00%,#bcdaea 31.35%,#96c7df 31.69%,#6dadd1 32.04%,#3d8bbf 32.39%,#2a71b2 32.74%,#1d5ea1 33.09%,#144d89 33.44%,#0d4077 33.79%,#0a396d 34.13%,#09386c 34.48%,#0c3d73 34.83%,#114782 35.18%,#195695 35.53%,#2166ac 35.88%,#2c74b3 36.23%,#3885bc 36.57%,#4d99c6 36.92%,#73b2d4 37.27%,#96c7df 37.62%,#b0d4e7 37.97%,#c6dfed 38.32%,#d5e7f1 38.67%,#deebf2 39.01%,#e5eef4 39.36%,#eaf1f5 39.71%,#ecf2f5 40.06%,#eef3f5 40.41%,#eff3f6 40.76%,#eff3f6 41.10%,#eaf1f5 45.63%,#eef3f5 50.16%,#f0f4f6 54.69%,#f0f4f6 59.22%,#f1f4f6 63.75%,#f2f4f6 68.28%,#f2f5f6 72.81%,#f2f5f6 77.34%,#f2f5f6 81.87%,#f3f5f6 86.40%,#f3f5f6 90.93%,#f3f5f6 95.46%,#f3f5f6 99.99%)"></div>
<div style="top:654.50px;height:14.47px;background:linear-gradient(90deg,#f8f2ef 0.00%,#f8f1ed 2.31%,#f8f1ec 4.62%,#f8f0eb 6.93%,#f9efe9 9.24%,#faebe2 11.55%,#fae8dd 13.87%,#fbe4d6 16.18%,#fcdfcd 18.49%,#fcd5bf 20.80%,#f9c0a5 23.11%,#f5ac8b 25.42%,#f5a886 25.77%,#f4a582 26.12%,#f2a07e 26.47%,#ef9a79 26.81%,#ee9677 27.16%,#ee9878 27.51%,#f09b7a 27.86%,#f2a07e 28.21%,#f4a683 28.56%,#f5ad8c 28.91%,#f7b799 29.25%,#f9c3a8 29.60%,#fbd1ba 29.95%,#fbe3d4 30.30%,#f7f6f5 30.65%,#deebf2 31.00%,#bcdaea 31.35%,#96c7df 31.69%,#6dadd1 32.04%,#3d8bbf 32.39%,#2a71b2 32.74%,#1d5ea1 33.09%,#144d89 33.44%,#0d4077 33.79%,#0a396d 34.13%,#09386c 34.48%,#0c3d73 34.83%,#114782 35.18%,#195695 35.53%,#2166ac 35.88%,#2c74b3 36.23%,#3885bc 36.57%,#4d99c6 36.92%,#73b2d4 37.27%,#96c7df 37.62%,#b0d4e7 37.97%,#c6dfed 38.32%,#d5e7f1 38.67%,#deebf2 39.01%,#e5eef4 39.36%,#eaf1f5 39.71%,#ecf2f5 40.06%,#eef3f5 40.41%,#eff3f6 40.76%,#eff3f6 41.10%,#eaf1f5 45.63%,#eef3f5 50.16%,#f0f4f6 54.69%,#f0f4f6 59.22%,#f1f4f6 63.75%,#f2f4f6 68.28%,#f2f5f6 72.81%,#f2f5f6 77.34%,#f2f5f6 81.87%,#f3f5f6 86.40%,#f3f5f6 90.93%,#f3f5f6 95.46%,#f3f5f6 99.99%)"></div>
<div style="top:668.36px;height:2.24px;background:linear-gradient(90deg,#f8f2ef 0.00%,#f8f1ed 2.31%,#f8f1ec 4.62%,#f8f0eb 6.93%,#f9efe9 9.24%,#faebe2 11.55%,#fae8dd 13.87%,#fbe4d6 16.18%,#fcdfcd 18.49%,#fcd5bf 20.80%,#f9c0a5 23.11%,#f5ac8b 25.42%,#f5a886 25.77%,#f4a582 26.12%,#f2a07e 26.47%,#ef9a79 26.81%,#ee9677 27.16%,#ee9878 27.51%,#f09b7a 27.86%,#f2a07e 28.21%,#f4a683 28.56%,#f5ad8c 28.91%,#f7b799 29.25%,#f9c3a8 29.60%,#fbd1ba 29.95%,#fbe3d4 30.30%,#f7f6f5 30.65%,#deebf2 31.00%,#bcdaea 31.35%,#96c7df 31.69%,#6dadd1 32.04%,#3d8bbf 32.39%,#2a71b2 32.74%,#1d5ea1 33.09%,#144d89 33.44%,#0d4077 33.79%,#0a396d 34.13%,#09386c 34.48%,#0c3d73 34.83%,#114782 35.18%,#195695 35.53%,#2166ac 35.88%,#2c74b3 36.23%,#3885bc 36.57%,#4d99c6 36.92%,#73b2d4 37.27%,#96c7df 37.62%,#b0d4e7 37.97%,#c6dfed 38.32%,#d5e7f1 38.67%,#deebf2 39.01%,#e5eef4 39.36%,#eaf1f5 39.71%,#ecf2f5 40.06%,#eef3f5 40.41%,#eff3f6 40.76%,#eff3f6 41.10%,#eaf1f5 45.63%,#eef3f5 50.16%,#f0f4f6 54.69%,#f0f4f6 59.22%,#f1f4f6 63.75%,#f2f4f6 68.28%,#f2f5f6 72.81%,#f2f5f6 77.34%,#f2f5f6 81.87%,#f3f5f6 86.40%,#f3f5f6 90.93%,#f3f5f6 95.46%,#f3f5f6 99.99%)"></div>
</div>
<div id="cbar"></div>
<svg width="2120" height="859" viewBox="0 0 2120 859">
<rect x="128.0" y="56.0" width="724.4" height="670.0" fill="none" stroke="#262626" stroke-width="3.0"/>
<line x1="119.5" y1="58.8" x2="128.0" y2="58.8" stroke="#262626" stroke-width="2.6"/>
<text x="109.0" y="73.8" font-size="38.5" text-anchor="end" fill="#262626" stroke="#262626" stroke-width="0.45"  style="">6</text>
<line x1="119.5" y1="169.8" x2="128.0" y2="169.8" stroke="#262626" stroke-width="2.6"/>
<text x="109.0" y="184.8" font-size="38.5" text-anchor="end" fill="#262626" stroke="#262626" stroke-width="0.45"  style="">4</text>
<line x1="119.5" y1="280.7" x2="128.0" y2="280.7" stroke="#262626" stroke-width="2.6"/>
<text x="109.0" y="295.7" font-size="38.5" text-anchor="end" fill="#262626" stroke="#262626" stroke-width="0.45"  style="">2</text>
<line x1="119.5" y1="391.6" x2="128.0" y2="391.6" stroke="#262626" stroke-width="2.6"/>
<text x="109.0" y="406.6" font-size="38.5" text-anchor="end" fill="#262626" stroke="#262626" stroke-width="0.45"  style="">0</text>
<line x1="119.5" y1="502.5" x2="128.0" y2="502.5" stroke="#262626" stroke-width="2.6"/>
<text x="109.0" y="517.5" font-size="38.5" text-anchor="end" fill="#262626" stroke="#262626" stroke-width="0.45"  style="">-2</text>
<line x1="119.5" y1="613.4" x2="128.0" y2="613.4" stroke="#262626" stroke-width="2.6"/>
<text x="109.0" y="628.4" font-size="38.5" text-anchor="end" fill="#262626" stroke="#262626" stroke-width="0.45"  style="">-4</text>
<line x1="119.5" y1="724.4" x2="128.0" y2="724.4" stroke="#262626" stroke-width="2.6"/>
<text x="109.0" y="739.4" font-size="38.5" text-anchor="end" fill="#262626" stroke="#262626" stroke-width="0.45"  style="">-6</text>
<line x1="175.8" y1="726.0" x2="175.8" y2="734.5" stroke="#262626" stroke-width="2.6"/>
<text x="176.3" y="781.5" font-size="38" text-anchor="middle" fill="#262626" stroke="#262626" stroke-width="0.45"  style="">1.6</text>
<line x1="289.4" y1="726.0" x2="289.4" y2="734.5" stroke="#262626" stroke-width="2.6"/>
<text x="289.9" y="781.5" font-size="38" text-anchor="middle" fill="#262626" stroke="#262626" stroke-width="0.45"  style="">1.65</text>
<line x1="403.0" y1="726.0" x2="403.0" y2="734.5" stroke="#262626" stroke-width="2.6"/>
<text x="403.5" y="781.5" font-size="38" text-anchor="middle" fill="#262626" stroke="#262626" stroke-width="0.45"  style="">1.7</text>
<line x1="516.7" y1="726.0" x2="516.7" y2="734.5" stroke="#262626" stroke-width="2.6"/>
<text x="517.2" y="781.5" font-size="38" text-anchor="middle" fill="#262626" stroke="#262626" stroke-width="0.45"  style="">1.75</text>
<line x1="630.3" y1="726.0" x2="630.3" y2="734.5" stroke="#262626" stroke-width="2.6"/>
<text x="630.8" y="781.5" font-size="38" text-anchor="middle" fill="#262626" stroke="#262626" stroke-width="0.45"  style="">1.8</text>
<line x1="743.9" y1="726.0" x2="743.9" y2="734.5" stroke="#262626" stroke-width="2.6"/>
<text x="744.4" y="781.5" font-size="38" text-anchor="middle" fill="#262626" stroke="#262626" stroke-width="0.45"  style="">1.85</text>
<text x="490.8" y="827.7" font-size="39" text-anchor="middle" fill="#262626" stroke="#262626" stroke-width="0.45" textLength="193" lengthAdjust="spacingAndGlyphs" style="">Energy (eV)</text>
<text transform="translate(59.8,391.5) rotate(-90)" font-size="38" text-anchor="middle" textLength="80" lengthAdjust="spacingAndGlyphs" fill="#262626" stroke="#262626" stroke-width="0.45"><tspan font-style="italic">B</tspan> (T)</text>
<rect x="875.4" y="113.6" width="27.8" height="612.4" fill="none" stroke="#262626" stroke-opacity="0.75" stroke-width="1.2"/>
<line x1="896.4" y1="140.2" x2="903.2" y2="140.2" stroke="#262626" stroke-width="1.4"/>
<text x="912.3" y="152.8" font-size="35" text-anchor="start" fill="#262626" stroke="#262626" stroke-width="0.45"  style="">0.1</text>
<line x1="896.4" y1="280.4" x2="903.2" y2="280.4" stroke="#262626" stroke-width="1.4"/>
<text x="912.3" y="293.0" font-size="35" text-anchor="start" fill="#262626" stroke="#262626" stroke-width="0.45"  style="">0.05</text>
<line x1="896.4" y1="420.5" x2="903.2" y2="420.5" stroke="#262626" stroke-width="1.4"/>
<text x="912.3" y="433.1" font-size="35" text-anchor="start" fill="#262626" stroke="#262626" stroke-width="0.45"  style="">0</text>
<line x1="896.4" y1="560.6" x2="903.2" y2="560.6" stroke="#262626" stroke-width="1.4"/>
<text x="912.3" y="573.2" font-size="35" text-anchor="start" fill="#262626" stroke="#262626" stroke-width="0.45"  style="">-0.05</text>
<line x1="896.4" y1="700.8" x2="903.2" y2="700.8" stroke="#262626" stroke-width="1.4"/>
<text x="912.3" y="713.4" font-size="35" text-anchor="start" fill="#262626" stroke="#262626" stroke-width="0.45"  style="">-0.1</text>
<text x="868.0" y="92.3" font-size="39.5" text-anchor="start" fill="#262626" stroke="#262626" stroke-width="0.45"  style="font-style:italic">MCD</text>
<text x="1.5" y="52.0" font-size="66" text-anchor="start" fill="#000" stroke="#000" stroke-width="0.45" textLength="33.5" lengthAdjust="spacingAndGlyphs" style="font-weight:bold">a</text>
<text x="1074.0" y="51.5" font-size="66" text-anchor="start" fill="#000" stroke="#000" stroke-width="0.45"  style="font-weight:bold">b</text>
<text x="528.7" y="634.3" font-size="48" fill="#000" style="font-family:'DejaVu Serif','Liberation Serif',serif;font-style:italic">&#957;</text>
<text x="570" y="634.3" font-size="48" fill="#000" style="font-family:'DejaVu Sans',sans-serif">=</text>
<text x="621.7" y="634.3" font-size="50" fill="#000">2</text>
<text x="531.4" y="694" font-size="50" fill="#000" style="font-family:'Liberation Serif',serif;font-style:italic">E</text>
<text x="576" y="694" font-size="48" fill="#000" style="font-family:'DejaVu Sans',sans-serif">=</text>
<text x="625" y="694" font-size="50" fill="#000">0 mV/nm</text>
<clipPath id="cb"><rect x="1238.4" y="59.1" width="847.6" height="664.5"/></clipPath>
<g clip-path="url(#cb)" fill="none" stroke-width="5.0" stroke-linejoin="round" stroke-linecap="round">
<polyline stroke="#000" points="1239.0,404 1239.5,413 1240.0,412 1240.5,401 1241.0,402 1241.5,401 1242.0,408 1242.5,404 1243.0,409 1243.5,392 1244.0,415 1244.5,404 1245.0,409 1245.5,404 1246.0,402 1246.5,408 1247.0,410 1247.5,403 1248.0,404 1248.5,409 1249.0,399 1249.5,395 1250.0,407 1250.5,401 1251.0,392 1251.5,400 1252.0,402 1252.5,397 1253.0,395 1253.5,405 1254.0,411 1254.5,404 1255.0,400 1255.5,408 1256.0,410 1256.5,403 1257.0,409 1257.5,412 1258.0,404 1258.5,400 1259.0,408 1259.5,407 1260.0,413 1260.5,397 1261.0,401 1261.5,400 1262.0,395 1262.5,407 1263.0,409 1263.5,401 1264.0,415 1264.5,411 1265.0,410 1265.5,409 1266.0,412 1266.5,397 1267.0,410 1267.5,410 1268.0,395 1268.5,409 1269.0,405 1269.5,411 1270.0,404 1270.5,406 1271.0,409 1271.5,401 1272.0,410 1272.5,406 1273.0,410 1273.5,403 1274.0,414 1274.5,411 1275.0,406 1275.5,411 1276.0,415 1276.5,418 1277.0,397 1277.5,413 1278.0,410 1278.5,406 1279.0,400 1279.5,415 1280.0,399 1280.5,411 1281.0,416 1281.5,397 1282.0,405 1282.5,399 1283.0,409 1283.5,417 1284.0,420 1284.5,396 1285.0,404 1285.5,412 1286.0,418 1286.5,410 1287.0,403 1287.5,409 1288.0,407 1288.5,406 1289.0,403 1289.5,410 1290.0,410 1290.5,407 1291.0,406 1291.5,399 1292.0,404 1292.5,415 1293.0,406 1293.5,398 1294.0,416 1294.5,411 1295.0,421 1295.5,408 1296.0,405 1296.5,398 1297.0,416 1297.5,425 1298.0,403 1298.5,404 1299.0,412 1299.5,403 1300.0,406 1300.5,406 1301.0,409 1301.5,415 1302.0,408 1302.5,414 1303.0,405 1303.5,410 1304.0,394 1304.5,399 1305.0,413 1305.5,404 1306.0,412 1306.5,412 1307.0,417 1307.5,414 1308.0,415 1308.5,408 1309.0,404 1309.5,404 1310.0,406 1310.5,401 1311.0,405 1311.5,408 1312.0,411 1312.5,394 1313.0,397 1313.5,409 1314.0,411 1314.5,416 1315.0,413 1315.5,407 1316.0,407 1316.5,422 1317.0,415 1317.5,422 1318.0,423 1318.5,408 1319.0,415 1319.5,415 1320.0,416 1320.5,416 1321.0,415 1321.5,415 1322.0,406 1322.5,413 1323.0,410 1323.5,415 1324.0,412 1324.5,418 1325.0,419 1325.5,417 1326.0,417 1326.5,416 1327.0,413 1327.5,415 1328.0,413 1328.5,418 1329.0,416 1329.5,419 1330.0,409 1330.5,421 1331.0,412 1331.5,413 1332.0,416 1332.5,414 1333.0,419 1333.5,414 1334.0,411 1334.5,413 1335.0,424 1335.5,418 1336.0,411 1336.5,418 1337.0,409 1337.5,428 1338.0,410 1338.5,421 1339.0,421 1339.5,411 1340.0,420 1340.5,424 1341.0,421 1341.5,420 1342.0,424 1342.5,420 1343.0,421 1343.5,419 1344.0,423 1344.5,415 1345.0,424 1345.5,417 1346.0,414 1346.5,422 1347.0,429 1347.5,426 1348.0,418 1348.5,424 1349.0,419 1349.5,420 1350.0,422 1350.5,409 1351.0,423 1351.5,416 1352.0,418 1352.5,414 1353.0,414 1353.5,417 1354.0,427 1354.5,431 1355.0,423 1355.5,429 1356.0,422 1356.5,413 1357.0,424 1357.5,426 1358.0,422 1358.5,426 1359.0,427 1359.5,420 1360.0,417 1360.5,424 1361.0,424 1361.5,423 1362.0,431 1362.5,435 1363.0,424 1363.5,430 1364.0,431 1364.5,430 1365.0,432 1365.5,425 1366.0,431 1366.5,438 1367.0,432 1367.5,425 1368.0,432 1368.5,435 1369.0,431 1369.5,426 1370.0,438 1370.5,424 1371.0,433 1371.5,431 1372.0,425 1372.5,438 1373.0,433 1373.5,426 1374.0,435 1374.5,430 1375.0,423 1375.5,430 1376.0,435 1376.5,437 1377.0,435 1377.5,435 1378.0,437 1378.5,434 1379.0,442 1379.5,437 1380.0,438 1380.5,439 1381.0,431 1381.5,434 1382.0,445 1382.5,440 1383.0,437 1383.5,440 1384.0,437 1384.5,441 1385.0,436 1385.5,441 1386.0,432 1386.5,448 1387.0,439 1387.5,434 1388.0,441 1388.5,440 1389.0,443 1389.5,437 1390.0,445 1390.5,462 1391.0,438 1391.5,446 1392.0,443 1392.5,446 1393.0,437 1393.5,440 1394.0,449 1394.5,447 1395.0,455 1395.5,444 1396.0,449 1396.5,463 1397.0,445 1397.5,445 1398.0,449 1398.5,450 1399.0,455 1399.5,451 1400.0,447 1400.5,453 1401.0,465 1401.5,459 1402.0,439 1402.5,452 1403.0,449 1403.5,457 1404.0,454 1404.5,464 1405.0,460 1405.5,460 1406.0,457 1406.5,456 1407.0,458 1407.5,463 1408.0,460 1408.5,456 1409.0,464 1409.5,460 1410.0,459 1410.5,456 1411.0,457 1411.5,457 1412.0,448 1412.5,466 1413.0,464 1413.5,461 1414.0,467 1414.5,465 1415.0,465 1415.5,452 1416.0,463 1416.5,467 1417.0,473 1417.5,474 1418.0,473 1418.5,461 1419.0,457 1419.5,470 1420.0,468 1420.5,473 1421.0,468 1421.5,470 1422.0,463 1422.5,472 1423.0,469 1423.5,473 1424.0,474 1424.5,472 1425.0,474 1425.5,473 1426.0,477 1426.5,477 1427.0,473 1427.5,473 1428.0,484 1428.5,476 1429.0,482 1429.5,480 1430.0,476 1430.5,476 1431.0,480 1431.5,481 1432.0,484 1432.5,476 1433.0,479 1433.5,482 1434.0,490 1434.5,474 1435.0,486 1435.5,483 1436.0,488 1436.5,484 1437.0,488 1437.5,494 1438.0,490 1438.5,491 1439.0,491 1439.5,487 1440.0,493 1440.5,491 1441.0,489 1441.5,493 1442.0,493 1442.5,497 1443.0,495 1443.5,493 1444.0,502 1444.5,501 1445.0,503 1445.5,501 1446.0,498 1446.5,498 1447.0,499 1447.5,505 1448.0,502 1448.5,496 1449.0,502 1449.5,497 1450.0,505 1450.5,500 1451.0,500 1451.5,506 1452.0,506 1452.5,501 1453.0,511 1453.5,518 1454.0,504 1454.5,518 1455.0,508 1455.5,510 1456.0,512 1456.5,507 1457.0,519 1457.5,516 1458.0,512 1458.5,514 1459.0,511 1459.5,515 1460.0,520 1460.5,512 1461.0,517 1461.5,519 1462.0,522 1462.5,523 1463.0,518 1463.5,518 1464.0,521 1464.5,519 1465.0,520 1465.5,524 1466.0,526 1466.5,522 1467.0,521 1467.5,523 1468.0,517 1468.5,522 1469.0,520 1469.5,527 1470.0,524 1470.5,522 1471.0,521 1471.5,517 1472.0,522 1472.5,524 1473.0,519 1473.5,521 1474.0,520 1474.5,516 1475.0,519 1475.5,519 1476.0,516 1476.5,515 1477.0,515 1477.5,511 1478.0,512 1478.5,512 1479.0,506 1479.5,508 1480.0,503 1480.5,498 1481.0,499 1481.5,495 1482.0,495 1482.5,490 1483.0,491 1483.5,486 1484.0,485 1484.5,481 1485.0,479 1485.5,479 1486.0,474 1486.5,471 1487.0,466 1487.5,467 1488.0,463 1488.5,458 1489.0,456 1489.5,450 1490.0,447 1490.5,443 1491.0,441 1491.5,438 1492.0,433 1492.5,432 1493.0,430 1493.5,426 1494.0,425 1494.5,418 1495.0,413 1495.5,406 1496.0,397 1496.5,390 1497.0,378 1497.5,374 1498.0,361 1498.5,354 1499.0,343 1499.5,337 1500.0,329 1500.5,319 1501.0,310 1501.5,297 1502.0,289 1502.5,280 1503.0,271 1503.5,266 1504.0,255 1504.5,246 1505.0,238 1505.5,227 1506.0,219 1506.5,210 1507.0,204 1507.5,196 1508.0,189 1508.5,183 1509.0,173 1509.5,168 1510.0,164 1510.5,156 1511.0,152 1511.5,149 1512.0,145 1512.5,141 1513.0,135 1513.5,132 1514.0,130 1514.5,125 1515.0,123 1515.5,122 1516.0,117 1516.5,114 1517.0,113 1517.5,112 1518.0,110 1518.5,108 1519.0,108 1519.5,103 1520.0,102 1520.5,103 1521.0,99 1521.5,98 1522.0,96 1522.5,96 1523.0,96 1523.5,94 1524.0,95 1524.5,96 1525.0,93 1525.5,95 1526.0,93 1526.5,91 1527.0,92 1527.5,91 1528.0,95 1528.5,92 1529.0,97 1529.5,97 1530.0,94 1530.5,99 1531.0,102 1531.5,100 1532.0,104 1532.5,101 1533.0,106 1533.5,104 1534.0,109 1534.5,107 1535.0,108 1535.5,115 1536.0,120 1536.5,117 1537.0,122 1537.5,124 1538.0,126 1538.5,130 1539.0,135 1539.5,133 1540.0,139 1540.5,142 1541.0,142 1541.5,151 1542.0,155 1542.5,155 1543.0,163 1543.5,165 1544.0,169 1544.5,176 1545.0,178 1545.5,182 1546.0,188 1546.5,192 1547.0,196 1547.5,196 1548.0,200 1548.5,209 1549.0,210 1549.5,216 1550.0,218 1550.5,224 1551.0,226 1551.5,235 1552.0,236 1552.5,241 1553.0,246 1553.5,252 1554.0,253 1554.5,259 1555.0,264 1555.5,270 1556.0,274 1556.5,278 1557.0,284 1557.5,289 1558.0,296 1558.5,300 1559.0,305 1559.5,311 1560.0,317 1560.5,327 1561.0,324 1561.5,330 1562.0,336 1562.5,328 1563.0,332 1563.5,336 1564.0,342 1564.5,353 1565.0,348 1565.5,353 1566.0,350 1566.5,343 1567.0,345 1567.5,360 1568.0,358 1568.5,353 1569.0,365 1569.5,356 1570.0,368 1570.5,371 1571.0,363 1571.5,363 1572.0,372 1572.5,365 1573.0,374 1573.5,366 1574.0,375 1574.5,373 1575.0,371 1575.5,370 1576.0,375 1576.5,367 1577.0,374 1577.5,374 1578.0,379 1578.5,371 1579.0,384 1579.5,375 1580.0,372 1580.5,383 1581.0,384 1581.5,376 1582.0,373 1582.5,377 1583.0,374 1583.5,376 1584.0,384 1584.5,379 1585.0,378 1585.5,379 1586.0,377 1586.5,381 1587.0,381 1587.5,376 1588.0,378 1588.5,388 1589.0,380 1589.5,377 1590.0,386 1590.5,378 1591.0,373 1591.5,381 1592.0,374 1592.5,376 1593.0,379 1593.5,377 1594.0,375 1594.5,375 1595.0,375 1595.5,383 1596.0,375 1596.5,375 1597.0,386 1597.5,375 1598.0,384 1598.5,383 1599.0,377 1599.5,371 1600.0,379 1600.5,380 1601.0,381 1601.5,377 1602.0,382 1602.5,383 1603.0,372 1603.5,382 1604.0,377 1604.5,390 1605.0,375 1605.5,384 1606.0,379 1606.5,368 1607.0,375 1607.5,374 1608.0,373 1608.5,372 1609.0,367 1609.5,377 1610.0,369 1610.5,371 1611.0,370 1611.5,369 1612.0,375 1612.5,373 1613.0,368 1613.5,367 1614.0,369 1614.5,375 1615.0,371 1615.5,371 1616.0,369 1616.5,369 1617.0,371 1617.5,362 1618.0,377 1618.5,367 1619.0,367 1619.5,375 1620.0,371 1620.5,370 1621.0,367 1621.5,363 1622.0,370 1622.5,374 1623.0,365 1623.5,375 1624.0,364 1624.5,366 1625.0,371 1625.5,368 1626.0,371 1626.5,365 1627.0,364 1627.5,360 1628.0,363 1628.5,363 1629.0,361 1629.5,368 1630.0,364 1630.5,358 1631.0,377 1631.5,363 1632.0,361 1632.5,371 1633.0,371 1633.5,361 1634.0,359 1634.5,361 1635.0,370 1635.5,364 1636.0,362 1636.5,365 1637.0,370 1637.5,359 1638.0,363 1638.5,359 1639.0,374 1639.5,373 1640.0,370 1640.5,365 1641.0,369 1641.5,358 1642.0,368 1642.5,362 1643.0,362 1643.5,365 1644.0,367 1644.5,371 1645.0,372 1645.5,371 1646.0,366 1646.5,373 1647.0,370 1647.5,376 1648.0,368 1648.5,360 1649.0,370 1649.5,381 1650.0,374 1650.5,372 1651.0,376 1651.5,375 1652.0,375 1652.5,371 1653.0,374 1653.5,375 1654.0,371 1654.5,369 1655.0,375 1655.5,379 1656.0,377 1656.5,377 1657.0,377 1657.5,386 1658.0,376 1658.5,380 1659.0,383 1659.5,376 1660.0,376 1660.5,380 1661.0,382 1661.5,377 1662.0,377 1662.5,376 1663.0,370 1663.5,380 1664.0,374 1664.5,368 1665.0,374 1665.5,367 1666.0,370 1666.5,374 1667.0,370 1667.5,379 1668.0,368 1668.5,375 1669.0,376 1669.5,380 1670.0,378 1670.5,375 1671.0,374 1671.5,373 1672.0,378 1672.5,371 1673.0,376 1673.5,373 1674.0,375 1674.5,373 1675.0,383 1675.5,372 1676.0,376 1676.5,376 1677.0,378 1677.5,377 1678.0,378 1678.5,380 1679.0,370 1679.5,377 1680.0,372 1680.5,378 1681.0,372 1681.5,374 1682.0,378 1682.5,384 1683.0,381 1683.5,379 1684.0,384 1684.5,374 1685.0,369 1685.5,376 1686.0,377 1686.5,383 1687.0,387 1687.5,373 1688.0,388 1688.5,385 1689.0,382 1689.5,380 1690.0,388 1690.5,378 1691.0,376 1691.5,379 1692.0,372 1692.5,380 1693.0,377 1693.5,379 1694.0,379 1694.5,373 1695.0,383 1695.5,373 1696.0,381 1696.5,371 1697.0,379 1697.5,374 1698.0,378 1698.5,375 1699.0,368 1699.5,373 1700.0,378 1700.5,380 1701.0,371 1701.5,369 1702.0,374 1702.5,377 1703.0,375 1703.5,374 1704.0,381 1704.5,382 1705.0,381 1705.5,374 1706.0,378 1706.5,377 1707.0,372 1707.5,382 1708.0,378 1708.5,376 1709.0,384 1709.5,381 1710.0,382 1710.5,383 1711.0,381 1711.5,373 1712.0,377 1712.5,383 1713.0,375 1713.5,379 1714.0,381 1714.5,385 1715.0,385 1715.5,383 1716.0,378 1716.5,383 1717.0,382 1717.5,379 1718.0,385 1718.5,382 1719.0,377 1719.5,385 1720.0,379 1720.5,383 1721.0,374 1721.5,380 1722.0,376 1722.5,376 1723.0,372 1723.5,390 1724.0,380 1724.5,382 1725.0,385 1725.5,380 1726.0,383 1726.5,375 1727.0,382 1727.5,379 1728.0,383 1728.5,382 1729.0,376 1729.5,374 1730.0,377 1730.5,385 1731.0,383 1731.5,383 1732.0,373 1732.5,371 1733.0,379 1733.5,381 1734.0,379 1734.5,383 1735.0,381 1735.5,377 1736.0,378 1736.5,383 1737.0,382 1737.5,382 1738.0,392 1738.5,381 1739.0,383 1739.5,378 1740.0,381 1740.5,384 1741.0,385 1741.5,382 1742.0,384 1742.5,383 1743.0,374 1743.5,369 1744.0,392 1744.5,386 1745.0,382 1745.5,375 1746.0,377 1746.5,388 1747.0,371 1747.5,381 1748.0,386 1748.5,383 1749.0,386 1749.5,382 1750.0,393 1750.5,378 1751.0,377 1751.5,384 1752.0,389 1752.5,382 1753.0,387 1753.5,380 1754.0,378 1754.5,389 1755.0,389 1755.5,389 1756.0,381 1756.5,378 1757.0,378 1757.5,382 1758.0,385 1758.5,385 1759.0,377 1759.5,384 1760.0,383 1760.5,383 1761.0,383 1761.5,382 1762.0,385 1762.5,383 1763.0,384 1763.5,380 1764.0,385 1764.5,382 1765.0,374 1765.5,385 1766.0,382 1766.5,387 1767.0,382 1767.5,383 1768.0,384 1768.5,383 1769.0,381 1769.5,376 1770.0,391 1770.5,376 1771.0,382 1771.5,386 1772.0,385 1772.5,386 1773.0,386 1773.5,389 1774.0,384 1774.5,395 1775.0,379 1775.5,384 1776.0,382 1776.5,381 1777.0,385 1777.5,390 1778.0,381 1778.5,381 1779.0,386 1779.5,388 1780.0,399 1780.5,398 1781.0,396 1781.5,394 1782.0,396 1782.5,395 1783.0,391 1783.5,395 1784.0,395 1784.5,395 1785.0,394 1785.5,401 1786.0,398 1786.5,399 1787.0,394 1787.5,392 1788.0,395 1788.5,396 1789.0,395 1789.5,395 1790.0,399 1790.5,397 1791.0,393 1791.5,394 1792.0,394 1792.5,396 1793.0,392 1793.5,395 1794.0,398 1794.5,396 1795.0,393 1795.5,394 1796.0,396 1796.5,398 1797.0,399 1797.5,396 1798.0,392 1798.5,401 1799.0,397 1799.5,398 1800.0,397 1800.5,393 1801.0,396 1801.5,397 1802.0,400 1802.5,397 1803.0,387 1803.5,396 1804.0,398 1804.5,401 1805.0,399 1805.5,405 1806.0,402 1806.5,401 1807.0,400 1807.5,393 1808.0,400 1808.5,399 1809.0,396 1809.5,399 1810.0,399 1810.5,396 1811.0,397 1811.5,397 1812.0,398 1812.5,396 1813.0,399 1813.5,392 1814.0,397 1814.5,392 1815.0,396 1815.5,399 1816.0,398 1816.5,398 1817.0,398 1817.5,403 1818.0,394 1818.5,401 1819.0,393 1819.5,397 1820.0,399 1820.5,395 1821.0,399 1821.5,401 1822.0,394 1822.5,398 1823.0,397 1823.5,392 1824.0,398 1824.5,396 1825.0,403 1825.5,395 1826.0,404 1826.5,397 1827.0,405 1827.5,400 1828.0,400 1828.5,401 1829.0,401 1829.5,403 1830.0,404 1830.5,397 1831.0,394 1831.5,390 1832.0,397 1832.5,401 1833.0,400 1833.5,399 1834.0,397 1834.5,396 1835.0,397 1835.5,400 1836.0,393 1836.5,401 1837.0,394 1837.5,398 1838.0,396 1838.5,397 1839.0,395 1839.5,395 1840.0,397 1840.5,395 1841.0,406 1841.5,397 1842.0,396 1842.5,396 1843.0,395 1843.5,390 1844.0,397 1844.5,399 1845.0,393 1845.5,398 1846.0,394 1846.5,398 1847.0,399 1847.5,400 1848.0,399 1848.5,396 1849.0,401 1849.5,397 1850.0,399 1850.5,400 1851.0,397 1851.5,394 1852.0,400 1852.5,394 1853.0,395 1853.5,394 1854.0,401 1854.5,397 1855.0,391 1855.5,400 1856.0,405 1856.5,404 1857.0,396 1857.5,398 1858.0,400 1858.5,401 1859.0,398 1859.5,394 1860.0,400 1860.5,400 1861.0,394 1861.5,397 1862.0,399 1862.5,398 1863.0,399 1863.5,400 1864.0,399 1864.5,397 1865.0,393 1865.5,400 1866.0,402 1866.5,404 1867.0,398 1867.5,398 1868.0,402 1868.5,402 1869.0,399 1869.5,400 1870.0,395 1870.5,399 1871.0,395 1871.5,397 1872.0,397 1872.5,396 1873.0,391 1873.5,395 1874.0,399 1874.5,397 1875.0,396 1875.5,399 1876.0,400 1876.5,400 1877.0,395 1877.5,398 1878.0,396 1878.5,395 1879.0,393 1879.5,397 1880.0,395 1880.5,404 1881.0,397 1881.5,397 1882.0,396 1882.5,403 1883.0,394 1883.5,397 1884.0,395 1884.5,397 1885.0,397 1885.5,401 1886.0,393 1886.5,397 1887.0,402 1887.5,396 1888.0,397 1888.5,394 1889.0,389 1889.5,397 1890.0,401 1890.5,396 1891.0,391 1891.5,398 1892.0,397 1892.5,400 1893.0,400 1893.5,396 1894.0,398 1894.5,391 1895.0,401 1895.5,398 1896.0,401 1896.5,401 1897.0,396 1897.5,397 1898.0,394 1898.5,391 1899.0,397 1899.5,398 1900.0,394 1900.5,399 1901.0,397 1901.5,399 1902.0,395 1902.5,392 1903.0,400 1903.5,399 1904.0,397 1904.5,396 1905.0,396 1905.5,397 1906.0,396 1906.5,391 1907.0,400 1907.5,392 1908.0,396 1908.5,396 1909.0,398 1909.5,392 1910.0,401 1910.5,399 1911.0,400 1911.5,401 1912.0,395 1912.5,387 1913.0,398 1913.5,401 1914.0,401 1914.5,395 1915.0,397 1915.5,398 1916.0,391 1916.5,395 1917.0,395 1917.5,402 1918.0,395 1918.5,402 1919.0,397 1919.5,392 1920.0,404 1920.5,394 1921.0,399 1921.5,403 1922.0,395 1922.5,393 1923.0,400 1923.5,397 1924.0,393 1924.5,394 1925.0,396 1925.5,400 1926.0,396 1926.5,399 1927.0,402 1927.5,401 1928.0,402 1928.5,401 1929.0,392 1929.5,401 1930.0,398 1930.5,397 1931.0,394 1931.5,392 1932.0,394 1932.5,397 1933.0,393 1933.5,395 1934.0,395 1934.5,399 1935.0,396 1935.5,397 1936.0,401 1936.5,396 1937.0,399 1937.5,394 1938.0,398 1938.5,397 1939.0,398 1939.5,396 1940.0,394 1940.5,396 1941.0,396 1941.5,400 1942.0,400 1942.5,393 1943.0,399 1943.5,396 1944.0,399 1944.5,396 1945.0,392 1945.5,400 1946.0,399 1946.5,393 1947.0,391 1947.5,395 1948.0,393 1948.5,396 1949.0,399 1949.5,402 1950.0,396 1950.5,401 1951.0,401 1951.5,396 1952.0,392 1952.5,400 1953.0,399 1953.5,405 1954.0,402 1954.5,400 1955.0,402 1955.5,394 1956.0,398 1956.5,396 1957.0,403 1957.5,399 1958.0,387 1958.5,401 1959.0,394 1959.5,400 1960.0,396 1960.5,398 1961.0,399 1961.5,398 1962.0,394 1962.5,402 1963.0,398 1963.5,397 1964.0,399 1964.5,395 1965.0,403 1965.5,398 1966.0,398 1966.5,398 1967.0,394 1967.5,393 1968.0,398 1968.5,398 1969.0,401 1969.5,399 1970.0,394 1970.5,399 1971.0,400 1971.5,400 1972.0,398 1972.5,393 1973.0,401 1973.5,395 1974.0,399 1974.5,392 1975.0,400 1975.5,395 1976.0,401 1976.5,403 1977.0,401 1977.5,393 1978.0,394 1978.5,394 1979.0,399 1979.5,398 1980.0,398 1980.5,398 1981.0,399 1981.5,399 1982.0,402 1982.5,397 1983.0,398 1983.5,391 1984.0,393 1984.5,395 1985.0,393 1985.5,398 1986.0,400 1986.5,396 1987.0,395 1987.5,395 1988.0,397 1988.5,395 1989.0,398 1989.5,398 1990.0,398 1990.5,399 1991.0,397 1991.5,397 1992.0,403 1992.5,397 1993.0,400 1993.5,397 1994.0,396 1994.5,396 1995.0,394 1995.5,397 1996.0,395 1996.5,396 1997.0,401 1997.5,397 1998.0,401 1998.5,398 1999.0,400 1999.5,395 2000.0,397 2000.5,405 2001.0,400 2001.5,400 2002.0,398 2002.5,400 2003.0,393 2003.5,394 2004.0,398 2004.5,400 2005.0,396 2005.5,396 2006.0,396 2006.5,396 2007.0,393 2007.5,392 2008.0,397 2008.5,391 2009.0,394 2009.5,395 2010.0,394 2010.5,398 2011.0,396 2011.5,397 2012.0,394 2012.5,395 2013.0,399 2013.5,398 2014.0,395 2014.5,398 2015.0,398 2015.5,397 2016.0,402 2016.5,396 2017.0,398 2017.5,398 2018.0,396 2018.5,393 2019.0,399 2019.5,398 2020.0,397 2020.5,397 2021.0,397 2021.5,394 2022.0,398 2022.5,391 2023.0,397 2023.5,392 2024.0,396 2024.5,399 2025.0,396 2025.5,395 2026.0,398 2026.5,396 2027.0,396 2027.5,396 2028.0,402 2028.5,399 2029.0,398 2029.5,393 2030.0,399 2030.5,393 2031.0,398 2031.5,393 2032.0,403 2032.5,391 2033.0,401 2033.5,399 2034.0,391 2034.5,396 2035.0,401 2035.5,400 2036.0,391 2036.5,395 2037.0,393 2037.5,393 2038.0,395 2038.5,403 2039.0,397 2039.5,396 2040.0,396 2040.5,399 2041.0,399 2041.5,394 2042.0,401 2042.5,393 2043.0,396 2043.5,398 2044.0,402 2044.5,396 2045.0,398 2045.5,401 2046.0,399 2046.5,400 2047.0,400 2047.5,398 2048.0,399 2048.5,400 2049.0,397 2049.5,402 2050.0,390 2050.5,394 2051.0,401 2051.5,398 2052.0,395 2052.5,398 2053.0,400 2053.5,395 2054.0,399 2054.5,396 2055.0,396 2055.5,397 2056.0,400 2056.5,393 2057.0,396 2057.5,399 2058.0,393 2058.5,392 2059.0,399 2059.5,397 2060.0,396 2060.5,397 2061.0,394 2061.5,406 2062.0,394 2062.5,395 2063.0,392 2063.5,395 2064.0,402 2064.5,397 2065.0,399 2065.5,395 2066.0,403 2066.5,397 2067.0,393 2067.5,399 2068.0,396 2068.5,399 2069.0,397 2069.5,398 2070.0,397 2070.5,394 2071.0,392 2071.5,400 2072.0,396 2072.5,398 2073.0,395 2073.5,390 2074.0,393 2074.5,401 2075.0,394 2075.5,396 2076.0,392 2076.5,395 2077.0,396 2077.5,396 2078.0,396 2078.5,395"/>
<polyline stroke="#ff0000" points="1239.0,385 1239.5,383 1240.0,381 1240.5,366 1241.0,384 1241.5,367 1242.0,387 1242.5,385 1243.0,386 1243.5,386 1244.0,383 1244.5,377 1245.0,379 1245.5,390 1246.0,377 1246.5,379 1247.0,376 1247.5,377 1248.0,378 1248.5,382 1249.0,378 1249.5,378 1250.0,376 1250.5,380 1251.0,371 1251.5,380 1252.0,388 1252.5,375 1253.0,379 1253.5,398 1254.0,373 1254.5,369 1255.0,377 1255.5,391 1256.0,392 1256.5,371 1257.0,383 1257.5,379 1258.0,375 1258.5,366 1259.0,386 1259.5,373 1260.0,381 1260.5,379 1261.0,391 1261.5,386 1262.0,371 1262.5,377 1263.0,385 1263.5,370 1264.0,376 1264.5,380 1265.0,368 1265.5,370 1266.0,367 1266.5,380 1267.0,375 1267.5,384 1268.0,379 1268.5,382 1269.0,377 1269.5,383 1270.0,377 1270.5,371 1271.0,385 1271.5,384 1272.0,392 1272.5,377 1273.0,374 1273.5,368 1274.0,352 1274.5,369 1275.0,381 1275.5,372 1276.0,361 1276.5,381 1277.0,373 1277.5,375 1278.0,374 1278.5,376 1279.0,380 1279.5,366 1280.0,376 1280.5,374 1281.0,384 1281.5,370 1282.0,388 1282.5,381 1283.0,388 1283.5,372 1284.0,382 1284.5,379 1285.0,367 1285.5,375 1286.0,374 1286.5,371 1287.0,372 1287.5,367 1288.0,374 1288.5,379 1289.0,372 1289.5,367 1290.0,383 1290.5,374 1291.0,377 1291.5,375 1292.0,373 1292.5,381 1293.0,373 1293.5,377 1294.0,367 1294.5,366 1295.0,374 1295.5,389 1296.0,378 1296.5,389 1297.0,379 1297.5,379 1298.0,373 1298.5,376 1299.0,388 1299.5,384 1300.0,372 1300.5,373 1301.0,385 1301.5,373 1302.0,382 1302.5,370 1303.0,380 1303.5,386 1304.0,381 1304.5,378 1305.0,377 1305.5,375 1306.0,376 1306.5,383 1307.0,383 1307.5,378 1308.0,367 1308.5,372 1309.0,377 1309.5,376 1310.0,367 1310.5,380 1311.0,392 1311.5,367 1312.0,375 1312.5,394 1313.0,371 1313.5,371 1314.0,374 1314.5,376 1315.0,370 1315.5,377 1316.0,360 1316.5,374 1317.0,372 1317.5,369 1318.0,371 1318.5,369 1319.0,376 1319.5,366 1320.0,368 1320.5,360 1321.0,362 1321.5,366 1322.0,359 1322.5,363 1323.0,360 1323.5,364 1324.0,367 1324.5,372 1325.0,356 1325.5,365 1326.0,371 1326.5,374 1327.0,374 1327.5,358 1328.0,363 1328.5,369 1329.0,371 1329.5,367 1330.0,367 1330.5,366 1331.0,361 1331.5,366 1332.0,369 1332.5,363 1333.0,371 1333.5,349 1334.0,363 1334.5,373 1335.0,369 1335.5,372 1336.0,365 1336.5,357 1337.0,361 1337.5,372 1338.0,354 1338.5,358 1339.0,354 1339.5,360 1340.0,361 1340.5,366 1341.0,358 1341.5,372 1342.0,366 1342.5,360 1343.0,357 1343.5,354 1344.0,362 1344.5,372 1345.0,361 1345.5,356 1346.0,361 1346.5,358 1347.0,356 1347.5,351 1348.0,360 1348.5,368 1349.0,367 1349.5,365 1350.0,361 1350.5,362 1351.0,365 1351.5,359 1352.0,361 1352.5,357 1353.0,365 1353.5,354 1354.0,362 1354.5,363 1355.0,363 1355.5,362 1356.0,355 1356.5,355 1357.0,355 1357.5,355 1358.0,351 1358.5,355 1359.0,353 1359.5,352 1360.0,358 1360.5,352 1361.0,357 1361.5,363 1362.0,364 1362.5,355 1363.0,360 1363.5,356 1364.0,367 1364.5,363 1365.0,360 1365.5,353 1366.0,352 1366.5,356 1367.0,353 1367.5,352 1368.0,356 1368.5,346 1369.0,342 1369.5,346 1370.0,345 1370.5,351 1371.0,346 1371.5,350 1372.0,340 1372.5,358 1373.0,352 1373.5,345 1374.0,351 1374.5,355 1375.0,353 1375.5,348 1376.0,351 1376.5,352 1377.0,341 1377.5,340 1378.0,344 1378.5,352 1379.0,354 1379.5,347 1380.0,353 1380.5,350 1381.0,345 1381.5,341 1382.0,341 1382.5,345 1383.0,351 1383.5,348 1384.0,337 1384.5,337 1385.0,347 1385.5,344 1386.0,337 1386.5,345 1387.0,349 1387.5,345 1388.0,342 1388.5,348 1389.0,339 1389.5,337 1390.0,335 1390.5,349 1391.0,350 1391.5,339 1392.0,342 1392.5,341 1393.0,343 1393.5,344 1394.0,341 1394.5,337 1395.0,334 1395.5,332 1396.0,323 1396.5,336 1397.0,332 1397.5,336 1398.0,335 1398.5,330 1399.0,332 1399.5,336 1400.0,335 1400.5,329 1401.0,329 1401.5,336 1402.0,333 1402.5,333 1403.0,331 1403.5,335 1404.0,331 1404.5,343 1405.0,328 1405.5,326 1406.0,337 1406.5,328 1407.0,325 1407.5,330 1408.0,316 1408.5,329 1409.0,327 1409.5,327 1410.0,322 1410.5,331 1411.0,326 1411.5,324 1412.0,325 1412.5,319 1413.0,322 1413.5,315 1414.0,317 1414.5,323 1415.0,321 1415.5,324 1416.0,317 1416.5,319 1417.0,315 1417.5,319 1418.0,321 1418.5,322 1419.0,319 1419.5,312 1420.0,316 1420.5,310 1421.0,305 1421.5,314 1422.0,313 1422.5,316 1423.0,316 1423.5,306 1424.0,306 1424.5,310 1425.0,310 1425.5,310 1426.0,302 1426.5,306 1427.0,309 1427.5,314 1428.0,299 1428.5,311 1429.0,302 1429.5,296 1430.0,308 1430.5,296 1431.0,295 1431.5,303 1432.0,304 1432.5,299 1433.0,294 1433.5,290 1434.0,297 1434.5,285 1435.0,289 1435.5,299 1436.0,296 1436.5,298 1437.0,294 1437.5,287 1438.0,293 1438.5,283 1439.0,293 1439.5,296 1440.0,285 1440.5,293 1441.0,288 1441.5,287 1442.0,279 1442.5,286 1443.0,290 1443.5,278 1444.0,283 1444.5,282 1445.0,277 1445.5,288 1446.0,283 1446.5,283 1447.0,286 1447.5,278 1448.0,294 1448.5,278 1449.0,275 1449.5,281 1450.0,280 1450.5,274 1451.0,273 1451.5,280 1452.0,277 1452.5,277 1453.0,278 1453.5,271 1454.0,278 1454.5,273 1455.0,275 1455.5,268 1456.0,274 1456.5,271 1457.0,279 1457.5,268 1458.0,273 1458.5,269 1459.0,272 1459.5,266 1460.0,266 1460.5,256 1461.0,258 1461.5,265 1462.0,262 1462.5,262 1463.0,258 1463.5,260 1464.0,256 1464.5,257 1465.0,261 1465.5,260 1466.0,256 1466.5,258 1467.0,259 1467.5,258 1468.0,259 1468.5,257 1469.0,261 1469.5,258 1470.0,259 1470.5,264 1471.0,266 1471.5,266 1472.0,264 1472.5,263 1473.0,266 1473.5,268 1474.0,266 1474.5,266 1475.0,265 1475.5,266 1476.0,273 1476.5,269 1477.0,271 1477.5,273 1478.0,275 1478.5,274 1479.0,278 1479.5,280 1480.0,280 1480.5,281 1481.0,283 1481.5,282 1482.0,288 1482.5,289 1483.0,290 1483.5,294 1484.0,298 1484.5,300 1485.0,303 1485.5,306 1486.0,306 1486.5,309 1487.0,311 1487.5,311 1488.0,317 1488.5,317 1489.0,321 1489.5,325 1490.0,327 1490.5,334 1491.0,341 1491.5,347 1492.0,349 1492.5,364 1493.0,370 1493.5,377 1494.0,385 1494.5,391 1495.0,399 1495.5,408 1496.0,413 1496.5,422 1497.0,428 1497.5,435 1498.0,441 1498.5,449 1499.0,457 1499.5,462 1500.0,471 1500.5,478 1501.0,481 1501.5,492 1502.0,497 1502.5,504 1503.0,511 1503.5,514 1504.0,517 1504.5,525 1505.0,529 1505.5,532 1506.0,541 1506.5,541 1507.0,547 1507.5,557 1508.0,565 1508.5,576 1509.0,583 1509.5,592 1510.0,600 1510.5,605 1511.0,608 1511.5,614 1512.0,621 1512.5,624 1513.0,629 1513.5,634 1514.0,637 1514.5,639 1515.0,642 1515.5,647 1516.0,652 1516.5,655 1517.0,658 1517.5,658 1518.0,663 1518.5,666 1519.0,670 1519.5,668 1520.0,672 1520.5,675 1521.0,677 1521.5,678 1522.0,681 1522.5,681 1523.0,685 1523.5,683 1524.0,685 1524.5,682 1525.0,686 1525.5,685 1526.0,687 1526.5,686 1527.0,687 1527.5,684 1528.0,682 1528.5,683 1529.0,682 1529.5,679 1530.0,676 1530.5,678 1531.0,676 1531.5,674 1532.0,670 1532.5,668 1533.0,668 1533.5,664 1534.0,659 1534.5,656 1535.0,656 1535.5,653 1536.0,648 1536.5,644 1537.0,644 1537.5,639 1538.0,637 1538.5,631 1539.0,628 1539.5,624 1540.0,623 1540.5,619 1541.0,614 1541.5,614 1542.0,609 1542.5,606 1543.0,606 1543.5,601 1544.0,596 1544.5,591 1545.0,585 1545.5,581 1546.0,577 1546.5,575 1547.0,567 1547.5,562 1548.0,558 1548.5,553 1549.0,549 1549.5,545 1550.0,537 1550.5,536 1551.0,529 1551.5,522 1552.0,516 1552.5,513 1553.0,509 1553.5,506 1554.0,499 1554.5,495 1555.0,491 1555.5,488 1556.0,481 1556.5,481 1557.0,474 1557.5,472 1558.0,469 1558.5,466 1559.0,468 1559.5,457 1560.0,451 1560.5,450 1561.0,452 1561.5,444 1562.0,448 1562.5,441 1563.0,442 1563.5,432 1564.0,438 1564.5,437 1565.0,427 1565.5,433 1566.0,437 1566.5,425 1567.0,419 1567.5,419 1568.0,418 1568.5,422 1569.0,424 1569.5,413 1570.0,412 1570.5,407 1571.0,409 1571.5,413 1572.0,402 1572.5,412 1573.0,413 1573.5,413 1574.0,406 1574.5,401 1575.0,406 1575.5,402 1576.0,399 1576.5,403 1577.0,400 1577.5,413 1578.0,408 1578.5,408 1579.0,400 1579.5,410 1580.0,403 1580.5,408 1581.0,400 1581.5,406 1582.0,397 1582.5,403 1583.0,402 1583.5,397 1584.0,403 1584.5,401 1585.0,401 1585.5,406 1586.0,408 1586.5,402 1587.0,408 1587.5,407 1588.0,405 1588.5,409 1589.0,396 1589.5,408 1590.0,404 1590.5,401 1591.0,401 1591.5,406 1592.0,407 1592.5,405 1593.0,397 1593.5,396 1594.0,403 1594.5,405 1595.0,400 1595.5,406 1596.0,405 1596.5,405 1597.0,400 1597.5,408 1598.0,407 1598.5,409 1599.0,405 1599.5,398 1600.0,405 1600.5,408 1601.0,403 1601.5,399 1602.0,407 1602.5,407 1603.0,399 1603.5,402 1604.0,399 1604.5,391 1605.0,406 1605.5,413 1606.0,402 1606.5,412 1607.0,406 1607.5,408 1608.0,402 1608.5,408 1609.0,406 1609.5,408 1610.0,409 1610.5,411 1611.0,412 1611.5,409 1612.0,406 1612.5,414 1613.0,410 1613.5,408 1614.0,416 1614.5,412 1615.0,414 1615.5,404 1616.0,408 1616.5,419 1617.0,413 1617.5,413 1618.0,408 1618.5,411 1619.0,413 1619.5,411 1620.0,411 1620.5,404 1621.0,408 1621.5,410 1622.0,414 1622.5,414 1623.0,412 1623.5,409 1624.0,409 1624.5,413 1625.0,407 1625.5,412 1626.0,411 1626.5,412 1627.0,420 1627.5,412 1628.0,417 1628.5,420 1629.0,416 1629.5,414 1630.0,408 1630.5,421 1631.0,409 1631.5,405 1632.0,419 1632.5,408 1633.0,409 1633.5,411 1634.0,410 1634.5,405 1635.0,415 1635.5,417 1636.0,418 1636.5,415 1637.0,413 1637.5,412 1638.0,420 1638.5,418 1639.0,413 1639.5,416 1640.0,409 1640.5,416 1641.0,409 1641.5,413 1642.0,412 1642.5,402 1643.0,415 1643.5,412 1644.0,408 1644.5,408 1645.0,411 1645.5,410 1646.0,412 1646.5,411 1647.0,412 1647.5,411 1648.0,403 1648.5,403 1649.0,411 1649.5,410 1650.0,408 1650.5,403 1651.0,405 1651.5,405 1652.0,411 1652.5,404 1653.0,402 1653.5,404 1654.0,408 1654.5,413 1655.0,405 1655.5,411 1656.0,404 1656.5,404 1657.0,403 1657.5,409 1658.0,404 1658.5,410 1659.0,404 1659.5,413 1660.0,407 1660.5,406 1661.0,401 1661.5,411 1662.0,407 1662.5,406 1663.0,406 1663.5,404 1664.0,404 1664.5,408 1665.0,403 1665.5,406 1666.0,416 1666.5,406 1667.0,406 1667.5,411 1668.0,403 1668.5,413 1669.0,408 1669.5,403 1670.0,407 1670.5,405 1671.0,411 1671.5,406 1672.0,411 1672.5,400 1673.0,406 1673.5,410 1674.0,410 1674.5,408 1675.0,411 1675.5,410 1676.0,407 1676.5,407 1677.0,410 1677.5,407 1678.0,395 1678.5,399 1679.0,402 1679.5,408 1680.0,405 1680.5,407 1681.0,408 1681.5,406 1682.0,400 1682.5,407 1683.0,397 1683.5,398 1684.0,401 1684.5,393 1685.0,410 1685.5,413 1686.0,402 1686.5,401 1687.0,394 1687.5,405 1688.0,400 1688.5,398 1689.0,397 1689.5,402 1690.0,402 1690.5,402 1691.0,400 1691.5,395 1692.0,408 1692.5,406 1693.0,400 1693.5,397 1694.0,398 1694.5,405 1695.0,404 1695.5,403 1696.0,407 1696.5,400 1697.0,408 1697.5,403 1698.0,399 1698.5,404 1699.0,404 1699.5,399 1700.0,410 1700.5,395 1701.0,403 1701.5,404 1702.0,399 1702.5,402 1703.0,408 1703.5,397 1704.0,397 1704.5,401 1705.0,404 1705.5,406 1706.0,404 1706.5,397 1707.0,406 1707.5,405 1708.0,406 1708.5,394 1709.0,394 1709.5,398 1710.0,399 1710.5,401 1711.0,396 1711.5,396 1712.0,402 1712.5,392 1713.0,395 1713.5,400 1714.0,403 1714.5,401 1715.0,406 1715.5,401 1716.0,402 1716.5,403 1717.0,399 1717.5,394 1718.0,398 1718.5,398 1719.0,395 1719.5,401 1720.0,396 1720.5,392 1721.0,398 1721.5,394 1722.0,400 1722.5,387 1723.0,391 1723.5,398 1724.0,398 1724.5,398 1725.0,403 1725.5,396 1726.0,395 1726.5,400 1727.0,395 1727.5,398 1728.0,402 1728.5,396 1729.0,396 1729.5,394 1730.0,398 1730.5,399 1731.0,400 1731.5,399 1732.0,404 1732.5,396 1733.0,396 1733.5,394 1734.0,401 1734.5,396 1735.0,394 1735.5,390 1736.0,395 1736.5,399 1737.0,384 1737.5,391 1738.0,391 1738.5,392 1739.0,395 1739.5,393 1740.0,395 1740.5,396 1741.0,400 1741.5,394 1742.0,396 1742.5,394 1743.0,395 1743.5,393 1744.0,390 1744.5,396 1745.0,399 1745.5,390 1746.0,394 1746.5,394 1747.0,385 1747.5,402 1748.0,400 1748.5,399 1749.0,398 1749.5,390 1750.0,384 1750.5,394 1751.0,394 1751.5,393 1752.0,392 1752.5,398 1753.0,397 1753.5,393 1754.0,391 1754.5,403 1755.0,397 1755.5,394 1756.0,388 1756.5,387 1757.0,382 1757.5,392 1758.0,394 1758.5,392 1759.0,393 1759.5,394 1760.0,396 1760.5,386 1761.0,388 1761.5,397 1762.0,394 1762.5,395 1763.0,389 1763.5,399 1764.0,393 1764.5,392 1765.0,389 1765.5,393 1766.0,393 1766.5,392 1767.0,399 1767.5,397 1768.0,392 1768.5,390 1769.0,391 1769.5,394 1770.0,381 1770.5,394 1771.0,391 1771.5,401 1772.0,394 1772.5,392 1773.0,393 1773.5,390 1774.0,389 1774.5,392 1775.0,384 1775.5,392 1776.0,385 1776.5,389 1777.0,389 1777.5,395 1778.0,399 1778.5,398 1779.0,390 1779.5,391 1780.0,389 1780.5,389 1781.0,392 1781.5,391 1782.0,389 1782.5,395 1783.0,391 1783.5,394 1784.0,388 1784.5,390 1785.0,389 1785.5,389 1786.0,385 1786.5,389 1787.0,384 1787.5,389 1788.0,394 1788.5,392 1789.0,389 1789.5,387 1790.0,390 1790.5,385 1791.0,384 1791.5,384 1792.0,389 1792.5,384 1793.0,390 1793.5,391 1794.0,390 1794.5,387 1795.0,389 1795.5,384 1796.0,388 1796.5,393 1797.0,392 1797.5,383 1798.0,387 1798.5,386 1799.0,390 1799.5,388 1800.0,387 1800.5,385 1801.0,388 1801.5,387 1802.0,388 1802.5,387 1803.0,383 1803.5,389 1804.0,389 1804.5,388 1805.0,388 1805.5,391 1806.0,391 1806.5,393 1807.0,390 1807.5,390 1808.0,388 1808.5,384 1809.0,384 1809.5,389 1810.0,388 1810.5,389 1811.0,380 1811.5,387 1812.0,388 1812.5,386 1813.0,386 1813.5,381 1814.0,387 1814.5,391 1815.0,383 1815.5,389 1816.0,385 1816.5,388 1817.0,392 1817.5,387 1818.0,388 1818.5,389 1819.0,387 1819.5,391 1820.0,381 1820.5,386 1821.0,381 1821.5,382 1822.0,387 1822.5,384 1823.0,386 1823.5,392 1824.0,389 1824.5,399 1825.0,387 1825.5,388 1826.0,380 1826.5,388 1827.0,386 1827.5,389 1828.0,388 1828.5,386 1829.0,382 1829.5,390 1830.0,386 1830.5,383 1831.0,389 1831.5,382 1832.0,386 1832.5,382 1833.0,387 1833.5,383 1834.0,398 1834.5,392 1835.0,390 1835.5,389 1836.0,390 1836.5,391 1837.0,389 1837.5,385 1838.0,389 1838.5,383 1839.0,387 1839.5,390 1840.0,385 1840.5,390 1841.0,387 1841.5,396 1842.0,387 1842.5,390 1843.0,390 1843.5,389 1844.0,389 1844.5,387 1845.0,389 1845.5,389 1846.0,391 1846.5,392 1847.0,388 1847.5,393 1848.0,388 1848.5,385 1849.0,387 1849.5,386 1850.0,388 1850.5,388 1851.0,389 1851.5,392 1852.0,391 1852.5,387 1853.0,390 1853.5,388 1854.0,391 1854.5,392 1855.0,388 1855.5,391 1856.0,392 1856.5,389 1857.0,384 1857.5,388 1858.0,385 1858.5,391 1859.0,388 1859.5,389 1860.0,393 1860.5,390 1861.0,388 1861.5,382 1862.0,386 1862.5,385 1863.0,387 1863.5,384 1864.0,390 1864.5,392 1865.0,386 1865.5,383 1866.0,388 1866.5,387 1867.0,391 1867.5,387 1868.0,385 1868.5,383 1869.0,387 1869.5,380 1870.0,384 1870.5,390 1871.0,387 1871.5,387 1872.0,386 1872.5,383 1873.0,386 1873.5,389 1874.0,389 1874.5,384 1875.0,387 1875.5,390 1876.0,388 1876.5,392 1877.0,387 1877.5,382 1878.0,387 1878.5,388 1879.0,389 1879.5,389 1880.0,392 1880.5,389 1881.0,388 1881.5,386 1882.0,386 1882.5,391 1883.0,393 1883.5,388 1884.0,388 1884.5,387 1885.0,388 1885.5,387 1886.0,386 1886.5,390 1887.0,384 1887.5,388 1888.0,388 1888.5,389 1889.0,387 1889.5,384 1890.0,387 1890.5,384 1891.0,386 1891.5,385 1892.0,395 1892.5,380 1893.0,383 1893.5,391 1894.0,387 1894.5,383 1895.0,389 1895.5,394 1896.0,387 1896.5,390 1897.0,383 1897.5,385 1898.0,388 1898.5,388 1899.0,385 1899.5,385 1900.0,385 1900.5,385 1901.0,385 1901.5,385 1902.0,389 1902.5,383 1903.0,389 1903.5,393 1904.0,388 1904.5,386 1905.0,384 1905.5,386 1906.0,383 1906.5,388 1907.0,387 1907.5,390 1908.0,388 1908.5,390 1909.0,392 1909.5,390 1910.0,396 1910.5,391 1911.0,386 1911.5,389 1912.0,390 1912.5,388 1913.0,390 1913.5,389 1914.0,392 1914.5,387 1915.0,385 1915.5,386 1916.0,381 1916.5,379 1917.0,384 1917.5,386 1918.0,385 1918.5,391 1919.0,384 1919.5,383 1920.0,394 1920.5,382 1921.0,390 1921.5,387 1922.0,379 1922.5,390 1923.0,386 1923.5,389 1924.0,388 1924.5,388 1925.0,390 1925.5,394 1926.0,388 1926.5,387 1927.0,390 1927.5,389 1928.0,379 1928.5,389 1929.0,386 1929.5,387 1930.0,383 1930.5,393 1931.0,389 1931.5,386 1932.0,386 1932.5,387 1933.0,387 1933.5,390 1934.0,389 1934.5,386 1935.0,387 1935.5,389 1936.0,384 1936.5,386 1937.0,390 1937.5,387 1938.0,392 1938.5,384 1939.0,386 1939.5,385 1940.0,385 1940.5,390 1941.0,391 1941.5,388 1942.0,387 1942.5,393 1943.0,393 1943.5,381 1944.0,387 1944.5,381 1945.0,383 1945.5,385 1946.0,384 1946.5,389 1947.0,386 1947.5,387 1948.0,387 1948.5,393 1949.0,389 1949.5,390 1950.0,389 1950.5,391 1951.0,388 1951.5,387 1952.0,392 1952.5,388 1953.0,382 1953.5,384 1954.0,386 1954.5,389 1955.0,385 1955.5,392 1956.0,389 1956.5,387 1957.0,384 1957.5,390 1958.0,390 1958.5,384 1959.0,392 1959.5,391 1960.0,392 1960.5,387 1961.0,390 1961.5,381 1962.0,389 1962.5,386 1963.0,387 1963.5,389 1964.0,385 1964.5,387 1965.0,384 1965.5,385 1966.0,384 1966.5,389 1967.0,391 1967.5,384 1968.0,382 1968.5,387 1969.0,389 1969.5,388 1970.0,384 1970.5,387 1971.0,385 1971.5,386 1972.0,387 1972.5,386 1973.0,389 1973.5,386 1974.0,392 1974.5,388 1975.0,384 1975.5,390 1976.0,390 1976.5,388 1977.0,387 1977.5,388 1978.0,390 1978.5,387 1979.0,390 1979.5,386 1980.0,389 1980.5,384 1981.0,388 1981.5,389 1982.0,386 1982.5,389 1983.0,381 1983.5,387 1984.0,387 1984.5,389 1985.0,387 1985.5,391 1986.0,393 1986.5,388 1987.0,390 1987.5,393 1988.0,390 1988.5,391 1989.0,387 1989.5,389 1990.0,384 1990.5,390 1991.0,389 1991.5,389 1992.0,382 1992.5,391 1993.0,392 1993.5,392 1994.0,389 1994.5,392 1995.0,388 1995.5,386 1996.0,388 1996.5,385 1997.0,393 1997.5,380 1998.0,388 1998.5,385 1999.0,386 1999.5,390 2000.0,387 2000.5,391 2001.0,387 2001.5,387 2002.0,388 2002.5,391 2003.0,385 2003.5,387 2004.0,386 2004.5,386 2005.0,384 2005.5,387 2006.0,389 2006.5,392 2007.0,389 2007.5,386 2008.0,392 2008.5,382 2009.0,389 2009.5,384 2010.0,387 2010.5,383 2011.0,383 2011.5,386 2012.0,393 2012.5,389 2013.0,390 2013.5,386 2014.0,388 2014.5,385 2015.0,386 2015.5,387 2016.0,391 2016.5,389 2017.0,385 2017.5,387 2018.0,385 2018.5,389 2019.0,388 2019.5,388 2020.0,390 2020.5,389 2021.0,392 2021.5,385 2022.0,390 2022.5,387 2023.0,391 2023.5,386 2024.0,383 2024.5,386 2025.0,386 2025.5,384 2026.0,387 2026.5,391 2027.0,387 2027.5,390 2028.0,392 2028.5,391 2029.0,389 2029.5,391 2030.0,386 2030.5,384 2031.0,383 2031.5,391 2032.0,392 2032.5,387 2033.0,388 2033.5,381 2034.0,390 2034.5,387 2035.0,382 2035.5,389 2036.0,390 2036.5,390 2037.0,387 2037.5,389 2038.0,385 2038.5,392 2039.0,387 2039.5,392 2040.0,390 2040.5,387 2041.0,392 2041.5,386 2042.0,389 2042.5,388 2043.0,388 2043.5,389 2044.0,390 2044.5,387 2045.0,386 2045.5,387 2046.0,386 2046.5,385 2047.0,389 2047.5,383 2048.0,388 2048.5,386 2049.0,388 2049.5,389 2050.0,389 2050.5,388 2051.0,392 2051.5,386 2052.0,384 2052.5,387 2053.0,390 2053.5,393 2054.0,394 2054.5,389 2055.0,391 2055.5,393 2056.0,386 2056.5,393 2057.0,389 2057.5,388 2058.0,390 2058.5,390 2059.0,382 2059.5,388 2060.0,389 2060.5,386 2061.0,389 2061.5,387 2062.0,385 2062.5,388 2063.0,382 2063.5,389 2064.0,390 2064.5,389 2065.0,390 2065.5,387 2066.0,386 2066.5,382 2067.0,383 2067.5,386 2068.0,391 2068.5,388 2069.0,392 2069.5,390 2070.0,385 2070.5,386 2071.0,385 2071.5,383 2072.0,389 2072.5,390 2073.0,385 2073.5,391 2074.0,391 2074.5,386 2075.0,389 2075.5,385 2076.0,388 2076.5,390 2077.0,382 2077.5,393 2078.0,383 2078.5,388"/>
</g>
<rect x="1238.4" y="59.1" width="847.6" height="664.5" fill="none" stroke="#262626" stroke-width="4.0"/>
<line x1="1291.2" y1="723.6" x2="1291.2" y2="713.6" stroke="#262626" stroke-width="4.0"/>
<line x1="1291.2" y1="59.1" x2="1291.2" y2="69.1" stroke="#262626" stroke-width="4.0"/>
<line x1="1556.1" y1="723.6" x2="1556.1" y2="713.6" stroke="#262626" stroke-width="4.0"/>
<line x1="1556.1" y1="59.1" x2="1556.1" y2="69.1" stroke="#262626" stroke-width="4.0"/>
<line x1="1821.1" y1="723.6" x2="1821.1" y2="713.6" stroke="#262626" stroke-width="4.0"/>
<line x1="1821.1" y1="59.1" x2="1821.1" y2="69.1" stroke="#262626" stroke-width="4.0"/>
<text x="1291.2" y="786.0" font-size="49.5" text-anchor="middle" fill="#262626" stroke="#262626" stroke-width="0.45"  style="">1.6</text>
<text x="1556.1" y="786.0" font-size="49.5" text-anchor="middle" fill="#262626" stroke="#262626" stroke-width="0.45"  style="">1.7</text>
<text x="1821.1" y="786.0" font-size="49.5" text-anchor="middle" fill="#262626" stroke="#262626" stroke-width="0.45"  style="">1.8</text>
<text x="2086.0" y="786.0" font-size="49.5" text-anchor="middle" fill="#262626" stroke="#262626" stroke-width="0.45"  style="">1.9</text>
<line x1="1238.4" y1="114.5" x2="1248.4" y2="114.5" stroke="#262626" stroke-width="4.0"/>
<line x1="2086.0" y1="114.5" x2="2076.0" y2="114.5" stroke="#262626" stroke-width="4.0"/>
<text x="1220.5" y="132.8" font-size="49.5" text-anchor="end" fill="#262626" stroke="#262626" stroke-width="0.45"  style="">0.1</text>
<line x1="1238.4" y1="252.9" x2="1248.4" y2="252.9" stroke="#262626" stroke-width="4.0"/>
<line x1="2086.0" y1="252.9" x2="2076.0" y2="252.9" stroke="#262626" stroke-width="4.0"/>
<text x="1220.5" y="271.2" font-size="49.5" text-anchor="end" fill="#262626" stroke="#262626" stroke-width="0.45"  style="">0.05</text>
<line x1="1238.4" y1="391.4" x2="1248.4" y2="391.4" stroke="#262626" stroke-width="4.0"/>
<line x1="2086.0" y1="391.4" x2="2076.0" y2="391.4" stroke="#262626" stroke-width="4.0"/>
<text x="1220.5" y="409.7" font-size="49.5" text-anchor="end" fill="#262626" stroke="#262626" stroke-width="0.45"  style="">0</text>
<line x1="1238.4" y1="529.9" x2="1248.4" y2="529.9" stroke="#262626" stroke-width="4.0"/>
<line x1="2086.0" y1="529.9" x2="2076.0" y2="529.9" stroke="#262626" stroke-width="4.0"/>
<text x="1220.5" y="548.1" font-size="49.5" text-anchor="end" fill="#262626" stroke="#262626" stroke-width="0.45"  style="">-0.05</text>
<line x1="1238.4" y1="668.3" x2="1248.4" y2="668.3" stroke="#262626" stroke-width="4.0"/>
<line x1="2086.0" y1="668.3" x2="2076.0" y2="668.3" stroke="#262626" stroke-width="4.0"/>
<text x="1220.5" y="686.6" font-size="49.5" text-anchor="end" fill="#262626" stroke="#262626" stroke-width="0.45"  style="">-0.1</text>
<text x="1668.4" y="846.3" font-size="49.2" text-anchor="middle" fill="#262626" stroke="#262626" stroke-width="0.45"  style="">Energy (eV)</text>
<text transform="translate(1091.3,389.6) rotate(-90)" font-size="50.5" text-anchor="middle" fill="#262626" stroke="#262626" stroke-width="0.45" font-style="italic">MCD</text>
<line x1="1855.8" y1="106.3" x2="1917.6" y2="106.3" stroke="#000" stroke-width="4"/>
<line x1="1855.8" y1="160.7" x2="1917.6" y2="160.7" stroke="#ff0000" stroke-width="4"/>
<text x="1924.5" y="124.2" font-size="45" text-anchor="start" fill="#000" stroke="#000" stroke-width="0.45"  style=""><tspan font-style="italic">B</tspan>=5 T</text>
<text x="1924.5" y="178.0" font-size="45" text-anchor="start" fill="#000" stroke="#000" stroke-width="0.45"  style=""><tspan font-style="italic">B</tspan>=-5 T</text>
</svg>
</div>
</body></html>
